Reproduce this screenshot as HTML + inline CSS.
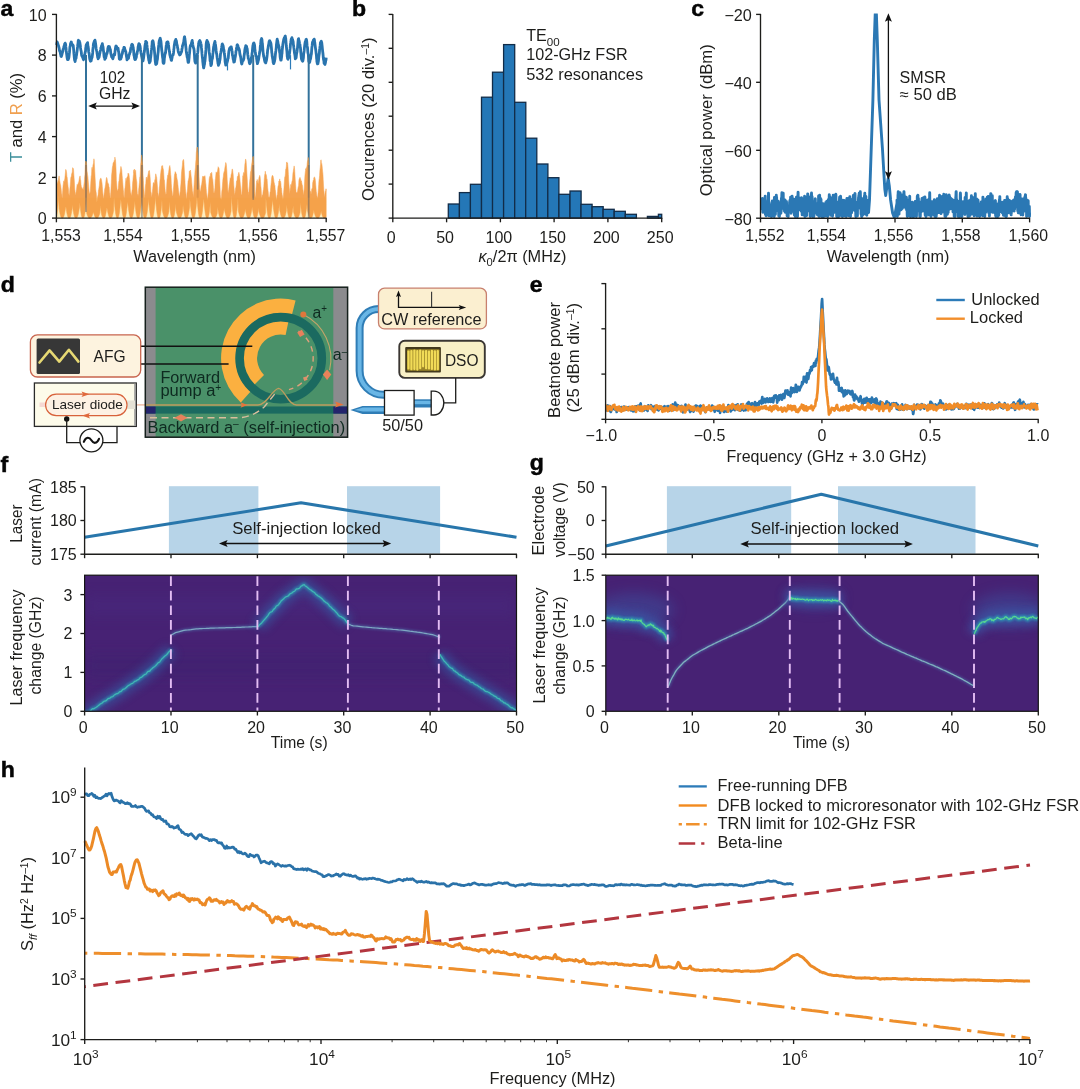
<!DOCTYPE html>
<html lang="en"><head><meta charset="utf-8"><title>Figure</title>
<style>html,body{margin:0;padding:0;background:#fff}svg{display:block}text{font-family:"Liberation Sans", sans-serif}</style></head>
<body>
<svg width="1080" height="1089" viewBox="0 0 1080 1089">
<rect width="1080" height="1089" fill="#ffffff"/>
<g>
<defs><filter id="gl1" filterUnits="userSpaceOnUse" x="0" y="540" width="1080" height="200"><feGaussianBlur stdDeviation="4.2"/></filter><filter id="gl2" filterUnits="userSpaceOnUse" x="0" y="540" width="1080" height="200"><feGaussianBlur stdDeviation="1.3"/></filter><filter id="gl3" filterUnits="userSpaceOnUse" x="0" y="540" width="1080" height="200"><feGaussianBlur stdDeviation="7"/></filter><filter id="gl0" filterUnits="userSpaceOnUse" x="0" y="540" width="1080" height="200"><feGaussianBlur stdDeviation="0.6"/></filter></defs>
</g>
<g>
<polyline points="56.4,44.9 56.6,44.1 56.8,43.2 57,43.1 57.2,42 57.4,43.5 57.6,43.3 57.7,43.2 57.9,44.6 58.1,44.5 58.3,45.6 58.5,45.8 58.7,46.2 58.9,47.6 59.1,47.7 59.3,49.1 59.5,50.7 59.7,50.9 59.9,51.8 60.1,51.2 60.3,52.4 60.4,53.6 60.6,54.4 60.8,55.2 61,56.3 61.2,56.5 61.4,56.4 61.6,55.3 61.8,55.1 62,54.4 62.2,52.7 62.4,52.9 62.6,51.6 62.8,51.7 63,49.6 63.1,49.3 63.3,49.1 63.5,48.4 63.7,48.2 63.9,46.4 64.1,46.8 64.3,45.9 64.5,44.8 64.7,43.8 64.9,43.5 65.1,43.1 65.3,43.7 65.5,43.8 65.7,44.8 65.8,46.9 66,47.9 66.2,50.7 66.4,52 66.6,53.8 66.8,55.3 67,57 67.2,58.3 67.4,59.2 67.6,59.6 67.8,59 68,59.4 68.2,59.5 68.4,59 68.5,58.2 68.7,58.3 68.9,57.3 69.1,55.6 69.3,53.5 69.5,52.2 69.7,49.5 69.9,47 70.1,46.3 70.3,45.6 70.5,43.9 70.7,43 70.9,42.9 71.1,42.5 71.2,42 71.4,42.1 71.6,43.6 71.8,43.6 72,44.9 72.2,44.4 72.4,44.4 72.6,44.7 72.8,45.1 73,45.8 73.2,45.5 73.4,47.4 73.6,49.3 73.8,51.6 73.9,53.4 74.1,55.3 74.3,57.6 74.5,59.4 74.7,60.5 74.9,60.1 75.1,61.6 75.3,60.4 75.5,58.9 75.7,58.6 75.9,58.6 76.1,58 76.3,55.8 76.5,55.2 76.6,54.8 76.8,52.8 77,51.9 77.2,50.1 77.4,48.2 77.6,46.7 77.8,44.3 78,43.5 78.2,41 78.4,40.3 78.6,41 78.8,41.1 79,41.5 79.2,41.3 79.3,41.1 79.5,41.6 79.7,42 79.9,43 80.1,44.3 80.3,45.5 80.5,47.5 80.7,49.1 80.9,50.4 81.1,50.8 81.3,52.1 81.5,54.2 81.7,55.4 81.9,55.1 82,55.8 82.2,56.5 82.4,56.6 82.6,57.4 82.8,57.5 83,58.6 83.2,58.4 83.4,59.4 83.6,59.8 83.8,58.9 84,58.9 84.2,57.2 84.4,55.5 84.6,55.9 84.7,54.4 84.9,53.9 85.1,52.6 85.3,51.9 85.5,51.3 85.7,48.1 85.9,47.6 86.1,45.4 86.3,45 86.5,44.5 86.7,44 86.9,44.5 87.1,44 87.3,44.4 87.4,43 87.6,42.6 87.8,44.8 88,46.4 88.2,47.3 88.4,48.3 88.6,51.2 88.8,52.6 89,52.8 89.2,53.9 89.4,55.9 89.6,58.1 89.8,59.4 90,59.2 90.1,60.3 90.3,60.9 90.5,61.2 90.7,60.9 90.9,60.2 91.1,60.9 91.3,60.1 91.5,58.8 91.7,58.4 91.9,57.7 92.1,57.3 92.3,55.7 92.5,54.4 92.7,52.9 92.8,50 93,48.4 93.2,46.7 93.4,44 93.6,43.7 93.8,42.8 94,42.2 94.2,41.6 94.4,41 94.6,41.1 94.8,40.8 95,40.2 95.2,41.3 95.4,42.3 95.5,43.3 95.7,44.5 95.9,46 96.1,48.7 96.3,49.2 96.5,50.2 96.7,51.1 96.9,51.7 97.1,54 97.3,54.2 97.5,56 97.7,57.6 97.9,57.7 98.1,58.8 98.2,58.2 98.4,58.3 98.6,57.8 98.8,57.7 99,57.6 99.2,56.6 99.4,55.5 99.6,54 99.8,53.6 100,52.2 100.2,51.5 100.4,50.5 100.6,50.2 100.8,49.2 100.9,47.7 101.1,47.6 101.3,47.1 101.5,45.9 101.7,45.5 101.9,45.9 102.1,44.9 102.3,43.6 102.5,44.6 102.7,46.1 102.9,46.2 103.1,47.4 103.3,49.5 103.5,51.4 103.6,51.3 103.8,53.4 104,55.7 104.2,57 104.4,57.2 104.6,57.8 104.8,59.4 105,58.7 105.2,57.7 105.4,57.2 105.6,58.3 105.8,57.8 106,56.1 106.2,56 106.3,55.3 106.5,54.2 106.7,53.2 106.9,53.8 107.1,53.1 107.3,52.2 107.5,51.5 107.7,49.8 107.9,48.8 108.1,47.1 108.3,47.3 108.5,46.4 108.7,46.4 108.9,47.1 109,47.9 109.2,47.7 109.4,46.7 109.6,47.5 109.8,48.4 110,48.5 110.2,49.3 110.4,49.7 110.6,51.8 110.8,53.4 111,54.1 111.2,55 111.4,55.4 111.6,56.8 111.7,56.1 111.9,55.9 112.1,56.6 112.3,57.8 112.5,58.1 112.7,57.6 112.9,58.8 113.1,57.8 113.3,57.2 113.5,55.6 113.7,55.3 113.9,55 114.1,54.3 114.3,54.5 114.4,54.8 114.6,55 114.8,53.8 115,51.6 115.2,50.2 115.4,48.6 115.6,47.3 115.8,46.3 116,46 116.2,47.2 116.4,47 116.6,46.6 116.8,47.2 117,47.5 117.1,47.7 117.3,47.9 117.5,48.9 117.7,49 117.9,48.1 118.1,48.4 118.3,50.1 118.5,51.5 118.7,51.7 118.9,53.9 119.1,56.1 119.3,58.9 119.5,58.3 119.7,58.3 119.8,59.3 120,58.7 120.2,58.9 120.4,58.3 120.6,58.6 120.8,59 121,58 121.2,57.8 121.4,57.3 121.6,55.7 121.8,55 122,53.6 122.2,53.5 122.4,53.6 122.5,51.7 122.7,52 122.9,50.2 123.1,50.3 123.3,50.5 123.5,48.9 123.7,48.4 123.9,47.5 124.1,48.5 124.3,47.3 124.5,47.7 124.7,48.5 124.9,49.7 125.1,50.3 125.2,50 125.4,51.3 125.6,51.3 125.8,51.6 126,53.1 126.2,54.5 126.4,56 126.6,57.1 126.8,57.9 127,59.9 127.2,59.1 127.4,58.4 127.6,58.5 127.8,58.8 127.9,58.7 128.1,58 128.3,57.9 128.5,58.3 128.7,56.9 128.9,56 129.1,54.7 129.3,54.5 129.5,54.2 129.7,53 129.9,53 130.1,52 130.3,52.1 130.5,50.1 130.6,49 130.8,48.6 131,47.2 131.2,47.2 131.4,46.2 131.6,45 131.8,44.4 132,44.3 132.2,44.5 132.4,44.7 132.6,44.8 132.8,45.8 133,47 133.2,47.2 133.3,48.3 133.5,50 133.7,51.7 133.9,55 134.1,56 134.3,56.1 134.5,58 134.7,59.1 134.9,59.6 135.1,58 135.3,58.1 135.5,59.4 135.7,58.2 135.9,57.1 136,57.5 136.2,57.7 136.4,56.7 136.6,54.6 136.8,53.4 137,54 137.2,52.2 137.4,51.2 137.6,51 137.8,50.4 138,48 138.2,46.3 138.4,45.9 138.6,44.8 138.7,44.3 138.9,43.7 139.1,44.6 139.3,44.3 139.5,44.2 139.7,45.3 139.9,45.6 140.1,46.3 140.3,47.9 140.5,49.5 140.7,50.8 140.9,52.3 141.1,53.4 141.3,53.9 141.4,54.3 141.6,56 141.8,56.8 142,57.7 142.2,58.9 142.4,59.7 142.6,61.1 142.8,60.5 143,60.8 143.2,60 143.4,58.7 143.6,57.9 143.8,55.9 144,54.5 144.1,52.9 144.3,52.3 144.5,51 144.7,48.7 144.9,46.5 145.1,44.9 145.3,43.9 145.5,42.8 145.7,41.3 145.9,41.3 146.1,42.6 146.3,42.3 146.5,42.4 146.7,42.2 146.8,44.4 147,45.4 147.2,47.4 147.4,48.7 147.6,50.9 147.8,53.6 148,54.5 148.2,56.1 148.4,57.3 148.6,58.8 148.8,60.3 149,60.6 149.2,61.4 149.4,62.8 149.5,61.8 149.7,62.5 149.9,61.5 150.1,61.7 150.3,60.9 150.5,58.3 150.7,57.3 150.9,55.4 151.1,53.8 151.3,50.6 151.5,49.4 151.7,47.7 151.9,45.6 152.1,44.1 152.2,41.9 152.4,41.6 152.6,40.9 152.8,40.8 153,41.1 153.2,41.8 153.4,43.2 153.6,44.7 153.8,46.9 154,47.1 154.2,48.1 154.4,50.6 154.6,52.8 154.8,54.8 154.9,56.1 155.1,59.4 155.3,61.5 155.5,62.9 155.7,64.3 155.9,64.5 156.1,63.4 156.3,63.6 156.5,63.5 156.7,63.6 156.9,62.1 157.1,60.3 157.3,59.9 157.5,58.8 157.6,57 157.8,55 158,53.3 158.2,52.1 158.4,48.9 158.6,46.1 158.8,44.7 159,42.7 159.2,41.3 159.4,40.2 159.6,40.2 159.8,39.8 160,38.6 160.2,38.2 160.3,38.4 160.5,39.7 160.7,40.3 160.9,41.1 161.1,43.1 161.3,45.3 161.5,47.7 161.7,50 161.9,51.1 162.1,52.7 162.3,55 162.5,56.7 162.7,58 162.9,58.9 163,61.7 163.2,62.9 163.4,63 163.6,63.4 163.8,62.9 164,62.8 164.2,60.7 164.4,57.9 164.6,56.9 164.8,55 165,54.4 165.2,53.3 165.4,52.3 165.6,52.9 165.7,51.2 165.9,49.2 166.1,47 166.3,45.3 166.5,44.2 166.7,42.7 166.9,42.1 167.1,42.8 167.3,42.8 167.5,41.8 167.7,42 167.9,41.9 168.1,43.4 168.3,43.1 168.4,44.7 168.6,46.1 168.8,47.2 169,49.3 169.2,49.9 169.4,51.6 169.6,52.6 169.8,54.7 170,55.5 170.2,56.1 170.4,57.3 170.6,57.6 170.8,58 171,58.7 171.1,59.8 171.3,60.3 171.5,60.4 171.7,59.6 171.9,58.3 172.1,57.7 172.3,55.9 172.5,55.6 172.7,55 172.9,54.3 173.1,55 173.3,54.1 173.5,53 173.7,50.9 173.8,49.4 174,48.7 174.2,46 174.4,44.3 174.6,43.6 174.8,42.3 175,41.2 175.2,40.8 175.4,40.6 175.6,40 175.8,39.4 176,40.2 176.2,41.4 176.4,40.9 176.5,41.7 176.7,43.2 176.9,44.8 177.1,44.8 177.3,45.7 177.5,47.4 177.7,48.2 177.9,48.9 178.1,50.5 178.3,51.7 178.5,52.4 178.7,52.8 178.9,53.1 179.1,53.7 179.2,53.6 179.4,54.1 179.6,55 179.8,54.7 180,54.8 180.2,54.7 180.4,54.3 180.6,53.7 180.8,53.7 181,52.8 181.2,52.2 181.4,51.5 181.6,51.8 181.8,50.4 181.9,48.9 182.1,48.7 182.3,47.4 182.5,45.8 182.7,45.3 182.9,44.8 183.1,44.3 183.3,43.3 183.5,42.6 183.7,42.2 183.9,40.2 184.1,38.9 184.3,37.4 184.5,36.8 184.6,36.7 184.8,38.3 185,39.3 185.2,40.9 185.4,42.9 185.6,44.7 185.8,46.8 186,48.1 186.2,50.7 186.4,52.3 186.6,53.5 186.8,54.8 187,55.7 187.2,57.2 187.3,57.2 187.5,57.7 187.7,59.3 187.9,61 188.1,62.3 188.3,62 188.5,62.4 188.7,61.7 188.9,59.3 189.1,57.8 189.3,54.7 189.5,53.7 189.7,51.3 189.9,48.7 190,47.8 190.2,46.5 190.4,45.5 190.6,45.6 190.8,45.6 191,45.9 191.2,44.4 191.4,43.2 191.6,42.6 191.8,42.1 192,40.9 192.2,40.4 192.4,42.1 192.6,42.7 192.7,44.2 192.9,45.3 193.1,46.4 193.3,47 193.5,48.1 193.7,48.1 193.9,48.9 194.1,50.2 194.3,52.8 194.5,55.6 194.7,59.1 194.9,61.2 195.1,61.8 195.3,62.8 195.4,62.4 195.6,63.1 195.8,62.2 196,62.3 196.2,62.6 196.4,61.5 196.6,60.4 196.8,59.3 197,57.3 197.2,55.7 197.4,53.9 197.6,53.1 197.8,52.2 198,50.2 198.1,48.2 198.3,46.8 198.5,45.2 198.7,44.1 198.9,42.1 199.1,41.8 199.3,41.3 199.5,41.1 199.7,41.1 199.9,40.5 200.1,42.5 200.3,41.8 200.5,42.1 200.7,42.7 200.8,43.3 201,44.3 201.2,44.8 201.4,47.4 201.6,49.3 201.8,51.1 202,53.9 202.2,55.8 202.4,57.8 202.6,59 202.8,61.8 203,63.4 203.2,65.3 203.4,66.2 203.5,67.4 203.7,67.9 203.9,66.9 204.1,65.9 204.3,64.8 204.5,64.3 204.7,61.9 204.9,61.4 205.1,59.7 205.3,57.4 205.5,54.8 205.7,51.9 205.9,49.9 206.1,46.2 206.2,44 206.4,42.7 206.6,42 206.8,41.2 207,40.4 207.2,41.7 207.4,42.6 207.6,41.6 207.8,42.1 208,42.6 208.2,43.4 208.4,44.5 208.6,44.4 208.8,46.7 208.9,47.9 209.1,51.4 209.3,53.3 209.5,54.3 209.7,55.7 209.9,57.9 210.1,60.8 210.3,60.3 210.5,61.8 210.7,63.9 210.9,65.7 211.1,65.3 211.3,64.7 211.5,64.2 211.6,63.5 211.8,60.7 212,59.8 212.2,58.4 212.4,58.5 212.6,56.6 212.8,54 213,53 213.2,50.8 213.4,49 213.6,46.8 213.8,46.7 214,45.1 214.2,43.9 214.3,43.9 214.5,42.9 214.7,42.6 214.9,41.5 215.1,42.4 215.3,43.7 215.5,44.7 215.7,46.4 215.9,47.9 216.1,50.2 216.3,51.9 216.5,53.4 216.7,54.2 216.9,55.1 217,56.6 217.2,57.9 217.4,59 217.6,60.3 217.8,61.7 218,63.6 218.2,63.6 218.4,65.3 218.6,64.7 218.8,64.1 219,64 219.2,62.7 219.4,63 219.6,61.7 219.7,60.9 219.9,60 220.1,58.8 220.3,56.7 220.5,54.1 220.7,53.1 220.9,52.3 221.1,51.4 221.3,50 221.5,48.4 221.7,47.5 221.9,46.3 222.1,44.4 222.3,44 222.4,44 222.6,44.8 222.8,45.4 223,45.3 223.2,46.3 223.4,47.5 223.6,49.3 223.8,50.5 224,50.1 224.2,52.4 224.4,54.1 224.6,55.3 224.8,57 225,59.5 225.1,61.5 225.3,62.9 225.5,63.4 225.7,65.1 225.9,64.8 226.1,64.2 226.3,64.1 226.5,63.5 226.7,63.7 226.9,62.7 227.1,62.3 227.3,60.9 227.5,61.1 227.7,60 227.8,59.2 228,58.5 228.2,58.3 228.4,56.4 228.6,53.6 228.8,51.9 229,50.6 229.2,50.2 229.4,49 229.6,48.4 229.8,48.1 230,48.3 230.2,48.3 230.4,47.5 230.5,47.3 230.7,47.1 230.9,47.9 231.1,46.9 231.3,46.9 231.5,48.4 231.7,49.2 231.9,50.3 232.1,51.2 232.3,53.8 232.5,55.6 232.7,55.4 232.9,57.2 233.1,58.6 233.2,59.3 233.4,59.5 233.6,60.6 233.8,62.2 234,61.4 234.2,61.4 234.4,61.8 234.6,60.3 234.8,59.8 235,58 235.2,57.3 235.4,56.3 235.6,54.5 235.8,53.4 235.9,51.8 236.1,50.9 236.3,49.9 236.5,48.1 236.7,47.7 236.9,46.5 237.1,45 237.3,44.7 237.5,45 237.7,45.3 237.9,45.8 238.1,47.3 238.3,47.3 238.5,48.2 238.6,47.8 238.8,49.2 239,49.3 239.2,49.2 239.4,50.7 239.6,51.4 239.8,53.3 240,54.6 240.2,55.3 240.4,56 240.6,56.7 240.8,57.9 241,59.3 241.2,61 241.3,62 241.5,62.9 241.7,64 241.9,63.8 242.1,62.7 242.3,61.9 242.5,60.7 242.7,60.3 242.9,60.7 243.1,60.5 243.3,60.5 243.5,59.4 243.7,59.2 243.9,58.4 244,56.7 244.2,55 244.4,54.1 244.6,52.3 244.8,50 245,49 245.2,47.9 245.4,47.2 245.6,46.4 245.8,45.6 246,46.7 246.2,46.9 246.4,47 246.6,46.4 246.7,47.6 246.9,49.1 247.1,48.3 247.3,49.7 247.5,51.9 247.7,54.2 247.9,55.6 248.1,56.8 248.3,58.5 248.5,58.8 248.7,58.9 248.9,60 249.1,60.6 249.3,62.6 249.4,62.9 249.6,63.5 249.8,63.7 250,63.1 250.2,63.2 250.4,62 250.6,61 250.8,61.9 251,60.2 251.2,58.9 251.4,58.1 251.6,56.7 251.8,56.6 252,53.7 252.1,53 252.3,52.1 252.5,49.5 252.7,47.3 252.9,45.6 253.1,45.1 253.3,43.8 253.5,43.9 253.7,43.1 253.9,43 254.1,44 254.3,44.1 254.5,44.8 254.7,46.4 254.8,48.3 255,49.9 255.2,51.4 255.4,52.6 255.6,54.6 255.8,55.1 256,56.4 256.2,56.3 256.4,56.5 256.6,58.8 256.8,59.8 257,61.6 257.2,62.4 257.4,63.7 257.5,63.3 257.7,62.7 257.9,62.2 258.1,61.1 258.3,60.8 258.5,59.8 258.7,58.9 258.9,57 259.1,55.8 259.3,54.8 259.5,53.3 259.7,51.7 259.9,51.3 260.1,50 260.2,47.7 260.4,45.5 260.6,44.5 260.8,42.5 261,40 261.2,40.3 261.4,39.3 261.6,38.5 261.8,39.1 262,39.8 262.2,42.5 262.4,43.3 262.6,46.1 262.8,48.4 262.9,49.9 263.1,52.6 263.3,53.5 263.5,55 263.7,56.5 263.9,57 264.1,57.9 264.3,58.6 264.5,60.1 264.7,60.9 264.9,61.8 265.1,62.3 265.3,62.3 265.5,62.7 265.6,62.9 265.8,62.7 266,61.6 266.2,61.2 266.4,60.6 266.6,59.4 266.8,58 267,56.5 267.2,54.9 267.4,52.8 267.6,50.7 267.8,49 268,48.8 268.2,47 268.3,46.3 268.5,45.1 268.7,44.8 268.9,42.9 269.1,41.6 269.3,41.4 269.5,40.8 269.7,40.7 269.9,41.4 270.1,42 270.3,41.8 270.5,42.5 270.7,42.8 270.9,43.4 271,44 271.2,46 271.4,47.7 271.6,50.1 271.8,52.9 272,53.3 272.2,56.1 272.4,56.9 272.6,58.4 272.8,59.3 273,60.5 273.2,62.5 273.4,62.7 273.6,63.7 273.7,63.6 273.9,63.2 274.1,62.6 274.3,61.8 274.5,61.4 274.7,60.1 274.9,59.4 275.1,57.3 275.3,55.4 275.5,53.5 275.7,51.8 275.9,50.7 276.1,48.8 276.3,47.2 276.4,45 276.6,43.5 276.8,42 277,40.2 277.2,39.2 277.4,40.2 277.6,40.7 277.8,41.5 278,43 278.2,44.5 278.4,44.6 278.6,45.3 278.8,46.7 279,46.7 279.1,48 279.3,49 279.5,50.9 279.7,52.9 279.9,53 280.1,56.5 280.3,58 280.5,58.8 280.7,60 280.9,58.8 281.1,60.2 281.3,59.1 281.5,57.6 281.7,56.3 281.8,54.3 282,53.6 282.2,50.3 282.4,48.6 282.6,47 282.8,44.7 283,43.5 283.2,42.2 283.4,41.4 283.6,40 283.8,39.2 284,38.6 284.2,38.4 284.4,37.7 284.5,38.3 284.7,37.6 284.9,37 285.1,36.2 285.3,36 285.5,37.9 285.7,38.1 285.9,40.7 286.1,43.3 286.3,46 286.5,47.5 286.7,49.6 286.9,51.4 287.1,54 287.2,56.2 287.4,56.8 287.6,58.5 287.8,59 288,59.3 288.2,58.2 288.4,57.2 288.6,58 288.8,56.6 289,54.9 289.2,54.7 289.4,54.1 289.6,52.9 289.8,51 289.9,50.1 290.1,48.7 290.3,46.5 290.5,43.9 290.7,43.6 290.9,42 291.1,39.6 291.3,39 291.5,39.3 291.7,38.6 291.9,37.7 292.1,38.4 292.3,39 292.5,40.6 292.6,39.5 292.8,41.2 293,41 293.2,42.1 293.4,44.8 293.6,45.5 293.8,47.5 294,48.8 294.2,50.4 294.4,52.7 294.6,53.4 294.8,54.4 295,55.7 295.2,57.5 295.3,58.9 295.5,57.9 295.7,57.3 295.9,57.8 296.1,57.8 296.3,56 296.5,54.4 296.7,53.1 296.9,52.3 297.1,51.2 297.3,49.2 297.5,48.1 297.7,45.4 297.9,43 298,41.9 298.2,39.8 298.4,39 298.6,38.6 298.8,40 299,40.5 299.2,41.1 299.4,42.4 299.6,43.6 299.8,44.2 300,44.8 300.2,46.9 300.4,47.4 300.6,49.4 300.7,51.6 300.9,53.4 301.1,55.3 301.3,57.5 301.5,59.2 301.7,59.6 301.9,59.7 302.1,60.7 302.3,59.9 302.5,60.6 302.7,61.2 302.9,60.7 303.1,59.5 303.3,58.5 303.4,57.8 303.6,54.7 303.8,52.8 304,52.1 304.2,50.4 304.4,48 304.6,46.1 304.8,44.6 305,43.2 305.2,42 305.4,42.1 305.6,41.3 305.8,40.3 306,39.6 306.1,39.5 306.3,39.3 306.5,39.8 306.7,41 306.9,43 307.1,45.7 307.3,46.9 307.5,47.5 307.7,50.2 307.9,52.7 308.1,53.3 308.3,54.3 308.5,57 308.7,59.8 308.8,61.3 309,61.6 309.2,62.3 309.4,62.6 309.6,61.8 309.8,61.9 310,60.6 310.2,59.5 310.4,59 310.6,58.8 310.8,57.2 311,55.7 311.2,54.6 311.4,54 311.5,52.3 311.7,49.7 311.9,47.4 312.1,45.9 312.3,44 312.5,42.2 312.7,41.7 312.9,41.4 313.1,41.6 313.3,41.2 313.5,39.8 313.7,40 313.9,39.9 314.1,39.5 314.2,39.2 314.4,39.7 314.6,41.9 314.8,42.7 315,44.3 315.2,46 315.4,47.6 315.6,49 315.8,50.3 316,52 316.2,53.8 316.4,55 316.6,58.4 316.8,59.8 316.9,61.7 317.1,62.4 317.3,63.4 317.5,63.9 317.7,63.6 317.9,63.8 318.1,62.3 318.3,61.9 318.5,60.4 318.7,57.8 318.9,56 319.1,54.7 319.3,53.8 319.5,51.2 319.6,49.4 319.8,48.2 320,46.8 320.2,45.2 320.4,42.8 320.6,42.5 320.8,42.2 321,41.5 321.2,41.2 321.4,42 321.6,42.1 321.8,43.1 322,45 322.2,46.6 322.3,47.8 322.5,49.7 322.7,51.8 322.9,53 323.1,55.1 323.3,57.8 323.5,59.2 323.7,60.1 323.9,60.9 324.1,63.3 324.3,63.2 324.5,63.4 324.7,63.6 324.9,64.3 325,64.4 325.2,62.7 325.4,63 325.6,61.4 325.8,60.5 326,59.8 326.2,57.6" fill="none" stroke="#2974ae" stroke-width="2.8" stroke-linejoin="round" />
<line x1="86" y1="55.1" x2="86" y2="216.1" stroke="#33729b" stroke-width="2.0" />
<line x1="141.9" y1="55.1" x2="141.9" y2="216.1" stroke="#33729b" stroke-width="2.0" />
<line x1="197.7" y1="55.1" x2="197.7" y2="216.1" stroke="#33729b" stroke-width="2.0" />
<line x1="253.2" y1="55.1" x2="253.2" y2="216.1" stroke="#33729b" stroke-width="2.0" />
<line x1="308.7" y1="55.1" x2="308.7" y2="216.1" stroke="#33729b" stroke-width="2.0" />
<line x1="227.5" y1="55.1" x2="227.5" y2="70.4" stroke="#2c7bb8" stroke-width="1.2" />
<line x1="290.5" y1="55.1" x2="290.5" y2="69.4" stroke="#2c7bb8" stroke-width="1.2" />
<rect x="56.4" y="197.7" width="269.8" height="20.4" fill="#ffefc0" stroke="none" stroke-width="1" rx="0" />
<polygon points="56.4,187 56.7,183.1 57,182.2 57.3,183.3 57.6,183.6 57.9,180.6 58.2,181.2 58.5,179.1 58.8,177.6 59.1,175.9 59.4,178.4 59.7,180.6 60,182.2 60.3,184.3 60.6,184.7 60.9,187.3 61.2,189.5 61.5,193.5 61.8,193.9 62.1,198.5 62.4,195.5 62.7,190.4 63,186.2 63.3,183.8 63.6,181.9 63.9,180.8 64.2,182.3 64.5,180 64.8,179 65.1,175.8 65.4,172.8 65.7,169.4 66,169.8 66.3,170.7 66.6,172.8 66.9,176.4 67.2,177.4 67.5,181.2 67.8,184 68.1,186.7 68.4,188.8 68.7,193.3 69,194.4 69.3,195.7 69.6,192.4 69.9,188.3 70.2,185.7 70.5,181.7 70.8,177.6 71.1,177.1 71.4,176.1 71.7,173.6 72,173.3 72.3,171.5 72.6,167.7 72.9,168.1 73.2,168.3 73.5,169.2 73.8,174 74.1,177.9 74.4,182.1 74.7,187.9 75,191.4 75.3,192.8 75.6,194.7 75.9,194.3 76.2,190.5 76.5,189.5 76.8,186.9 77.1,184.3 77.4,184.7 77.7,185.5 78,184 78.3,182.7 78.6,183.2 78.9,181.1 79.2,179.4 79.5,177.6 79.8,176.6 80.1,175.9 80.4,179.4 80.7,180.3 81,184.5 81.3,186.3 81.6,188.4 81.9,187.4 82.2,188.6 82.5,188.7 82.8,189 83.1,189.9 83.4,188.1 83.7,186.8 84,183.9 84.3,181.8 84.6,176.9 84.9,174.9 85.2,168.3 85.5,161.5 85.8,161 86.1,161.4 86.4,161.9 86.7,165.4 87,171.1 87.3,172.5 87.6,174.9 87.9,176.7 88.2,180.6 88.5,184.1 88.8,187.4 89.1,191.1 89.4,193.1 89.7,193.8 90,192.9 90.3,191 90.6,186.1 90.9,180.5 91.2,176.3 91.5,175 91.8,168.7 92.1,167.2 92.4,170.2 92.7,168.5 93,164.4 93.3,164.4 93.6,162.3 93.9,158.8 94.2,160.2 94.5,166.2 94.8,172 95.1,177.9 95.4,182.7 95.7,188.9 96,191.6 96.3,193.2 96.6,198 96.9,202.2 97.2,199.8 97.5,197 97.8,196.1 98.1,194.5 98.4,190.1 98.7,189.5 99,187.4 99.3,185.6 99.6,181.5 99.9,180.1 100.2,178.9 100.5,178.9 100.8,177.9 101.1,178.8 101.4,179.4 101.7,181.2 102,183.1 102.3,186.3 102.6,190.1 102.9,193.8 103.2,195.5 103.5,198.6 103.8,198 104.1,193.8 104.4,191.9 104.7,188.9 105,187.9 105.3,186 105.6,184.2 105.9,181.3 106.2,179.6 106.5,177.4 106.8,177.8 107.1,178.7 107.4,181.1 107.7,183.5 108,182.8 108.3,184.3 108.6,184.1 108.9,186.6 109.2,187.2 109.5,192.2 109.8,193.2 110.1,198.3 110.4,197.8 110.7,193.9 111,188.1 111.3,182.6 111.6,175.2 111.9,172.5 112.2,168.9 112.5,166.5 112.8,165.6 113.1,163 113.4,162.6 113.7,161.9 114,161.7 114.3,160.3 114.6,162.7 114.9,157.1 115.2,159.2 115.5,159.9 115.8,164.1 116.1,170.8 116.4,180.6 116.7,183.7 117,188.7 117.3,191.2 117.6,190.4 117.9,189.4 118.2,188.7 118.5,185 118.8,181.5 119.1,180.6 119.4,177.1 119.7,174.3 120,173.1 120.3,171.1 120.6,168.3 120.9,166.4 121.2,167.3 121.5,168.7 121.8,170.5 122.1,175.1 122.4,178.5 122.7,181.8 123,186 123.3,189.8 123.6,192.3 123.9,196.3 124.2,197.9 124.5,194.8 124.8,189 125.1,187.3 125.4,183.4 125.7,180.7 126,178.1 126.3,180.7 126.6,180.2 126.9,177.4 127.2,177 127.5,176.4 127.8,175.9 128.1,173.1 128.4,174.9 128.7,173.6 129,174.7 129.3,177.2 129.6,179.4 129.9,183.6 130.2,188.4 130.5,192.3 130.8,192.8 131.1,194.8 131.4,195.8 131.7,193.3 132,190.5 132.3,189.1 132.6,183.1 132.9,180.5 133.2,177 133.5,174.4 133.8,169.9 134.1,173 134.4,169 134.7,169.7 135,171.7 135.3,173.9 135.6,170.2 135.9,174.2 136.2,178.2 136.5,180.3 136.8,182.2 137.1,189.8 137.4,193.8 137.7,195.4 138,194.3 138.3,196 138.6,190.2 138.9,187.5 139.2,184.5 139.5,182.1 139.8,177 140.1,176.4 140.4,170.5 140.7,164.4 141,162.2 141.3,159.3 141.6,154.9 141.9,156.1 142.2,159.4 142.5,163.1 142.8,168.4 143.1,175.7 143.4,180.5 143.7,186.5 144,190.2 144.3,193.9 144.6,196.8 144.9,198.2 145.2,190.3 145.5,185.3 145.8,183.4 146.1,178.1 146.4,177 146.7,178.4 147,180.2 147.3,178.1 147.6,177.1 147.9,175.3 148.2,173.9 148.5,172 148.8,170.9 149.1,171.3 149.4,170.4 149.7,173.3 150,176 150.3,180.2 150.6,186.1 150.9,191.8 151.2,192.8 151.5,196.1 151.8,197.1 152.1,194 152.4,191.3 152.7,188.6 153,185.3 153.3,182.8 153.6,182.6 153.9,182.8 154.2,184 154.5,182.5 154.8,179.8 155.1,180.2 155.4,176.9 155.7,173.8 156,174.5 156.3,176.3 156.6,176.9 156.9,180.2 157.2,183.6 157.5,187.6 157.8,192.4 158.1,193.5 158.4,195.6 158.7,196.4 159,193.9 159.3,187.2 159.6,186 159.9,181 160.2,178.8 160.5,175.1 160.8,172.4 161.1,170.1 161.4,168.6 161.7,166 162,165.7 162.3,166.2 162.6,165.6 162.9,168 163.2,168.7 163.5,170.2 163.8,174.6 164.1,179.4 164.4,180 164.7,183.9 165,188.4 165.3,192 165.6,193 165.9,194.5 166.2,193.7 166.5,188.7 166.8,183.7 167.1,179.3 167.4,177.8 167.7,175.2 168,175.7 168.3,173.5 168.6,172.4 168.9,170.1 169.2,167.7 169.5,166.3 169.8,165.5 170.1,167.1 170.4,170.5 170.7,174.4 171,177 171.3,183.6 171.6,187.4 171.9,190.3 172.2,192.6 172.5,195.8 172.8,196.3 173.1,194.2 173.4,189.7 173.7,185.7 174,181.8 174.3,176.9 174.6,174.3 174.9,173.4 175.2,171.6 175.5,172.5 175.8,172.5 176.1,173.8 176.4,174 176.7,176.9 177,178.5 177.3,180 177.6,181.5 177.9,184.6 178.2,187.5 178.5,190.3 178.8,192.4 179.1,194.8 179.4,196.1 179.7,196.2 180,192.7 180.3,191 180.6,186.9 180.9,184 181.2,178.7 181.5,173.1 181.8,170 182.1,167.4 182.4,165.2 182.7,161 183,160.3 183.3,159.6 183.6,159.6 183.9,162 184.2,167.9 184.5,173.1 184.8,177.7 185.1,183.9 185.4,188.2 185.7,191.3 186,194.5 186.3,199.3 186.6,198.3 186.9,193.5 187.2,191.9 187.5,188.7 187.8,184.7 188.1,180.6 188.4,180.5 188.7,178.6 189,177.1 189.3,171 189.6,171.7 189.9,171.6 190.2,170 190.5,170.4 190.8,172.9 191.1,176 191.5,179.1 191.8,183.2 192.1,186.3 192.4,191.2 192.7,191.6 193,194.3 193.3,197 193.6,192.9 193.9,187.6 194.2,183.3 194.5,177.7 194.8,174.4 195.1,170.4 195.4,167.8 195.7,162.7 196,159.4 196.3,152.5 196.6,150.5 196.9,147.7 197.2,148.2 197.5,147 197.8,151.2 198.1,154.8 198.4,161.1 198.7,169.1 199,176.2 199.3,182.8 199.6,188.1 199.9,190.2 200.2,191 200.5,191.7 200.8,189.1 201.1,186.3 201.4,185 201.7,184.3 202,181.7 202.3,178.7 202.6,176.3 202.9,176.4 203.2,176.1 203.5,176.6 203.8,177.1 204.1,176.8 204.4,176.5 204.7,175.9 205,175.6 205.3,179.3 205.6,182.3 205.9,184.4 206.2,188.7 206.5,192.7 206.8,194.2 207.1,197.3 207.4,200.5 207.7,198.2 208,194.9 208.3,191.5 208.6,186.9 208.9,183 209.2,178.8 209.5,177.2 209.8,176.5 210.1,177.1 210.4,174.3 210.7,173.2 211,174.2 211.3,173.4 211.6,172.3 211.9,173.1 212.2,177.2 212.5,178.8 212.8,179.8 213.1,184 213.4,187.6 213.7,192.3 214,193.2 214.3,192 214.6,190.5 214.9,187.7 215.2,180.3 215.5,178.3 215.8,175.2 216.1,171.9 216.4,172.5 216.7,173 217,172.7 217.3,171.8 217.6,170.5 217.9,168.4 218.2,166.7 218.5,167.4 218.8,167.8 219.1,168.5 219.4,174.5 219.7,180.8 220,186.9 220.3,194.2 220.6,198.2 220.9,198.6 221.2,199.8 221.5,196.2 221.8,191.2 222.1,189.5 222.4,186.1 222.7,181.4 223,178.4 223.3,176.8 223.6,173.5 223.9,172.4 224.2,171.4 224.5,170.8 224.8,168.2 225.1,166.5 225.4,164.9 225.7,162.5 226,163.1 226.3,164.2 226.6,167.7 226.9,171.6 227.2,179.4 227.5,183.6 227.8,189.5 228.1,193 228.4,191 228.7,189.9 229,187.2 229.3,184.5 229.6,182.9 229.9,180.4 230.2,177.8 230.5,178.6 230.8,177.7 231.1,174.7 231.4,173.7 231.7,173.1 232,169.5 232.3,168.9 232.6,169.7 232.9,172.2 233.2,174.5 233.5,180.4 233.8,184.9 234.1,188.3 234.4,192.4 234.7,195.1 235,193.2 235.3,190.2 235.6,187.9 235.9,187.3 236.2,185 236.5,181.1 236.8,181.1 237.1,179.7 237.4,176.2 237.7,176.7 238,176.4 238.3,174.3 238.6,173.1 238.9,172.3 239.2,173.7 239.5,175.6 239.8,178.4 240.1,181.6 240.4,185.1 240.7,187.3 241,190.2 241.3,193.9 241.6,194.8 241.9,194.7 242.2,187.6 242.5,181.5 242.8,175.8 243.1,176.4 243.4,173.5 243.7,172.4 244,173.7 244.3,172.8 244.6,168.3 244.9,164.1 245.2,162.5 245.5,159.2 245.8,159.3 246.1,160.7 246.4,165.2 246.7,169.5 247,175.7 247.3,179.7 247.6,186.9 247.9,189.4 248.2,193 248.5,192.3 248.8,194.9 249.1,188.9 249.4,184.8 249.7,181.3 250,178.4 250.3,174.6 250.6,171.6 250.9,171.8 251.2,168.1 251.5,165.6 251.8,163.6 252.1,161.7 252.4,159.7 252.7,157 253,156.9 253.3,156.3 253.6,161.6 253.9,166.9 254.2,174.8 254.5,183.7 254.8,191.5 255.1,196 255.4,198.3 255.7,194.5 256,189.5 256.3,184.7 256.6,181 256.9,180.8 257.2,179.4 257.5,180.8 257.8,182.6 258.1,184.1 258.4,182.2 258.7,180.1 259,177.4 259.3,176.8 259.6,175.5 259.9,175.6 260.2,177.5 260.5,181.4 260.8,186 261.1,188.5 261.4,193.4 261.7,197.9 262,196.3 262.3,194.8 262.6,196.6 262.9,192.9 263.2,190.6 263.5,189.6 263.8,186.5 264.1,181.9 264.4,177.5 264.7,175 265,173.4 265.3,171.2 265.6,173.7 265.9,174.8 266.2,174.6 266.5,175.8 266.8,179.3 267.1,179.1 267.4,183.4 267.7,187.5 268,190.4 268.3,192.5 268.6,197.5 268.9,196.7 269.2,197.6 269.5,196.7 269.8,195.1 270.1,191.8 270.4,191.7 270.7,187.5 271,184.6 271.3,182.1 271.6,178.3 271.9,176.4 272.2,175.8 272.5,175.2 272.8,175.8 273.1,176.2 273.4,177.9 273.7,179.3 274,182.2 274.3,183 274.6,185 274.9,185.4 275.2,189.6 275.5,191.1 275.8,194.1 276.1,198.5 276.4,200.2 276.7,197.9 277,195.3 277.3,194.9 277.6,191.5 277.9,187.6 278.2,185.6 278.5,185.8 278.8,181.2 279.1,181.6 279.4,180.8 279.7,178.9 280,180.4 280.3,182 280.6,181.4 280.9,183.4 281.2,188 281.5,188 281.8,192.1 282.1,194.4 282.4,196.1 282.7,197.8 283,199.7 283.3,196.1 283.6,192.6 283.9,189.1 284.2,184.3 284.5,179.3 284.8,176.8 285.1,176.8 285.4,173.4 285.7,169.2 286,169 286.3,166.7 286.6,162.3 286.9,161.9 287.2,163.8 287.5,162.8 287.8,165.3 288.1,169.1 288.4,174.4 288.7,180.4 289,185.1 289.3,188.3 289.6,190.9 289.9,193.8 290.2,188.6 290.5,187.6 290.8,184.4 291.1,185.7 291.4,184.3 291.7,183.1 292,181.3 292.3,180.5 292.6,178.1 292.9,173.5 293.2,171.8 293.5,169.6 293.8,168.2 294.1,165.9 294.4,167.3 294.7,170.3 295,175.8 295.3,181 295.6,184.3 295.9,189.3 296.2,193.1 296.5,192.5 296.8,192.5 297.1,192.3 297.4,192.2 297.7,190.1 298,187.9 298.3,186.6 298.6,185.6 298.9,180.6 299.2,179 299.5,178.4 299.8,177.6 300.1,177.4 300.4,178.6 300.7,179.2 301,182 301.3,180.7 301.6,182.1 301.9,183.5 302.2,184.9 302.5,185.5 302.8,189.3 303.1,190.6 303.4,194.7 303.7,193.9 304,191.2 304.3,187.5 304.6,181.1 304.9,176.1 305.2,173 305.5,170.5 305.8,168.6 306.1,170 306.4,167.7 306.7,168.1 307,165.5 307.3,162.3 307.6,160.7 307.9,159.8 308.2,157.4 308.5,158.8 308.8,164.4 309.1,170.2 309.4,176.4 309.7,184.7 310,189.7 310.3,192.9 310.6,191.3 310.9,193.5 311.2,193.5 311.5,191.3 311.8,188.8 312.1,188.6 312.4,188.1 312.7,182.8 313,181.5 313.3,180.2 313.6,181 313.9,177.7 314.2,178.5 314.5,176.8 314.8,177.8 315.1,178.6 315.4,180.9 315.7,184.3 316,188.1 316.3,191.7 316.6,193.2 316.9,195.9 317.2,196.7 317.5,198.8 317.8,196.2 318.1,192.4 318.4,188.7 318.7,184.4 319,180.2 319.3,178.5 319.6,175.4 319.9,170.4 320.2,167.9 320.5,164.8 320.8,160.2 321.1,159.8 321.4,162.9 321.7,163.4 322,165 322.3,168.1 322.6,171.2 322.9,173.8 323.2,179.6 323.5,185.2 323.8,189.8 324.1,193.1 324.4,196.5 324.7,196.2 325,193.5 325.3,191.4 325.6,192.2 325.9,188.8 326.2,188.9 326.2,216.7 325.9,217.2 325.6,217.6 325.3,217.9 325,218 324.7,218.1 324.4,218.1 324.1,218.1 323.8,218 323.5,217.8 323.2,217.5 322.9,217 322.6,216.4 322.3,215.7 322,214.8 321.7,213.7 321.4,212.5 321.1,211.3 320.8,213.1 320.5,214 320.2,214.9 319.9,215.7 319.6,216.4 319.3,217 319,217.4 318.7,217.7 318.4,217.9 318.1,218.1 317.8,218.1 317.5,218.1 317.2,218.1 316.9,218 316.6,217.9 316.3,217.6 316,217.2 315.7,216.7 315.4,216.1 315.1,215.4 314.8,214.6 314.5,213.6 314.2,212.6 313.9,210 313.6,211.6 313.3,213 313,214.3 312.7,215.4 312.4,216.3 312.1,217 311.8,217.5 311.5,217.8 311.2,218 310.9,218.1 310.6,218.1 310.3,218.1 310,218 309.7,217.7 309.4,217.3 309.1,216.7 308.8,215.9 308.5,214.9 308.2,213.7 307.9,212.4 307.6,210.9 307.3,209.2 307,204 306.7,206.8 306.4,209.3 306.1,211.5 305.8,213.4 305.5,215 305.2,216.2 304.9,217.1 304.6,217.6 304.3,218 304,218.1 303.7,218.1 303.4,218 303.1,217.8 302.8,217.4 302.5,216.7 302.2,215.6 301.9,214.3 301.6,212.5 301.3,210.5 301,208.1 300.7,205.4 300.4,202.6 300.1,212.4 299.8,213.6 299.5,214.6 299.2,215.5 298.9,216.2 298.6,216.9 298.3,217.3 298,217.7 297.7,217.9 297.4,218 297.1,218.1 296.8,218.1 296.5,218.1 296.2,218 295.9,217.8 295.6,217.5 295.3,217.1 295,216.6 294.7,215.9 294.4,215 294.1,214.1 293.8,213 293.5,211.9 293.2,205.8 292.9,208.2 292.6,210.4 292.3,212.4 292,214 291.7,215.4 291.4,216.5 291.1,217.2 290.8,217.7 290.5,218 290.2,218.1 289.9,218.1 289.6,218.1 289.3,217.9 289,217.5 288.7,216.9 288.4,215.9 288.1,214.7 287.8,213.2 287.5,211.4 287.2,209.3 286.9,207 286.6,204.5 286.3,211.2 286,212.6 285.7,213.8 285.4,214.9 285.1,215.8 284.8,216.6 284.5,217.2 284.2,217.6 283.9,217.9 283.6,218 283.3,218.1 283,218.1 282.7,218.1 282.4,218 282.1,217.8 281.8,217.4 281.5,216.9 281.2,216.2 280.9,215.3 280.6,214.3 280.3,213.1 280,211.8 279.7,210.4 279.4,203.7 279.1,206.5 278.8,209.1 278.5,211.4 278.2,213.4 277.9,214.9 277.6,216.2 277.3,217.1 277,217.7 276.7,218 276.4,218.1 276.1,218.1 275.8,218 275.5,217.8 275.2,217.4 274.9,216.6 274.6,215.5 274.3,214.1 274,212.3 273.7,210.2 273.4,207.7 273.1,205 272.8,202 272.5,200 272.2,203.6 271.9,206.8 271.6,209.7 271.3,212.2 271,214.2 270.7,215.7 270.4,216.8 270.1,217.5 269.8,217.9 269.5,218.1 269.2,218.1 268.9,218 268.6,217.7 268.3,217.2 268,216.2 267.7,214.9 267.4,213.1 267.1,210.8 266.8,208.1 266.5,205 266.2,201.6 265.9,197.9 265.6,212.8 265.3,213.8 265,214.8 264.7,215.6 264.4,216.4 264.1,216.9 263.8,217.4 263.5,217.7 263.2,217.9 262.9,218.1 262.6,218.1 262.3,218.1 262,218.1 261.7,218 261.4,217.8 261.1,217.5 260.8,217.1 260.5,216.6 260.2,215.9 259.9,215.1 259.6,214.2 259.3,213.2 259,212.1 258.7,208.1 258.4,210.1 258.1,211.9 257.8,213.5 257.5,214.8 257.2,215.9 256.9,216.8 256.6,217.4 256.3,217.8 256,218 255.7,218.1 255.4,218.1 255.1,218.1 254.8,217.9 254.5,217.6 254.2,217.1 253.9,216.3 253.6,215.3 253.3,214 253,212.6 252.7,210.8 252.4,208.9 252.1,206.9 251.8,209.9 251.5,211.5 251.2,213 250.9,214.3 250.6,215.4 250.3,216.3 250,217 249.7,217.5 249.4,217.9 249.1,218 248.8,218.1 248.5,218.1 248.2,218.1 247.9,217.9 247.6,217.7 247.3,217.2 247,216.6 246.7,215.8 246.4,214.8 246.1,213.5 245.8,212.1 245.5,210.5 245.2,208.9 244.9,211.5 244.6,212.8 244.3,214 244,215.1 243.7,215.9 243.4,216.7 243.1,217.2 242.8,217.6 242.5,217.9 242.2,218 241.9,218.1 241.6,218.1 241.3,218.1 241,218 240.7,217.7 240.4,217.4 240.1,216.9 239.8,216.2 239.5,215.4 239.2,214.4 238.9,213.3 238.6,212 238.3,210.6 238,198.2 237.7,202.1 237.4,205.7 237.1,208.9 236.8,211.6 236.5,213.8 236.2,215.5 235.9,216.7 235.6,217.5 235.3,217.9 235,218.1 234.7,218.1 234.4,218 234.1,217.7 233.8,217 233.5,216 233.2,214.4 232.9,212.4 232.6,209.9 232.3,206.9 232,203.4 231.7,199.6 231.4,195.7 231.1,211.2 230.8,212.6 230.5,213.8 230.2,214.9 229.9,215.9 229.6,216.6 229.3,217.2 229,217.6 228.7,217.9 228.4,218 228.1,218.1 227.8,218.1 227.5,218.1 227.2,218 226.9,217.7 226.6,217.4 226.3,216.8 226,216.1 225.7,215.3 225.4,214.2 225.1,213 224.8,211.7 224.5,210.3 224.2,208.2 223.9,210.2 223.6,212 223.3,213.5 223,214.9 222.7,216 222.4,216.8 222.1,217.4 221.8,217.8 221.5,218 221.2,218.1 220.9,218.1 220.6,218.1 220.3,217.9 220,217.6 219.7,217 219.4,216.3 219.1,215.2 218.8,214 218.5,212.5 218.2,210.7 217.9,208.8 217.6,206.7 217.3,213.2 217,214.2 216.7,215.1 216.4,215.9 216.1,216.5 215.8,217.1 215.5,217.5 215.2,217.8 214.9,218 214.6,218.1 214.3,218.1 214,218.1 213.7,218.1 213.4,218 213.1,217.8 212.8,217.6 212.5,217.2 212.2,216.7 211.9,216.1 211.6,215.3 211.3,214.5 211,213.5 210.7,212.5 210.4,202 210.1,205.2 209.8,208.1 209.5,210.7 209.2,212.9 208.9,214.7 208.6,216 208.3,217 208,217.6 207.7,218 207.4,218.1 207.1,218.1 206.8,218 206.5,217.8 206.2,217.2 205.9,216.3 205.6,215.1 205.3,213.4 205,211.3 204.7,208.9 204.4,206.1 204.1,202.9 203.8,199.6 203.5,200 203.2,203.6 202.9,206.9 202.6,209.8 202.3,212.2 202,214.2 201.7,215.8 201.4,216.9 201.1,217.6 200.8,218 200.5,218.1 200.2,218.1 199.9,218 199.6,217.7 199.3,217.1 199,216.1 198.7,214.7 198.4,212.8 198.1,210.4 197.8,207.7 197.5,204.5 197.2,200.9 196.9,197.1 196.6,201.7 196.3,205 196,207.9 195.7,210.6 195.4,212.8 195.1,214.6 194.8,216 194.5,217 194.2,217.6 193.9,218 193.6,218.1 193.3,218.1 193,218 192.7,217.7 192.4,217.2 192.1,216.3 191.8,215 191.5,213.3 191.1,211.1 190.8,208.6 190.5,205.7 190.2,202.5 189.9,199 189.6,207 189.3,209.2 189,211.2 188.7,213 188.4,214.5 188.1,215.7 187.8,216.7 187.5,217.4 187.2,217.8 186.9,218 186.6,218.1 186.3,218.1 186,218 185.7,217.9 185.4,217.5 185.1,216.8 184.8,216 184.5,214.8 184.2,213.4 183.9,211.6 183.6,209.7 183.3,207.5 183,205.1 182.7,211.6 182.4,212.9 182.1,214.1 181.8,215.1 181.5,216 181.2,216.7 180.9,217.3 180.6,217.7 180.3,217.9 180,218.1 179.7,218.1 179.4,218.1 179.1,218.1 178.8,218 178.5,217.7 178.2,217.4 177.9,216.8 177.6,216.2 177.3,215.3 177,214.3 176.7,213.2 176.4,211.9 176.1,210.5 175.8,204.2 175.5,207 175.2,209.5 174.9,211.7 174.6,213.6 174.3,215.2 174,216.3 173.7,217.2 173.4,217.7 173.1,218 172.8,218.1 172.5,218.1 172.2,218 171.9,217.8 171.6,217.3 171.3,216.5 171,215.4 170.7,213.9 170.4,212.1 170.1,210 169.8,207.5 169.5,204.8 169.2,201.8 168.9,211.5 168.6,212.9 168.3,214.1 168,215.1 167.7,216 167.4,216.7 167.1,217.3 166.8,217.7 166.5,217.9 166.2,218.1 165.9,218.1 165.6,218.1 165.3,218.1 165,217.9 164.7,217.7 164.4,217.3 164.1,216.8 163.8,216.1 163.5,215.3 163.2,214.2 162.9,213.1 162.6,211.8 162.3,210.4 162,199.7 161.7,203.4 161.4,206.7 161.1,209.7 160.8,212.2 160.5,214.2 160.2,215.8 159.9,216.9 159.6,217.6 159.3,218 159,218.1 158.7,218.1 158.4,218 158.1,217.7 157.8,217 157.5,216 157.2,214.5 156.9,212.5 156.6,210.1 156.3,207.2 156,203.9 155.7,200.2 155.4,196.3 155.1,201.9 154.8,205.2 154.5,208.1 154.2,210.7 153.9,212.9 153.6,214.7 153.3,216.1 153,217 152.7,217.7 152.4,218 152.1,218.1 151.8,218.1 151.5,218 151.2,217.7 150.9,217.1 150.6,216.2 150.3,214.9 150,213.2 149.7,211 149.4,208.5 149.1,205.6 148.8,202.4 148.5,198.9 148.2,203.3 147.9,206.3 147.6,209 147.3,211.4 147,213.4 146.7,215 146.4,216.2 146.1,217.1 145.8,217.7 145.5,218 145.2,218.1 144.9,218.1 144.6,218 144.3,217.7 144,217.2 143.7,216.4 143.4,215.2 143.1,213.6 142.8,211.6 142.5,209.3 142.2,206.6 141.9,203.7 141.6,200.5 141.3,203.8 141,206.7 140.7,209.3 140.4,211.6 140.1,213.5 139.8,215.1 139.5,216.3 139.2,217.2 138.9,217.7 138.6,218 138.3,218.1 138,218.1 137.7,218 137.4,217.8 137.1,217.2 136.8,216.4 136.5,215.2 136.2,213.7 135.9,211.8 135.6,209.5 135.3,207 135,204.1 134.7,201 134.4,205.6 134.1,208.1 133.8,210.4 133.5,212.4 133.2,214.1 132.9,215.5 132.6,216.5 132.3,217.3 132,217.8 131.7,218 131.4,218.1 131.1,218.1 130.8,218 130.5,217.8 130.2,217.3 129.9,216.6 129.6,215.6 129.3,214.2 129,212.6 128.7,210.6 128.4,208.3 128.1,205.8 127.8,203.1 127.5,202.6 127.2,205.8 126.9,208.6 126.6,211.1 126.3,213.2 126,214.9 125.7,216.2 125.4,217.1 125.1,217.7 124.8,218 124.5,218.1 124.2,218.1 123.9,218 123.6,217.7 123.3,217.1 123,216.2 122.7,215 122.4,213.3 122.1,211.2 121.8,208.8 121.5,206 121.2,202.9 120.9,199.5 120.6,201.1 120.3,204.5 120,207.6 119.7,210.4 119.4,212.7 119.1,214.6 118.8,216 118.5,217 118.2,217.6 117.9,218 117.6,218.1 117.3,218.1 117,218 116.7,217.7 116.4,217 116.1,216 115.8,214.6 115.5,212.8 115.2,210.5 114.9,207.8 114.6,204.7 114.3,201.3 114,197.6 113.7,210.2 113.4,211.8 113.1,213.2 112.8,214.5 112.5,215.6 112.2,216.5 111.9,217.1 111.6,217.6 111.3,217.9 111,218 110.7,218.1 110.4,218.1 110.1,218 109.8,217.9 109.5,217.6 109.2,217.1 108.9,216.5 108.6,215.6 108.3,214.6 108,213.3 107.7,211.9 107.4,210.3 107.1,208.5 106.8,207.8 106.5,209.9 106.2,211.8 105.9,213.4 105.6,214.8 105.3,216 105,216.8 104.7,217.4 104.4,217.8 104.1,218 103.8,218.1 103.5,218.1 103.2,218 102.9,217.8 102.6,217.5 102.3,216.8 102,216 101.7,214.9 101.4,213.5 101.1,211.8 100.8,209.9 100.5,207.9 100.2,205.6 99.9,212.9 99.6,214 99.3,214.9 99,215.7 98.7,216.5 98.4,217 98.1,217.5 97.8,217.8 97.5,218 97.2,218.1 96.9,218.1 96.6,218.1 96.3,218.1 96,218 95.7,217.8 95.4,217.5 95.1,217 94.8,216.5 94.5,215.7 94.2,214.9 93.9,214 93.6,212.9 93.3,212.3 93,213.3 92.7,214.3 92.4,215.2 92.1,215.9 91.8,216.6 91.5,217.1 91.2,217.5 90.9,217.8 90.6,218 90.3,218.1 90,218.1 89.7,218.1 89.4,218.1 89.1,218 88.8,217.8 88.5,217.5 88.2,217.1 87.9,216.6 87.6,215.9 87.3,215.2 87,214.3 86.7,213.3 86.4,199.4 86.1,202.7 85.8,205.9 85.5,208.7 85.2,211.2 84.9,213.2 84.6,214.9 84.3,216.2 84,217.1 83.7,217.7 83.4,218 83.1,218.1 82.8,218.1 82.5,218 82.2,217.7 81.9,217.1 81.6,216.2 81.3,214.9 81,213.2 80.7,211.1 80.4,208.6 80.1,205.8 79.8,202.6 79.5,207.3 79.2,209.2 78.9,211 78.6,212.7 78.3,214.1 78,215.3 77.7,216.3 77.4,217 77.1,217.5 76.8,217.9 76.5,218 76.2,218.1 75.9,218.1 75.6,218 75.3,217.9 75,217.5 74.7,217 74.4,216.2 74.1,215.2 73.8,214 73.5,212.6 73.2,210.9 72.9,209.1 72.6,205.1 72.3,207.4 72,209.6 71.7,211.6 71.4,213.3 71.1,214.7 70.8,215.9 70.5,216.8 70.2,217.4 69.9,217.8 69.6,218 69.3,218.1 69,218.1 68.7,218 68.4,217.8 68.1,217.4 67.8,216.8 67.5,215.8 67.2,214.6 66.9,213.2 66.6,211.4 66.3,209.5 66,207.3 65.7,206.8 65.4,208.9 65.1,210.8 64.8,212.5 64.5,213.9 64.2,215.2 63.9,216.2 63.6,217 63.3,217.5 63,217.9 62.7,218 62.4,218.1 62.1,218.1 61.8,218 61.5,217.8 61.2,217.5 60.9,216.9 60.6,216.1 60.3,215.1 60,213.8 59.7,212.3 59.4,210.6 59.1,208.7 58.8,195.9 58.5,199.9 58.2,203.7 57.9,207 57.6,209.9 57.3,212.4 57,214.4 56.7,215.9 56.4,217" fill="#f59a3e" stroke="#f59a3e" stroke-width="0.5" stroke-linejoin="round" opacity="0.9"/>
<line x1="86" y1="165.1" x2="86" y2="212" stroke="#5b5f66" stroke-width="1.7" opacity="0.5"/>
<line x1="141.9" y1="165.1" x2="141.9" y2="218.1" stroke="#5b5f66" stroke-width="1.7" opacity="0.5"/>
<line x1="197.7" y1="165.1" x2="197.7" y2="189.6" stroke="#5b5f66" stroke-width="1.7" opacity="0.5"/>
<line x1="253.2" y1="165.1" x2="253.2" y2="199.8" stroke="#5b5f66" stroke-width="1.7" opacity="0.5"/>
<line x1="308.7" y1="165.1" x2="308.7" y2="218.1" stroke="#5b5f66" stroke-width="1.7" opacity="0.5"/>
<line x1="56.4" y1="13.9" x2="56.4" y2="218.6" stroke="#1d1d1b" stroke-width="1.35" />
<line x1="55.9" y1="218.1" x2="326.7" y2="218.1" stroke="#1d1d1b" stroke-width="1.35" />
<line x1="52" y1="218.1" x2="56.4" y2="218.1" stroke="#1d1d1b" stroke-width="1.35" />
<text x="46.6" y="224.4" font-size="16" text-anchor="end" fill="#1d1d1b" textLength="8.9" lengthAdjust="spacingAndGlyphs" >0</text>
<line x1="52" y1="177.4" x2="56.4" y2="177.4" stroke="#1d1d1b" stroke-width="1.35" />
<text x="46.6" y="183.7" font-size="16" text-anchor="end" fill="#1d1d1b" textLength="8.9" lengthAdjust="spacingAndGlyphs" >2</text>
<line x1="52" y1="136.6" x2="56.4" y2="136.6" stroke="#1d1d1b" stroke-width="1.35" />
<text x="46.6" y="142.9" font-size="16" text-anchor="end" fill="#1d1d1b" textLength="8.9" lengthAdjust="spacingAndGlyphs" >4</text>
<line x1="52" y1="95.9" x2="56.4" y2="95.9" stroke="#1d1d1b" stroke-width="1.35" />
<text x="46.6" y="102.2" font-size="16" text-anchor="end" fill="#1d1d1b" textLength="8.9" lengthAdjust="spacingAndGlyphs" >6</text>
<line x1="52" y1="55.1" x2="56.4" y2="55.1" stroke="#1d1d1b" stroke-width="1.35" />
<text x="46.6" y="61.4" font-size="16" text-anchor="end" fill="#1d1d1b" textLength="8.9" lengthAdjust="spacingAndGlyphs" >8</text>
<line x1="52" y1="14.4" x2="56.4" y2="14.4" stroke="#1d1d1b" stroke-width="1.35" />
<text x="46.6" y="20.7" font-size="16" text-anchor="end" fill="#1d1d1b" textLength="17.8" lengthAdjust="spacingAndGlyphs" >10</text>
<line x1="56.4" y1="218.1" x2="56.4" y2="222.3" stroke="#1d1d1b" stroke-width="1.35" />
<text x="61" y="240.7" font-size="16" text-anchor="middle" fill="#1d1d1b" textLength="39.5" lengthAdjust="spacingAndGlyphs" >1,553</text>
<line x1="123.8" y1="218.1" x2="123.8" y2="222.3" stroke="#1d1d1b" stroke-width="1.35" />
<text x="123.1" y="240.7" font-size="16" text-anchor="middle" fill="#1d1d1b" textLength="39.5" lengthAdjust="spacingAndGlyphs" >1,554</text>
<line x1="191.3" y1="218.1" x2="191.3" y2="222.3" stroke="#1d1d1b" stroke-width="1.35" />
<text x="190.6" y="240.7" font-size="16" text-anchor="middle" fill="#1d1d1b" textLength="39.5" lengthAdjust="spacingAndGlyphs" >1,555</text>
<line x1="258.8" y1="218.1" x2="258.8" y2="222.3" stroke="#1d1d1b" stroke-width="1.35" />
<text x="258.1" y="240.7" font-size="16" text-anchor="middle" fill="#1d1d1b" textLength="39.5" lengthAdjust="spacingAndGlyphs" >1,556</text>
<line x1="326.2" y1="218.1" x2="326.2" y2="222.3" stroke="#1d1d1b" stroke-width="1.35" />
<text x="325.5" y="240.7" font-size="16" text-anchor="middle" fill="#1d1d1b" textLength="39.5" lengthAdjust="spacingAndGlyphs" >1,557</text>
<text x="194.6" y="261.7" font-size="16" text-anchor="middle" fill="#1d1d1b" textLength="122.7" lengthAdjust="spacingAndGlyphs" >Wavelength (nm)</text>
<text transform="translate(22.2 117.4) rotate(-90)" font-size="16" text-anchor="middle" fill="#1d1d1b" textLength="89" lengthAdjust="spacingAndGlyphs" ><tspan fill="#3d8f9b">T</tspan> and <tspan fill="#f0a050">R</tspan> (%)</text>
<text x="112.6" y="82.8" font-size="16" text-anchor="middle" fill="#1d1d1b" textLength="25.5" lengthAdjust="spacingAndGlyphs" >102</text>
<text x="114.7" y="98.6" font-size="16" text-anchor="middle" fill="#1d1d1b" textLength="31.5" lengthAdjust="spacingAndGlyphs" >GHz</text>
<line x1="91" y1="106.1" x2="138" y2="106.1" stroke="#111" stroke-width="1.3" />
<polygon points="88.2,106.1 96.8,102.6 95.1,106.1 96.8,109.6" fill="#111"/>
<polygon points="140,106.1 131.4,109.6 133.1,106.1 131.4,102.6" fill="#111"/>
<text x="0.6" y="15.7" font-size="21.3" text-anchor="start" fill="#050505" font-weight="bold" textLength="12.8" lengthAdjust="spacingAndGlyphs" stroke="#050505" stroke-width="0.45">a</text>
</g>
<g>
<rect x="448.3" y="204" width="11.1" height="14.1" fill="#2477b7" stroke="#122c48" stroke-width="1.3" rx="0" />
<rect x="459.4" y="192.6" width="11.1" height="25.5" fill="#2477b7" stroke="#122c48" stroke-width="1.3" rx="0" />
<rect x="470.4" y="184.3" width="11.1" height="33.8" fill="#2477b7" stroke="#122c48" stroke-width="1.3" rx="0" />
<rect x="481.5" y="97.2" width="11.1" height="120.9" fill="#2477b7" stroke="#122c48" stroke-width="1.3" rx="0" />
<rect x="492.5" y="72.2" width="11.1" height="145.9" fill="#2477b7" stroke="#122c48" stroke-width="1.3" rx="0" />
<rect x="503.6" y="44.6" width="11.1" height="173.5" fill="#2477b7" stroke="#122c48" stroke-width="1.3" rx="0" />
<rect x="514.7" y="102.3" width="11.1" height="115.8" fill="#2477b7" stroke="#122c48" stroke-width="1.3" rx="0" />
<rect x="525.7" y="138.2" width="11.1" height="79.9" fill="#2477b7" stroke="#122c48" stroke-width="1.3" rx="0" />
<rect x="536.8" y="164" width="11.1" height="54.1" fill="#2477b7" stroke="#122c48" stroke-width="1.3" rx="0" />
<rect x="547.8" y="177.7" width="11.1" height="40.4" fill="#2477b7" stroke="#122c48" stroke-width="1.3" rx="0" />
<rect x="558.9" y="194.3" width="11.1" height="23.8" fill="#2477b7" stroke="#122c48" stroke-width="1.3" rx="0" />
<rect x="570" y="191" width="11.1" height="27.1" fill="#2477b7" stroke="#122c48" stroke-width="1.3" rx="0" />
<rect x="581" y="204.3" width="11.1" height="13.8" fill="#2477b7" stroke="#122c48" stroke-width="1.3" rx="0" />
<rect x="592.1" y="206.7" width="11.1" height="11.4" fill="#2477b7" stroke="#122c48" stroke-width="1.3" rx="0" />
<rect x="603.1" y="209.3" width="11.1" height="8.8" fill="#2477b7" stroke="#122c48" stroke-width="1.3" rx="0" />
<rect x="614.2" y="211.3" width="11.1" height="6.8" fill="#2477b7" stroke="#122c48" stroke-width="1.3" rx="0" />
<rect x="625.3" y="214.3" width="11.1" height="3.8" fill="#2477b7" stroke="#122c48" stroke-width="1.3" rx="0" />
<rect x="647.4" y="216.4" width="11.1" height="1.7" fill="#2477b7" stroke="#122c48" stroke-width="1.3" rx="0" />
<rect x="658.4" y="214.3" width="3.3" height="3.8" fill="#2477b7" stroke="#122c48" stroke-width="1.3" rx="0" />
<line x1="392.8" y1="13.9" x2="392.8" y2="218.6" stroke="#1d1d1b" stroke-width="1.35" />
<line x1="392.3" y1="218.1" x2="662.2" y2="218.1" stroke="#1d1d1b" stroke-width="1.35" />
<line x1="388.6" y1="218.1" x2="392.8" y2="218.1" stroke="#1d1d1b" stroke-width="1.35" />
<line x1="388.6" y1="184.1" x2="392.8" y2="184.1" stroke="#1d1d1b" stroke-width="1.35" />
<line x1="388.6" y1="150.2" x2="392.8" y2="150.2" stroke="#1d1d1b" stroke-width="1.35" />
<line x1="388.6" y1="116.2" x2="392.8" y2="116.2" stroke="#1d1d1b" stroke-width="1.35" />
<line x1="388.6" y1="82.3" x2="392.8" y2="82.3" stroke="#1d1d1b" stroke-width="1.35" />
<line x1="388.6" y1="48.3" x2="392.8" y2="48.3" stroke="#1d1d1b" stroke-width="1.35" />
<line x1="388.6" y1="14.4" x2="392.8" y2="14.4" stroke="#1d1d1b" stroke-width="1.35" />
<line x1="392.8" y1="218.1" x2="392.8" y2="222.3" stroke="#1d1d1b" stroke-width="1.35" />
<text x="391.3" y="243" font-size="16" text-anchor="middle" fill="#1d1d1b" textLength="8.9" lengthAdjust="spacingAndGlyphs" >0</text>
<line x1="446.6" y1="218.1" x2="446.6" y2="222.3" stroke="#1d1d1b" stroke-width="1.35" />
<text x="445.1" y="243" font-size="16" text-anchor="middle" fill="#1d1d1b" textLength="17.8" lengthAdjust="spacingAndGlyphs" >50</text>
<line x1="500.4" y1="218.1" x2="500.4" y2="222.3" stroke="#1d1d1b" stroke-width="1.35" />
<text x="498.9" y="243" font-size="16" text-anchor="middle" fill="#1d1d1b" textLength="26.7" lengthAdjust="spacingAndGlyphs" >100</text>
<line x1="554.1" y1="218.1" x2="554.1" y2="222.3" stroke="#1d1d1b" stroke-width="1.35" />
<text x="552.6" y="243" font-size="16" text-anchor="middle" fill="#1d1d1b" textLength="26.7" lengthAdjust="spacingAndGlyphs" >150</text>
<line x1="607.9" y1="218.1" x2="607.9" y2="222.3" stroke="#1d1d1b" stroke-width="1.35" />
<text x="606.4" y="243" font-size="16" text-anchor="middle" fill="#1d1d1b" textLength="26.7" lengthAdjust="spacingAndGlyphs" >200</text>
<line x1="661.7" y1="218.1" x2="661.7" y2="222.3" stroke="#1d1d1b" stroke-width="1.35" />
<text x="660.2" y="243" font-size="16" text-anchor="middle" fill="#1d1d1b" textLength="26.7" lengthAdjust="spacingAndGlyphs" >250</text>
<text x="522.5" y="261.7" font-size="16" text-anchor="middle" fill="#1d1d1b" textLength="88" lengthAdjust="spacingAndGlyphs" ><tspan font-style="italic">κ</tspan><tspan font-size="11" dy="4.5">0</tspan><tspan dy="-4.5">/2π (MHz)</tspan></text>
<text transform="translate(374 119.2) rotate(-90)" font-size="16" text-anchor="middle" fill="#1d1d1b" textLength="163.5" lengthAdjust="spacingAndGlyphs" >Occurences (20 div.<tspan font-size="10" dy="-5.5">–1</tspan><tspan dy="5.5">)</tspan></text>
<text x="526.2" y="40.8" font-size="16" text-anchor="start" fill="#1d1d1b" textLength="33.5" lengthAdjust="spacingAndGlyphs" >TE<tspan font-size="11.5" dy="5">00</tspan></text>
<text x="526.2" y="60.4" font-size="16" text-anchor="start" fill="#1d1d1b" textLength="101.5" lengthAdjust="spacingAndGlyphs" >102-GHz FSR</text>
<text x="526.2" y="80.1" font-size="16" text-anchor="start" fill="#1d1d1b" textLength="117" lengthAdjust="spacingAndGlyphs" >532 resonances</text>
<text x="352" y="15.7" font-size="21.3" text-anchor="start" fill="#050505" font-weight="bold" textLength="14.1" lengthAdjust="spacingAndGlyphs" stroke="#050505" stroke-width="0.45">b</text>
</g>
<g>
<clipPath id="cc"><rect x="760.5" y="13.4" width="271.0999999999999" height="204.79999999999998"/></clipPath>
<polyline points="761.5,203.1 761.6,207.2 761.7,208.9 761.8,203.9 761.9,204 762,204.2 762.1,203.4 762.2,206.2 762.3,203.7 762.4,198.5 762.5,205.7 762.6,207.5 762.7,205.2 762.8,212.2 762.9,210.8 763,204.6 763.2,207.1 763.3,208.2 763.4,206.3 763.5,203.9 763.6,202.3 763.7,208.4 763.8,209.1 763.9,207.8 764,212.3 764.1,208.9 764.2,202.9 764.3,202.5 764.4,207 764.5,210.2 764.6,210.3 764.7,206.3 764.8,200.9 764.9,201.3 765,203.3 765.1,200.1 765.2,196.1 765.3,202.7 765.4,214.4 765.5,208.4 765.6,202.9 765.7,203 765.8,205.3 765.9,208.2 766,215.8 766.1,213.9 766.2,208.6 766.3,204.4 766.5,210.2 766.6,209.2 766.7,209.1 766.8,207.8 766.9,208.8 767,208.9 767.1,209.2 767.2,207.6 767.3,209.4 767.4,211.2 767.5,209.8 767.6,210 767.7,212.1 767.8,211.6 767.9,209.6 768,208.6 768.1,207.3 768.2,199.9 768.3,202.9 768.4,200.8 768.5,193.2 768.6,197.2 768.7,208.9 768.8,215.7 768.9,213.6 769,206.3 769.1,202.5 769.2,205.8 769.3,208.9 769.4,214.7 769.5,210.4 769.6,211.3 769.8,212.9 769.9,209.3 770,206.1 770.1,209 770.2,208.9 770.3,207.8 770.4,204.6 770.5,213.3 770.6,216.2 770.7,213 770.8,205.8 770.9,206.8 771,208.1 771.1,209.6 771.2,209.4 771.3,207.6 771.4,208.6 771.5,216.5 771.6,212.2 771.7,207 771.8,206.9 771.9,204.9 772,207.3 772.1,214.7 772.2,207.6 772.3,200.9 772.4,202.3 772.5,206.8 772.6,210.7 772.7,212.8 772.8,213.8 773,215.3 773.1,215.3 773.2,213.2 773.3,206.1 773.4,212.2 773.5,216.1 773.6,206.4 773.7,212.7 773.8,213.1 773.9,208.9 774,211.1 774.1,214.3 774.2,216.5 774.3,211.8 774.4,197.5 774.5,198.9 774.6,204.8 774.7,209.4 774.8,205.9 774.9,210.7 775,211.9 775.1,208.5 775.2,207.3 775.3,213.5 775.4,214.2 775.5,207.4 775.6,202.7 775.7,205.1 775.8,197.8 775.9,197.3 776,201.7 776.1,204.4 776.3,195.2 776.4,201.2 776.5,204.3 776.6,197.1 776.7,204.2 776.8,210.5 776.9,205.7 777,204.5 777.1,210.4 777.2,205.9 777.3,200.8 777.4,205.4 777.5,206.4 777.6,208 777.7,207.8 777.8,207.4 777.9,207.7 778,202.9 778.1,202.2 778.2,202.7 778.3,201.1 778.4,203.4 778.5,209.1 778.6,210.2 778.7,213.5 778.8,215.9 778.9,210.3 779,213.8 779.1,210.6 779.2,209.1 779.3,216.5 779.4,216.5 779.6,213.5 779.7,210.7 779.8,212.4 779.9,208.9 780,205.2 780.1,206.6 780.2,207.6 780.3,206 780.4,205.6 780.5,213.3 780.6,206.8 780.7,202.9 780.8,208.8 780.9,213.3 781,208.9 781.1,209.6 781.2,211.3 781.3,205 781.4,198.2 781.5,201.8 781.6,205.8 781.7,206 781.8,196.1 781.9,192.8 782,200.4 782.1,200.4 782.2,202.9 782.3,203.1 782.4,201.9 782.5,198.4 782.6,197.4 782.7,202.5 782.9,197.7 783,199.8 783.1,199.3 783.2,193.2 783.3,200.9 783.4,203.4 783.5,202.3 783.6,202.2 783.7,203.7 783.8,208.8 783.9,208.2 784,206.1 784.1,207.7 784.2,205.5 784.3,203.7 784.4,203.6 784.5,211.2 784.6,211.3 784.7,208.7 784.8,208.8 784.9,207.4 785,203 785.1,200 785.2,205.4 785.3,207.2 785.4,212.4 785.5,211.7 785.6,205.9 785.7,210.2 785.8,210.7 785.9,206.6 786.1,206.9 786.2,208.8 786.3,205.1 786.4,201.5 786.5,202.5 786.6,205.8 786.7,209.1 786.8,211.8 786.9,209.8 787,210.2 787.1,215.9 787.2,214.9 787.3,208 787.4,212.4 787.5,213.7 787.6,209.1 787.7,215 787.8,215.7 787.9,211.8 788,210.7 788.1,216.5 788.2,216.5 788.3,205.8 788.4,212.3 788.5,210.5 788.6,208.9 788.7,212.6 788.8,211.5 788.9,207.1 789,208.1 789.1,207.4 789.2,207.1 789.4,210.7 789.5,208 789.6,201.9 789.7,206.6 789.8,203.4 789.9,200.4 790,206.6 790.1,205.3 790.2,204.4 790.3,206.1 790.4,203.5 790.5,201.1 790.6,197.1 790.7,198.8 790.8,206.4 790.9,210.7 791,213.2 791.1,208.8 791.2,204.5 791.3,208.4 791.4,211.2 791.5,209.7 791.6,202.1 791.7,203.9 791.8,207.4 791.9,206.6 792,206.1 792.1,196.3 792.2,201.4 792.3,202.5 792.4,206.4 792.5,211.2 792.7,210.1 792.8,209.1 792.9,206.8 793,206.5 793.1,205.2 793.2,205.7 793.3,208 793.4,205.8 793.5,206.4 793.6,209.3 793.7,209.5 793.8,206.4 793.9,199.1 794,203.1 794.1,204.3 794.2,206.8 794.3,214.9 794.4,208.5 794.5,202.8 794.6,203.3 794.7,201.4 794.8,202.1 794.9,203.9 795,201.7 795.1,213.6 795.2,216.5 795.3,212.9 795.4,210.3 795.5,207 795.6,205.8 795.7,203.3 795.9,206.4 796,211.9 796.1,203.9 796.2,207 796.3,203.7 796.4,197.3 796.5,203.7 796.6,207.4 796.7,207.3 796.8,207.2 796.9,201.7 797,202.7 797.1,211.1 797.2,216.5 797.3,213.4 797.4,215 797.5,216.5 797.6,212.9 797.7,206.9 797.8,201 797.9,201.4 798,194.7 798.1,192.1 798.2,200.4 798.3,198.1 798.4,202.1 798.5,204.4 798.6,202.5 798.7,205 798.8,208.4 798.9,209.4 799,207.6 799.2,206.3 799.3,206.2 799.4,206.8 799.5,206 799.6,207.1 799.7,205 799.8,202.5 799.9,199.7 800,198.3 800.1,203.2 800.2,209.9 800.3,202.7 800.4,204.8 800.5,208.3 800.6,199.7 800.7,200.7 800.8,206.4 800.9,200.3 801,206 801.1,211.1 801.2,206.2 801.3,206.8 801.4,204.1 801.5,198.8 801.6,197.7 801.7,200.8 801.8,203 801.9,206.9 802,205.9 802.1,211 802.2,214.9 802.3,206.6 802.5,206.5 802.6,205.9 802.7,208.7 802.8,212.7 802.9,208.1 803,202.9 803.1,200.4 803.2,205.2 803.3,206.6 803.4,206.7 803.5,207.4 803.6,208.6 803.7,201.6 803.8,205.5 803.9,211.8 804,211.6 804.1,205.4 804.2,206.7 804.3,213.8 804.4,207.5 804.5,198 804.6,196.2 804.7,205.9 804.8,216.5 804.9,216.5 805,216.5 805.1,206.4 805.2,202.2 805.3,200.6 805.4,207 805.5,206.1 805.7,199.8 805.8,204.9 805.9,207.9 806,203.1 806.1,211.6 806.2,213.5 806.3,211 806.4,208 806.5,203.2 806.6,212.4 806.7,215.6 806.8,203 806.9,197.2 807,204.8 807.1,208 807.2,208.9 807.3,207.3 807.4,206.6 807.5,203.5 807.6,196.1 807.7,193.9 807.8,194.4 807.9,196.6 808,196.8 808.1,197.3 808.2,204.2 808.3,205.6 808.4,201.9 808.5,210.7 808.6,203.6 808.7,196.7 808.8,206.2 809,206.7 809.1,200.1 809.2,201.9 809.3,199.4 809.4,203.8 809.5,207.3 809.6,207 809.7,207.6 809.8,201.2 809.9,203.7 810,199.2 810.1,203.9 810.2,216.5 810.3,212.5 810.4,211.8 810.5,208.3 810.6,211.5 810.7,211.4 810.8,209.6 810.9,209.6 811,205.2 811.1,207.1 811.2,206.3 811.3,202.9 811.4,199.1 811.5,193 811.6,199.8 811.7,209.5 811.8,205.4 811.9,204.8 812,203.2 812.1,196.7 812.3,209.4 812.4,216.5 812.5,206.1 812.6,204.7 812.7,209.2 812.8,212.2 812.9,210.6 813,204.8 813.1,208.1 813.2,211.3 813.3,203.1 813.4,201.4 813.5,205.3 813.6,208.7 813.7,214.5 813.8,216.5 813.9,215.6 814,208.2 814.1,204.9 814.2,202.6 814.3,202.9 814.4,204.8 814.5,207 814.6,209.3 814.7,205.2 814.8,204.2 814.9,212.7 815,210.2 815.1,205.8 815.2,198.9 815.3,198.7 815.5,207.9 815.6,211.2 815.7,209.2 815.8,204.5 815.9,210.8 816,209.4 816.1,210.9 816.2,211.2 816.3,209.3 816.4,205.6 816.5,207.6 816.6,210.8 816.7,210.8 816.8,203.8 816.9,203.8 817,214.5 817.1,212.6 817.2,205 817.3,207.1 817.4,203.9 817.5,204 817.6,208.9 817.7,215.1 817.8,211 817.9,204.1 818,205.7 818.1,210.9 818.2,211.1 818.3,208.7 818.4,207.4 818.5,202.2 818.6,196 818.8,199.7 818.9,201.3 819,206.5 819.1,216.5 819.2,210.5 819.3,201.4 819.4,213.1 819.5,204.5 819.6,195.1 819.7,197.3 819.8,201.2 819.9,212.7 820,214.6 820.1,207.6 820.2,208.8 820.3,212.9 820.4,203.6 820.5,198.4 820.6,205.4 820.7,213.9 820.8,215.1 820.9,203.5 821,199.3 821.1,206.1 821.2,207.6 821.3,206.8 821.4,211.2 821.5,214.2 821.6,216.5 821.7,216.5 821.8,216.5 821.9,216.5 822.1,216.5 822.2,215 822.3,214.8 822.4,216.5 822.5,216.5 822.6,216.5 822.7,212.9 822.8,211.5 822.9,208.9 823,203.8 823.1,205.5 823.2,206.4 823.3,211.2 823.4,213.9 823.5,216.5 823.6,216.5 823.7,214.1 823.8,216.5 823.9,216.4 824,212.2 824.1,213.4 824.2,211.9 824.3,213.6 824.4,214.4 824.5,215.3 824.6,210.9 824.7,211.1 824.8,210.6 824.9,207.8 825,205.5 825.1,216.1 825.2,215.9 825.4,212.3 825.5,213.4 825.6,215.9 825.7,207.8 825.8,202.4 825.9,204 826,202.6 826.1,206 826.2,210.1 826.3,212.7 826.4,210.5 826.5,211.3 826.6,214.7 826.7,204.7 826.8,201.3 826.9,208.7 827,215.5 827.1,209.9 827.2,204.7 827.3,211 827.4,213.3 827.5,209.5 827.6,215.1 827.7,215.5 827.8,216.5 827.9,213.9 828,205.8 828.1,202.5 828.2,199.7 828.3,203.3 828.4,202.1 828.6,202.8 828.7,203.8 828.8,203.5 828.9,206.9 829,210.9 829.1,209.7 829.2,197 829.3,194.6 829.4,200.3 829.5,202.5 829.6,205.8 829.7,201.4 829.8,200.8 829.9,196.9 830,199.3 830.1,204.3 830.2,203.3 830.3,204.5 830.4,210.6 830.5,207.6 830.6,202.9 830.7,210.1 830.8,215.3 830.9,214.4 831,209.6 831.1,206 831.2,204.2 831.3,198.3 831.4,198 831.5,205.6 831.6,214.5 831.7,209.3 831.9,210.1 832,214.7 832.1,212.5 832.2,207.8 832.3,208 832.4,206.7 832.5,215 832.6,216.2 832.7,207.1 832.8,200.5 832.9,201.2 833,204.3 833.1,200 833.2,195.1 833.3,200.7 833.4,202.7 833.5,201.1 833.6,204.4 833.7,210.1 833.8,207.2 833.9,209.6 834,208 834.1,205.1 834.2,205.5 834.3,204.4 834.4,208.6 834.5,212.3 834.6,210.3 834.7,203.9 834.8,198.5 834.9,202 835,205.7 835.2,207.9 835.3,201.6 835.4,201.1 835.5,207.2 835.6,210.2 835.7,205.3 835.8,194.3 835.9,195 836,204.2 836.1,207.7 836.2,206.6 836.3,210 836.4,204.9 836.5,201.8 836.6,210.6 836.7,216.5 836.8,216.4 836.9,207 837,204.6 837.1,203.1 837.2,209.4 837.3,216.5 837.4,216.5 837.5,213.7 837.6,212.9 837.7,215.2 837.8,214.8 837.9,209.7 838,213.8 838.1,216.3 838.2,216.5 838.4,213.6 838.5,204.6 838.6,204.7 838.7,216.5 838.8,216.5 838.9,214.3 839,211.5 839.1,202.6 839.2,201.2 839.3,212.9 839.4,210.3 839.5,199.3 839.6,197.3 839.7,197.6 839.8,199.7 839.9,206.7 840,205.3 840.1,203.2 840.2,215.2 840.3,208.3 840.4,201.6 840.5,197.8 840.6,196.2 840.7,200.3 840.8,201.7 840.9,200.4 841,200.2 841.1,201.6 841.2,211 841.3,215.6 841.4,210.4 841.5,208.6 841.7,210.6 841.8,211.1 841.9,205.8 842,213.4 842.1,216.4 842.2,209.1 842.3,209.4 842.4,216.5 842.5,216.5 842.6,207.6 842.7,207.1 842.8,204.1 842.9,202.2 843,200.2 843.1,203.4 843.2,203.8 843.3,202.5 843.4,207.9 843.5,211.9 843.6,215.5 843.7,204.1 843.8,201.5 843.9,204.2 844,208.8 844.1,205.3 844.2,206.5 844.3,203.6 844.4,200.5 844.5,208.6 844.6,215.2 844.7,214.1 844.8,212.4 845,209.1 845.1,216.1 845.2,215.3 845.3,214.6 845.4,208.8 845.5,210.1 845.6,212.7 845.7,210.3 845.8,211.7 845.9,204.9 846,206.2 846.1,212.9 846.2,216.5 846.3,208.2 846.4,205 846.5,206.6 846.6,200.5 846.7,209.5 846.8,206.2 846.9,198.5 847,204.6 847.1,209.3 847.2,209.5 847.3,206.4 847.4,203.3 847.5,202 847.6,199.9 847.7,201.5 847.8,206.1 847.9,206.2 848,203.9 848.2,198.5 848.3,199.9 848.4,205.5 848.5,210.2 848.6,214.7 848.7,213.2 848.8,206.7 848.9,211.5 849,215.9 849.1,209.9 849.2,203.4 849.3,207.5 849.4,209.1 849.5,209.6 849.6,207.1 849.7,202.2 849.8,196.7 849.9,198.9 850,204.4 850.1,204 850.2,208.1 850.3,205.6 850.4,212.3 850.5,216.5 850.6,207.7 850.7,201.9 850.8,199.3 850.9,201.7 851,208.2 851.1,207.1 851.2,209.4 851.3,212.5 851.5,211.2 851.6,212.8 851.7,205.4 851.8,200.8 851.9,205.8 852,206 852.1,207.5 852.2,205.7 852.3,203 852.4,200.2 852.5,209 852.6,204.3 852.7,203.8 852.8,209.8 852.9,207.8 853,206.5 853.1,206.7 853.2,203.6 853.3,195.4 853.4,196.4 853.5,197.7 853.6,203.3 853.7,204.6 853.8,207.5 853.9,208.8 854,203.6 854.1,206.9 854.2,210.3 854.3,204.6 854.4,200.9 854.5,197.4 854.6,203.3 854.8,202.3 854.9,193.7 855,193.5 855.1,199.2 855.2,202.4 855.3,208.7 855.4,210.6 855.5,208.1 855.6,205.9 855.7,209.9 855.8,216 855.9,216.5 856,215 856.1,212 856.2,208.8 856.3,209.6 856.4,211.4 856.5,212.9 856.6,212.5 856.7,206.3 856.8,204.8 856.9,211.8 857,205 857.1,202.3 857.2,207.9 857.3,212.4 857.4,216 857.5,209 857.6,206 857.7,205.5 857.8,204.4 857.9,206.4 858.1,208.6 858.2,206.4 858.3,203.5 858.4,203.4 858.5,198.5 858.6,197.2 858.7,198.9 858.8,196.3 858.9,195.1 859,198.1 859.1,195 859.2,193.3 859.3,200.5 859.4,200.7 859.5,198.9 859.6,202.8 859.7,197.2 859.8,194.1 859.9,199 860,202.5 860.1,196.4 860.2,191.7 860.3,191.7 860.4,195.2 860.5,197.7 860.6,202.1 860.7,207.2 860.8,203.2 860.9,203.2 861,214 861.1,212.4 861.3,209.4 861.4,214.6 861.5,215.1 861.6,216.5 861.7,210.2 861.8,214.3 861.9,216.5 862,212.5 862.1,207.2 862.2,198.6 862.3,199 862.4,200.2 862.5,203.3 862.6,211.9 862.7,214.9 862.8,211.5 862.9,203.6 863,206.1 863.1,208.1 863.2,212.7 863.3,212.1 863.4,212.8 863.5,208.3 863.6,209.3 863.7,206.6 863.8,199.9 863.9,205 864,212.7 864.1,212.3 864.2,210.3 864.3,200.5 864.4,196 864.6,204.6 864.7,198.5 864.8,193.2 864.9,206.6 865,214.1 865.1,205 865.2,205.5 865.3,204.6 865.4,197.6 865.5,201.4 865.6,207 865.7,206.2 865.8,202.1 865.9,196.5 866,204 866.1,202.2 866.2,204.5 866.3,208.5 866.4,206.9 866.5,202.7 866.6,205.8 866.7,209.2 866.8,215.2 866.9,208.4 867,203 867.1,206.9 867.2,209.6 867.3,210.1 867.4,211.2 867.5,209.4 867.6,206.6 867.7,206.3 867.9,207.6 868,212.4 868.1,207.4 868.2,201.5 868.3,200.1 868.4,200.6 868.5,206.2 868.6,212.6 868.6,212 869.5,200 872.9,100 874.3,40 875.2,14.4 875.8,8 876.4,14.4 877.3,40 879,100 882.4,148 884.8,189 885.7,195.5 887,186 888.2,178.5 889.3,186 890.6,200 892.6,213 894.3,217.6 895.6,211 897,203 897,200.1 897.1,204.3 897.3,216.5 897.4,215.1 897.5,208.5 897.6,203 897.7,202.2 897.8,209.2 897.9,203.6 898,194.8 898.1,196.5 898.2,191.7 898.3,195.3 898.4,204.1 898.5,208.5 898.6,208.2 898.7,206.7 898.8,206.2 898.9,208.3 899,214.1 899.1,208.3 899.2,197.1 899.3,202.3 899.4,200.8 899.5,205.4 899.6,210.7 899.7,200.9 899.8,199.6 899.9,197.2 900,193.4 900.1,192.8 900.2,196.1 900.3,195 900.4,197.1 900.6,204.2 900.7,204.4 900.8,205.1 900.9,204.3 901,205.6 901.1,209.8 901.2,203.3 901.3,194.6 901.4,195.4 901.5,197.1 901.6,205 901.7,204.2 901.8,198.7 901.9,207.4 902,206.7 902.1,208 902.2,208.5 902.3,203.3 902.4,203.9 902.5,203.7 902.6,203.9 902.7,199.8 902.8,200.4 902.9,198.2 903,198.4 903.1,195.7 903.2,195.8 903.3,204.8 903.4,207.2 903.5,199.6 903.6,199.7 903.8,197.8 903.9,191.7 904,191.7 904.1,198.6 904.2,203 904.3,195.1 904.4,197.8 904.5,200.5 904.6,197.8 904.7,199 904.8,200.4 904.9,202.3 905,205 905.1,206.9 905.2,204 905.3,198.5 905.4,203.4 905.5,199 905.6,198.4 905.7,204.1 905.8,205.9 905.9,206.8 906,208.6 906.1,199.8 906.2,200 906.3,200.2 906.4,197.3 906.5,207.2 906.6,210 906.7,207.9 906.8,208.3 906.9,204 907.1,207.2 907.2,214.1 907.3,216.5 907.4,207.6 907.5,202.4 907.6,206.6 907.7,206.5 907.8,211 907.9,206.3 908,204.9 908.1,216 908.2,207.4 908.3,205.4 908.4,204.8 908.5,200.6 908.6,203.4 908.7,201.9 908.8,199.9 908.9,202.4 909,208.1 909.1,212.9 909.2,209.2 909.3,208.2 909.4,210.3 909.5,208.3 909.6,199.1 909.7,196.3 909.8,210.8 909.9,209.1 910,211 910.1,216.5 910.2,216.2 910.4,216.5 910.5,216.5 910.6,213.4 910.7,208.6 910.8,213.8 910.9,216.5 911,216 911.1,212.1 911.2,205.4 911.3,208.9 911.4,213.1 911.5,212.9 911.6,205.5 911.7,205.2 911.8,209.9 911.9,210 912,209.6 912.1,207.7 912.2,202.3 912.3,208.1 912.4,216.4 912.5,210.4 912.6,216.1 912.7,216.5 912.8,209.5 912.9,209 913,215.4 913.1,207.7 913.2,203.6 913.3,210.5 913.4,208.4 913.6,212.1 913.7,216 913.8,216.5 913.9,215.6 914,208.1 914.1,210.2 914.2,209.2 914.3,206.2 914.4,207 914.5,210.5 914.6,213.1 914.7,207.9 914.8,204.9 914.9,202.2 915,202.5 915.1,205.7 915.2,201.5 915.3,209 915.4,206.1 915.5,201.4 915.6,203.6 915.7,203.2 915.8,206.8 915.9,204.4 916,203.9 916.1,207.9 916.2,213.2 916.3,216.5 916.4,216.5 916.5,214.8 916.6,208.9 916.7,204.7 916.9,205 917,211.1 917.1,211.3 917.2,201.2 917.3,196.3 917.4,204.2 917.5,207.4 917.6,207.9 917.7,206.3 917.8,197.6 917.9,195.1 918,203.1 918.1,208.1 918.2,206.7 918.3,198.8 918.4,198.4 918.5,202.7 918.6,203.2 918.7,203.6 918.8,207.6 918.9,209.4 919,208.3 919.1,206.4 919.2,209.7 919.3,205.2 919.4,201.9 919.5,203.4 919.6,205.7 919.7,215.2 919.8,216.5 919.9,207.2 920,205.1 920.2,214.4 920.3,216.5 920.4,211.6 920.5,210.4 920.6,209.1 920.7,209.8 920.8,208.5 920.9,209.5 921,202.7 921.1,201.9 921.2,204.6 921.3,211.3 921.4,211.7 921.5,210.2 921.6,204.2 921.7,208.2 921.8,209 921.9,199.8 922,198.5 922.1,209.2 922.2,206.5 922.3,202 922.4,204.7 922.5,202.2 922.6,201.6 922.7,203.8 922.8,208.1 922.9,198.6 923,200 923.1,204.5 923.2,206 923.4,204.1 923.5,197.6 923.6,198.3 923.7,206.5 923.8,211 923.9,204.1 924,198.8 924.1,200.2 924.2,204.5 924.3,200.8 924.4,199.3 924.5,204.2 924.6,203 924.7,203.1 924.8,201.8 924.9,197 925,199.4 925.1,212.2 925.2,215.3 925.3,211 925.4,214.1 925.5,214.2 925.6,205.1 925.7,210.5 925.8,215.7 925.9,212.9 926,216.3 926.1,216.5 926.2,209 926.3,207.8 926.4,203.1 926.5,200.4 926.7,206.3 926.8,202.5 926.9,209.5 927,208.9 927.1,202.9 927.2,204.7 927.3,201.8 927.4,201.5 927.5,202.5 927.6,205.9 927.7,207.6 927.8,200 927.9,202 928,202.7 928.1,203.6 928.2,207.3 928.3,206.6 928.4,210.6 928.5,210.1 928.6,208 928.7,210.2 928.8,210.5 928.9,215 929,211.1 929.1,204.1 929.2,205.5 929.3,210.2 929.4,204.5 929.5,199.7 929.6,197.5 929.7,192.7 929.8,199.2 930,204.5 930.1,201.7 930.2,200.6 930.3,203 930.4,210.4 930.5,201.5 930.6,205.7 930.7,213.6 930.8,209.4 930.9,214.9 931,216.5 931.1,214.2 931.2,214.4 931.3,214 931.4,211 931.5,206.1 931.6,205.8 931.7,202.4 931.8,209.3 931.9,210.2 932,204.8 932.1,206.3 932.2,202.7 932.3,201.7 932.4,202.7 932.5,206.2 932.6,211.4 932.7,210.5 932.8,209.3 932.9,210.9 933,212.8 933.2,211.3 933.3,212.9 933.4,212.9 933.5,211.5 933.6,208.2 933.7,211.9 933.8,214.9 933.9,214.2 934,206.6 934.1,203.4 934.2,205 934.3,199.8 934.4,203.1 934.5,206.2 934.6,203.4 934.7,207.6 934.8,214.7 934.9,216.5 935,212.1 935.1,215.4 935.2,216.5 935.3,214 935.4,213.1 935.5,211.4 935.6,213.2 935.7,213 935.8,211.4 935.9,209.6 936,210.5 936.1,214.8 936.2,216.5 936.3,214.1 936.5,213.1 936.6,213.9 936.7,212.9 936.8,207.5 936.9,202.3 937,199.9 937.1,199.6 937.2,199.6 937.3,198.8 937.4,199.6 937.5,201.8 937.6,205.3 937.7,203.6 937.8,207.4 937.9,208.8 938,202.9 938.1,200.5 938.2,204.8 938.3,212.4 938.4,212.5 938.5,212.2 938.6,208.6 938.7,202 938.8,208.8 938.9,211.9 939,211 939.1,205.5 939.2,206.3 939.3,212.6 939.4,203.6 939.5,196 939.6,195.2 939.8,199.1 939.9,202.4 940,204.1 940.1,201.1 940.2,201.6 940.3,205.2 940.4,204.3 940.5,199.5 940.6,202.5 940.7,202.2 940.8,204.4 940.9,211.2 941,213.6 941.1,211.9 941.2,206.6 941.3,207.7 941.4,208.9 941.5,207.9 941.6,202.8 941.7,201.2 941.8,203.4 941.9,205.1 942,207.5 942.1,205.1 942.2,196.5 942.3,202.4 942.4,207.8 942.5,207.7 942.6,207 942.7,203.3 942.8,205.7 942.9,210.5 943.1,211.9 943.2,201.7 943.3,196.3 943.4,202.1 943.5,200.4 943.6,200 943.7,196 943.8,194.1 943.9,198.6 944,200.2 944.1,209.9 944.2,209.7 944.3,204.3 944.4,208.5 944.5,205.2 944.6,202.4 944.7,207 944.8,211.9 944.9,214.5 945,216.4 945.1,212.2 945.2,202.6 945.3,206.8 945.4,203.4 945.5,204.7 945.6,208.9 945.7,212.1 945.8,216.5 945.9,209.8 946,202.5 946.1,196.2 946.3,194.7 946.4,197.5 946.5,201.8 946.6,205.8 946.7,198.6 946.8,200.8 946.9,202.1 947,198.6 947.1,204.5 947.2,211.5 947.3,212.7 947.4,214.3 947.5,209.6 947.6,200.1 947.7,203.2 947.8,205.6 947.9,212 948,208.5 948.1,206.2 948.2,212.4 948.3,200.9 948.4,197.2 948.5,206.9 948.6,210.4 948.7,205.2 948.8,199.2 948.9,198.5 949,200.1 949.1,198 949.2,195 949.3,200.9 949.4,208.8 949.6,198.5 949.7,196.8 949.8,208.4 949.9,208.7 950,203.2 950.1,201.9 950.2,200.1 950.3,202.1 950.4,207.6 950.5,206.9 950.6,198.1 950.7,198.5 950.8,208.7 950.9,203.9 951,200.2 951.1,207.1 951.2,206.2 951.3,198.9 951.4,204.5 951.5,207.2 951.6,200.5 951.7,202.5 951.8,206.5 951.9,206.4 952,204.2 952.1,205.7 952.2,205 952.3,205.4 952.4,205.5 952.5,204.7 952.6,203.5 952.7,199.9 952.9,204.3 953,211.9 953.1,210.8 953.2,208.9 953.3,205.9 953.4,203.7 953.5,207.1 953.6,209.9 953.7,210.3 953.8,208 953.9,206.5 954,210 954.1,212.5 954.2,216.4 954.3,215.3 954.4,202.7 954.5,202.7 954.6,207 954.7,202.5 954.8,210 954.9,216.5 955,216.5 955.1,207.9 955.2,200.3 955.3,201.5 955.4,205.8 955.5,203.8 955.6,204.9 955.7,202.7 955.8,196.8 955.9,197.3 956.1,191.7 956.2,191.7 956.3,199.9 956.4,207.1 956.5,205.7 956.6,207.3 956.7,199.6 956.8,204.4 956.9,211.5 957,204.2 957.1,206.6 957.2,206.8 957.3,204.5 957.4,209.7 957.5,204.7 957.6,206.1 957.7,205.6 957.8,201.1 957.9,211.2 958,211.3 958.1,210.7 958.2,216.5 958.3,213.5 958.4,208.3 958.5,208.4 958.6,212.9 958.7,212.3 958.8,212.1 958.9,215 959,211.5 959.1,206.6 959.2,205.9 959.4,213.9 959.5,216.5 959.6,216.5 959.7,209.1 959.8,202.4 959.9,202.7 960,204.6 960.1,205.5 960.2,200.4 960.3,194.5 960.4,193 960.5,195.5 960.6,202.2 960.7,204.5 960.8,207.2 960.9,207.1 961,212.1 961.1,216 961.2,211.5 961.3,212 961.4,216.5 961.5,216.5 961.6,215.5 961.7,213.9 961.8,213.1 961.9,216.5 962,211.1 962.1,209.5 962.2,207.6 962.3,206.9 962.4,207.6 962.5,205.4 962.7,203 962.8,205.8 962.9,203.9 963,201.6 963.1,206.1 963.2,205.1 963.3,204.3 963.4,207.9 963.5,208.5 963.6,205.6 963.7,208.8 963.8,208.6 963.9,208.2 964,205 964.1,202.9 964.2,206.6 964.3,211.1 964.4,213.3 964.5,213.5 964.6,207.7 964.7,206.3 964.8,211.2 964.9,214.5 965,207.5 965.1,197.5 965.2,197.8 965.3,206.7 965.4,207.6 965.5,208.4 965.6,211.7 965.7,212.4 965.9,206.7 966,206.8 966.1,204.9 966.2,197.1 966.3,193 966.4,201.4 966.5,211.3 966.6,206.4 966.7,201.2 966.8,210.8 966.9,208.9 967,207.2 967.1,201.8 967.2,201.7 967.3,204.7 967.4,205.3 967.5,202.6 967.6,203 967.7,209.9 967.8,212.6 967.9,215.6 968,216.5 968.1,216.5 968.2,215 968.3,206.7 968.4,209.6 968.5,203.6 968.6,202 968.7,204.3 968.8,206.2 968.9,207.1 969,208 969.2,200.7 969.3,205.6 969.4,216.3 969.5,212.2 969.6,207.4 969.7,210.8 969.8,213.3 969.9,212.5 970,208.3 970.1,213 970.2,215.3 970.3,204.9 970.4,200.2 970.5,204.8 970.6,205.1 970.7,205.1 970.8,205.2 970.9,199.4 971,200.4 971.1,202.3 971.2,201.8 971.3,199.5 971.4,195.8 971.5,197.9 971.6,197.9 971.7,196.8 971.8,201.3 971.9,203.8 972,204 972.1,213 972.2,209.2 972.3,206 972.5,209.7 972.6,202.6 972.7,202.3 972.8,209.9 972.9,214.1 973,209.7 973.1,202.3 973.2,204.2 973.3,201.3 973.4,201.3 973.5,208.6 973.6,209.6 973.7,205.1 973.8,206.8 973.9,207.3 974,209.2 974.1,214.4 974.2,215.8 974.3,213.4 974.4,202.4 974.5,197.2 974.6,206.4 974.7,208.6 974.8,201.1 974.9,202.2 975,207 975.1,209.2 975.2,201.1 975.3,193.7 975.4,205.4 975.5,205.8 975.6,205.3 975.8,209.2 975.9,201.7 976,204.7 976.1,212.9 976.2,212.3 976.3,210.8 976.4,204.7 976.5,204.8 976.6,204 976.7,199 976.8,202.8 976.9,213 977,216.1 977.1,210.8 977.2,206.4 977.3,210 977.4,209.7 977.5,207.7 977.6,212.3 977.7,213 977.8,207.6 977.9,203.6 978,200 978.1,205.3 978.2,211.3 978.3,211 978.4,203.6 978.5,207.2 978.6,214.6 978.7,214.2 978.8,212.4 979,210.2 979.1,211.3 979.2,213.2 979.3,209.9 979.4,213.2 979.5,214.9 979.6,216.5 979.7,214.9 979.8,204.8 979.9,204.2 980,212.1 980.1,210.2 980.2,207.6 980.3,204.9 980.4,205.4 980.5,204.9 980.6,204.2 980.7,205.3 980.8,206.7 980.9,209.4 981,203.3 981.1,204.1 981.2,201.9 981.3,204.7 981.4,212.1 981.5,209.9 981.6,205.3 981.7,205.6 981.8,211.4 981.9,214 982,209.8 982.1,208.4 982.3,210.9 982.4,213.9 982.5,215.6 982.6,212.2 982.7,215.7 982.8,208.7 982.9,197.1 983,204.5 983.1,212.2 983.2,208.8 983.3,204.8 983.4,209.7 983.5,208.7 983.6,205.2 983.7,208 983.8,206.6 983.9,200.9 984,201.7 984.1,204.4 984.2,205.1 984.3,211.3 984.4,207.7 984.5,203.1 984.6,209.4 984.7,214 984.8,216.5 984.9,212.8 985,203.7 985.1,202.3 985.2,205.7 985.3,204.7 985.4,212.5 985.6,212.5 985.7,204.8 985.8,204.3 985.9,198.9 986,202.6 986.1,208.5 986.2,204.8 986.3,201 986.4,201.9 986.5,200.2 986.6,202.9 986.7,207.4 986.8,205.9 986.9,203.1 987,199.8 987.1,200.8 987.2,200.6 987.3,197.1 987.4,199.6 987.5,207.5 987.6,211 987.7,203.3 987.8,196.9 987.9,203.7 988,211 988.1,201.8 988.2,196.5 988.3,210.5 988.4,209.5 988.5,200.4 988.6,208.2 988.8,212.9 988.9,205.6 989,204.9 989.1,201.7 989.2,207.2 989.3,215 989.4,216 989.5,208.9 989.6,202 989.7,209.9 989.8,210.3 989.9,210.6 990,212.5 990.1,212.2 990.2,211.6 990.3,205 990.4,204.4 990.5,211.7 990.6,203 990.7,193.7 990.8,198.8 990.9,200.8 991,193.9 991.1,200.1 991.2,210.4 991.3,210.6 991.4,207.3 991.5,207.7 991.6,196.9 991.7,197.2 991.8,204.5 991.9,199.2 992.1,200.1 992.2,202.1 992.3,195.8 992.4,203 992.5,212.3 992.6,209.3 992.7,203.1 992.8,202.9 992.9,201.2 993,205.2 993.1,209.6 993.2,208.4 993.3,206.6 993.4,202.4 993.5,201.7 993.6,204.7 993.7,203.9 993.8,208.1 993.9,211 994,204.6 994.1,212.4 994.2,204.9 994.3,201.9 994.4,205.6 994.5,205.4 994.6,208.4 994.7,208.5 994.8,202.3 994.9,203.1 995,205.3 995.1,202.3 995.2,201.4 995.4,200.6 995.5,206.1 995.6,215.6 995.7,213.6 995.8,212.6 995.9,216.5 996,211.7 996.1,210.5 996.2,211.8 996.3,211.6 996.4,216.3 996.5,209.5 996.6,205.5 996.7,204 996.8,204.5 996.9,210.4 997,216.5 997.1,216.5 997.2,211.3 997.3,214.7 997.4,211 997.5,206.3 997.6,208.6 997.7,214.9 997.8,211 997.9,216.5 998,212 998.1,206.9 998.2,216.2 998.3,214.9 998.4,208.8 998.6,210 998.7,212.2 998.8,215 998.9,209.3 999,202.2 999.1,205.5 999.2,205 999.3,200.9 999.4,201.6 999.5,199.2 999.6,200 999.7,201.4 999.8,196.6 999.9,201.3 1000,203.1 1000.1,204.7 1000.2,208.9 1000.3,208.9 1000.4,206.6 1000.5,206 1000.6,210 1000.7,207 1000.8,209.6 1000.9,211.6 1001,208.2 1001.1,205.4 1001.2,209.2 1001.3,208.3 1001.4,203.4 1001.5,208.4 1001.6,211.5 1001.7,208.2 1001.9,209.6 1002,202.9 1002.1,207.7 1002.2,204 1002.3,202.2 1002.4,213 1002.5,212.5 1002.6,205.8 1002.7,205.4 1002.8,211.3 1002.9,209 1003,205.2 1003.1,208 1003.2,203.7 1003.3,206 1003.4,215.3 1003.5,214.3 1003.6,213.6 1003.7,208.7 1003.8,202.3 1003.9,204.3 1004,207.9 1004.1,207.5 1004.2,203.8 1004.3,206.9 1004.4,211.3 1004.5,204.9 1004.6,200.4 1004.7,203.1 1004.8,205.6 1004.9,200.5 1005,201.6 1005.2,207 1005.3,208.4 1005.4,207.3 1005.5,205.3 1005.6,213.8 1005.7,216.5 1005.8,216.5 1005.9,216 1006,206.2 1006.1,204.2 1006.2,208.8 1006.3,216.5 1006.4,216.5 1006.5,210.1 1006.6,211.7 1006.7,206.7 1006.8,207.3 1006.9,209.3 1007,206.3 1007.1,203.2 1007.2,196.8 1007.3,203.6 1007.4,206.3 1007.5,202.3 1007.6,206.4 1007.7,202.5 1007.8,198.8 1007.9,205.4 1008,209.3 1008.1,208.5 1008.2,212.9 1008.4,212 1008.5,208.2 1008.6,204.1 1008.7,204.5 1008.8,209.7 1008.9,209.2 1009,209.2 1009.1,207 1009.2,208.8 1009.3,210 1009.4,206.3 1009.5,200.8 1009.6,200.6 1009.7,203.3 1009.8,207.6 1009.9,210.5 1010,206.1 1010.1,206.6 1010.2,211.1 1010.3,205.7 1010.4,207.3 1010.5,209.8 1010.6,212.8 1010.7,212.6 1010.8,213.2 1010.9,214.1 1011,211.7 1011.1,210.1 1011.2,214.9 1011.3,211.5 1011.4,208.4 1011.5,201.7 1011.7,203.3 1011.8,207.9 1011.9,202.4 1012,205.8 1012.1,208.4 1012.2,202.8 1012.3,201.1 1012.4,202.3 1012.5,206.5 1012.6,205.9 1012.7,205.9 1012.8,209.3 1012.9,202.9 1013,203.9 1013.1,210.8 1013.2,207.4 1013.3,206.5 1013.4,210.7 1013.5,209.5 1013.6,203.8 1013.7,200.3 1013.8,201 1013.9,199.9 1014,205.6 1014.1,208.9 1014.2,211 1014.3,205.4 1014.4,202.4 1014.5,205.7 1014.6,209.1 1014.7,204.1 1014.8,204.7 1015,204.4 1015.1,205.9 1015.2,207.1 1015.3,200.8 1015.4,196.9 1015.5,198.6 1015.6,198.2 1015.7,203.3 1015.8,205.4 1015.9,204.9 1016,203.5 1016.1,194.1 1016.2,192.4 1016.3,203.7 1016.4,204.9 1016.5,195.3 1016.6,191.7 1016.7,191.7 1016.8,191.7 1016.9,196.2 1017,203.1 1017.1,201.4 1017.2,198.4 1017.3,193.1 1017.4,191.7 1017.5,193.4 1017.6,202.9 1017.7,210.1 1017.8,211 1017.9,207.2 1018,205.8 1018.1,211.3 1018.3,212.9 1018.4,207 1018.5,199.6 1018.6,195.7 1018.7,199.4 1018.8,207.5 1018.9,211.3 1019,203.8 1019.1,199.5 1019.2,200.4 1019.3,200.1 1019.4,202.1 1019.5,202.2 1019.6,200.7 1019.7,201.4 1019.8,207.3 1019.9,208.6 1020,194.5 1020.1,195.1 1020.2,205.8 1020.3,210.5 1020.4,208.9 1020.5,208.9 1020.6,212 1020.7,211 1020.8,213.9 1020.9,210.9 1021,214.2 1021.1,214.7 1021.2,213 1021.3,214.5 1021.5,207.9 1021.6,208 1021.7,202.3 1021.8,199.3 1021.9,203.5 1022,200.8 1022.1,199.1 1022.2,201.1 1022.3,204 1022.4,203.6 1022.5,199.8 1022.6,199.4 1022.7,207.2 1022.8,215 1022.9,208.3 1023,198.9 1023.1,200.4 1023.2,199.6 1023.3,199.9 1023.4,200.1 1023.5,200.9 1023.6,206.5 1023.7,211.1 1023.8,209.2 1023.9,206.4 1024,209.1 1024.1,210.9 1024.2,211 1024.3,210 1024.4,210.2 1024.5,209 1024.6,209.2 1024.8,203.7 1024.9,196.8 1025,204.5 1025.1,207.3 1025.2,208.3 1025.3,206.2 1025.4,194.8 1025.5,194.9 1025.6,207.5 1025.7,206.1 1025.8,202.2 1025.9,198.2 1026,204.4 1026.1,209.9 1026.2,206.4 1026.3,208.2 1026.4,201 1026.5,205.6 1026.6,216.5 1026.7,213.3 1026.8,216.2 1026.9,211.3 1027,208.6 1027.1,211.9 1027.2,205.1 1027.3,200.2 1027.4,205 1027.5,210.9 1027.6,208 1027.7,207.6 1027.8,208.2 1027.9,206.5 1028.1,204 1028.2,200.7 1028.3,210.1 1028.4,209.9 1028.5,208.2 1028.6,206.1 1028.7,206.5 1028.8,211.2 1028.9,213 1029,208.4 1029.1,208.9 1029.2,214 1029.3,206.4 1029.4,209.9 1029.5,216.5 1029.6,212.7" fill="none" stroke="#2b78b4" stroke-width="2.9" stroke-linejoin="round" clip-path="url(#cc)"/>
<line x1="760.5" y1="13.9" x2="760.5" y2="218.7" stroke="#1d1d1b" stroke-width="1.35" />
<line x1="760" y1="218.2" x2="1030.1" y2="218.2" stroke="#1d1d1b" stroke-width="1.35" />
<line x1="756.1" y1="14.4" x2="760.5" y2="14.4" stroke="#1d1d1b" stroke-width="1.35" />
<text x="751.9" y="20.7" font-size="16" text-anchor="end" fill="#1d1d1b" textLength="27.5" lengthAdjust="spacingAndGlyphs" >−20</text>
<line x1="756.1" y1="82.3" x2="760.5" y2="82.3" stroke="#1d1d1b" stroke-width="1.35" />
<text x="751.9" y="88.6" font-size="16" text-anchor="end" fill="#1d1d1b" textLength="27.5" lengthAdjust="spacingAndGlyphs" >−40</text>
<line x1="756.1" y1="150.3" x2="760.5" y2="150.3" stroke="#1d1d1b" stroke-width="1.35" />
<text x="751.9" y="156.6" font-size="16" text-anchor="end" fill="#1d1d1b" textLength="27.5" lengthAdjust="spacingAndGlyphs" >−60</text>
<line x1="756.1" y1="218.2" x2="760.5" y2="218.2" stroke="#1d1d1b" stroke-width="1.35" />
<text x="751.9" y="224.5" font-size="16" text-anchor="end" fill="#1d1d1b" textLength="27.5" lengthAdjust="spacingAndGlyphs" >−80</text>
<line x1="760.5" y1="218.2" x2="760.5" y2="222.4" stroke="#1d1d1b" stroke-width="1.35" />
<text x="764.9" y="240.7" font-size="16" text-anchor="middle" fill="#1d1d1b" textLength="39.5" lengthAdjust="spacingAndGlyphs" >1,552</text>
<line x1="827.8" y1="218.2" x2="827.8" y2="222.4" stroke="#1d1d1b" stroke-width="1.35" />
<text x="826.4" y="240.7" font-size="16" text-anchor="middle" fill="#1d1d1b" textLength="39.5" lengthAdjust="spacingAndGlyphs" >1,554</text>
<line x1="895" y1="218.2" x2="895" y2="222.4" stroke="#1d1d1b" stroke-width="1.35" />
<text x="893.6" y="240.7" font-size="16" text-anchor="middle" fill="#1d1d1b" textLength="39.5" lengthAdjust="spacingAndGlyphs" >1,556</text>
<line x1="962.3" y1="218.2" x2="962.3" y2="222.4" stroke="#1d1d1b" stroke-width="1.35" />
<text x="960.9" y="240.7" font-size="16" text-anchor="middle" fill="#1d1d1b" textLength="39.5" lengthAdjust="spacingAndGlyphs" >1,558</text>
<line x1="1029.6" y1="218.2" x2="1029.6" y2="222.4" stroke="#1d1d1b" stroke-width="1.35" />
<text x="1028.2" y="240.7" font-size="16" text-anchor="middle" fill="#1d1d1b" textLength="39.5" lengthAdjust="spacingAndGlyphs" >1,560</text>
<text x="888" y="261.7" font-size="16" text-anchor="middle" fill="#1d1d1b" textLength="122.7" lengthAdjust="spacingAndGlyphs" >Wavelength (nm)</text>
<text transform="translate(712.4 120.2) rotate(-90)" font-size="16" text-anchor="middle" fill="#1d1d1b" textLength="152" lengthAdjust="spacingAndGlyphs" >Optical power (dBm)</text>
<line x1="888.4" y1="19" x2="888.4" y2="173.5" stroke="#111" stroke-width="1.3" />
<polygon points="888.4,13.2 891.9,21.8 888.4,20.1 884.9,21.8" fill="#111"/>
<polygon points="888.4,179.8 884.9,171.2 888.4,172.9 891.9,171.2" fill="#111"/>
<text x="899.6" y="82.6" font-size="16" text-anchor="start" fill="#1d1d1b" textLength="46.5" lengthAdjust="spacingAndGlyphs" >SMSR</text>
<text x="899.8" y="100.2" font-size="16" text-anchor="start" fill="#1d1d1b" textLength="57" lengthAdjust="spacingAndGlyphs" >≈ 50 dB</text>
<text x="691.2" y="15.9" font-size="21.3" text-anchor="start" fill="#050505" font-weight="bold" textLength="12.8" lengthAdjust="spacingAndGlyphs" stroke="#050505" stroke-width="0.45">c</text>
</g>
<g>
<rect x="145.3" y="287.2" width="202.3" height="150" fill="#4a9169" stroke="none" stroke-width="1" rx="0" />
<rect x="145.3" y="287.2" width="10.3" height="150" fill="#8b8b8e" stroke="none" stroke-width="1" rx="0" />
<rect x="333.3" y="287.2" width="14.3" height="150" fill="#8b8b8e" stroke="none" stroke-width="1" rx="0" />
<rect x="145.3" y="406.5" width="202.3" height="7.1" fill="#1b6a60" stroke="none" stroke-width="1" rx="0" />
<rect x="145.3" y="406.5" width="10.3" height="7.1" fill="#24246c" stroke="none" stroke-width="1" rx="0" />
<rect x="333.3" y="406.5" width="14.3" height="7.1" fill="#24246c" stroke="none" stroke-width="1" rx="0" />
<path d="M295.6 300.5 A59.6 59.6 0 0 0 240.8 402.5 L250.6 391.6 A45 45 0 0 1 292 314.6 Z" fill="#fbb040"/>
<path d="M288.6 320.8 A38.2 38.2 0 0 0 253.7 385.2 L264 374.9 A23.6 23.6 0 0 1 285.6 335.1 Z" fill="#fbb040"/>
<circle cx="280.7" cy="358.2" r="41.1" fill="none" stroke="#1b6a60" stroke-width="8.6"/>
<line x1="140.7" y1="346.3" x2="252.3" y2="346.3" stroke="#111" stroke-width="1.4" />
<line x1="140.7" y1="364" x2="228.6" y2="364" stroke="#111" stroke-width="1.4" />
<path d="M127.2 404.9 H145 " stroke="#efb59a" stroke-width="1.3" fill="none"/>
<path d="M145.5 405.0 H258 C267 405 272 389.5 278.6 388.4 C285 389.5 288 405 296.5 405 H338" stroke="#bd9c5e" stroke-width="1.3" fill="none"/>
<polygon points="343.5,404.6 335,407.6 336.7,404.6 335,401.6" fill="#e8743b"/>
<polygon points="247.5,405 240.5,407.8 241.9,405 240.5,402.2" fill="#e8743b"/>
<path d="M150 417.8 H238 Q252 417.5 264.4 406.8 L277.5 390.5" stroke="#d9bd9c" stroke-width="1.4" stroke-dasharray="7 4.5" fill="none"/>
<path d="M174.5 417.8 l6.5 -3.6 l6.5 3.6 l-6.5 3.6 Z" fill="#e5825c"/>
<path d="M298.5 331 A32.5 32.5 0 0 1 289 389.6" stroke="#dfa07c" stroke-width="1.4" stroke-dasharray="5.5 4.5" fill="none"/>
<path d="M297.2 332.4 l4.6 -2.6 l2.8 4.6 l-4.6 2.6 Z" fill="#e8805c"/>
<path d="M303 377.6 l3.4 -1.2 l1.2 3.4 l-3.4 1.2 Z" fill="#e0906a"/>
<path d="M303.5 314.5 A49.5 49.5 0 0 1 329.6 370" stroke="#c4a46a" stroke-width="1.1" fill="none"/>
<circle cx="303.3" cy="314.4" r="3.0" fill="#e0763c"/>
<path d="M327.1 369.6 l4.2 4.8 l-4.2 5.6 l-4.2 -5.6 Z" fill="#e8825a"/>
<rect x="145.3" y="287.2" width="202.3" height="150" fill="none" stroke="#15201c" stroke-width="1.5" rx="0" />
<text x="160.4" y="382.5" font-size="16" text-anchor="start" fill="#0e2a20" textLength="59.6" lengthAdjust="spacingAndGlyphs" >Forward</text>
<text x="160.4" y="396" font-size="16" text-anchor="start" fill="#0e2a20" textLength="61" lengthAdjust="spacingAndGlyphs" >pump a<tspan font-size="10" dy="-5.5">+</tspan></text>
<text x="147.6" y="432.6" font-size="16" text-anchor="start" fill="#0e2a20" textLength="197.5" lengthAdjust="spacingAndGlyphs" >Backward a<tspan font-size="10" dy="-5.5">–</tspan><tspan dy="5.5"> (self-injection)</tspan></text>
<text x="312.6" y="317.6" font-size="16" text-anchor="start" fill="#0e2a20" textLength="14.5" lengthAdjust="spacingAndGlyphs" >a<tspan font-size="10" dy="-5.5">+</tspan></text>
<text x="332.8" y="360.2" font-size="16" text-anchor="start" fill="#0e2a20" textLength="14.5" lengthAdjust="spacingAndGlyphs" >a<tspan font-size="10" dy="-5.5">–</tspan></text>
<rect x="30.4" y="334.9" width="110.3" height="42.1" fill="#fdf3df" stroke="#c8644e" stroke-width="1.3" rx="7" />
<rect x="36.6" y="338.5" width="43.4" height="35.5" fill="#373737" stroke="none" stroke-width="1" rx="1.5" />
<polyline points="39.5,362.5 49.6,350.4 59.3,361.6 68.9,349.8 78.4,361.6" fill="none" stroke="#e6d873" stroke-width="2.6" stroke-linejoin="round" stroke-linecap="round"/>
<text x="93.6" y="361.6" font-size="16" text-anchor="start" fill="#1d1d1b" textLength="32" lengthAdjust="spacingAndGlyphs" >AFG</text>
<rect x="34.4" y="383" width="101.9" height="43.4" fill="#fdfbea" stroke="#2a2a2a" stroke-width="1.3" rx="0" />
<rect x="134.2" y="383.6" width="1.8" height="42.2" fill="#9a9a9a" stroke="none" stroke-width="1" rx="0" />
<rect x="39.5" y="402.5" width="6.5" height="4.5" fill="#f6d9d4" stroke="none" stroke-width="1" rx="0" />
<rect x="127" y="400.5" width="8" height="8.5" fill="#e6e2d6" stroke="none" stroke-width="1" rx="0" />
<rect x="45.6" y="394.2" width="81.4" height="21.4" fill="#fdf1e3" stroke="#d8623a" stroke-width="1.2" rx="10.7" />
<polygon points="89.5,394.2 81.5,396.9 83.1,394.2 81.5,391.4" fill="#e0693c"/>
<polygon points="82,415.6 90,412.9 88.4,415.6 90,418.4" fill="#e0693c"/>
<text x="51.9" y="408.9" font-size="13.5" text-anchor="start" fill="#1d1d1b" textLength="71" lengthAdjust="spacingAndGlyphs" >Laser diode</text>
<circle cx="66.7" cy="419" r="2.7" fill="#111"/>
<path d="M66.7 419 V442.7 H80 M102.8 442.7 H117 V426.6" stroke="#1d1d1b" stroke-width="1.3" fill="none"/>
<circle cx="91.4" cy="440.3" r="11.5" fill="#fff" stroke="#1d1d1b" stroke-width="1.3"/>
<path d="M83.8 441.8 C86 436.5 89.3 436.8 91.4 440.3 C93.5 443.8 96.8 444 99 438.8" stroke="#111" stroke-width="2.1" fill="none" stroke-linecap="round"/>
<path d="M379 309 H378.6 A19 19 0 0 0 359.6 328 V370.8 A24 24 0 0 0 383.6 394.8 H385" stroke="#2f7db6" stroke-width="8" fill="none"/>
<path d="M379 309 H378.6 A19 19 0 0 0 359.6 328 V370.8 A24 24 0 0 0 383.6 394.8 H385" stroke="#69b6e6" stroke-width="4" fill="none"/>
<path d="M350.3 410 L362.5 405.9 H385 V414.1 H362.5 Z" fill="#2f7db6"/>
<path d="M354.5 410 L363 407.6 H385 V411.6 H363 Z" fill="#69b6e6"/>
<rect x="414" y="399.3" width="18" height="8.2" fill="#2f7db6" stroke="none" stroke-width="1" rx="0" />
<rect x="414" y="400.8" width="18" height="3.4" fill="#69b6e6" stroke="none" stroke-width="1" rx="0" />
<rect x="378.5" y="288.2" width="107.9" height="40.7" fill="#fbefd0" stroke="#c8806e" stroke-width="1.3" rx="6" />
<path d="M398.5 295 V307.4 H460" stroke="#111" stroke-width="1.3" fill="none"/>
<polygon points="398.5,290.6 401,297.1 398.5,295.8 396,297.1" fill="#111"/>
<polygon points="466.2,307.4 458.7,309.9 460.2,307.4 458.7,304.9" fill="#111"/>
<line x1="431.6" y1="291.8" x2="431.6" y2="307.4" stroke="#333" stroke-width="1.1" />
<text x="381.3" y="325.2" font-size="16" text-anchor="start" fill="#1d1d1b" textLength="100.2" lengthAdjust="spacingAndGlyphs" >CW reference</text>
<rect x="399.3" y="340.8" width="85.5" height="37.1" fill="#f8f0c6" stroke="#3a3632" stroke-width="1.9" rx="5.5" />
<rect x="405.2" y="347.1" width="35.7" height="25.4" fill="#43391c" stroke="none" stroke-width="1" rx="1" />
<rect x="407" y="349.2" width="32.6" height="21.6" fill="#9c8629" stroke="none" stroke-width="1" rx="1" />
<rect x="407.4" y="350.4" width="2.2" height="19.1" fill="#f1db57" stroke="none" stroke-width="1" rx="1.1" />
<rect x="410.3" y="350" width="2.2" height="20.3" fill="#f1db57" stroke="none" stroke-width="1" rx="1.1" />
<rect x="413.3" y="349.4" width="2.2" height="20.8" fill="#f1db57" stroke="none" stroke-width="1" rx="1.1" />
<rect x="416.2" y="349.9" width="2.2" height="20.8" fill="#f1db57" stroke="none" stroke-width="1" rx="1.1" />
<rect x="419.1" y="349.4" width="2.2" height="19.9" fill="#f1db57" stroke="none" stroke-width="1" rx="1.1" />
<rect x="422" y="350.2" width="2.2" height="17.2" fill="#f1db57" stroke="none" stroke-width="1" rx="1.1" />
<rect x="425" y="349.9" width="2.2" height="19.4" fill="#f1db57" stroke="none" stroke-width="1" rx="1.1" />
<rect x="427.9" y="350.6" width="2.2" height="19" fill="#f1db57" stroke="none" stroke-width="1" rx="1.1" />
<rect x="430.8" y="349.8" width="2.2" height="20.2" fill="#f1db57" stroke="none" stroke-width="1" rx="1.1" />
<rect x="433.8" y="350.2" width="2.2" height="20.4" fill="#f1db57" stroke="none" stroke-width="1" rx="1.1" />
<rect x="436.7" y="350.1" width="2.2" height="20.2" fill="#f1db57" stroke="none" stroke-width="1" rx="1.1" />
<text x="444.9" y="365.6" font-size="16" text-anchor="start" fill="#1d1d1b" textLength="33.6" lengthAdjust="spacingAndGlyphs" >DSO</text>
<rect x="384.5" y="390.5" width="29.6" height="24.6" fill="#ffffff" stroke="#1d1d1b" stroke-width="1.3" rx="0" />
<text x="382.2" y="431.2" font-size="16" text-anchor="start" fill="#1d1d1b" textLength="40.8" lengthAdjust="spacingAndGlyphs" >50/50</text>
<path d="M431.2 391.2 H434 A9.8 11.9 0 0 1 434 415 H431.2 Z" fill="#fff" stroke="#1d1d1b" stroke-width="1.3"/>
<path d="M444 402.8 H455.7 V378" stroke="#1d1d1b" stroke-width="1.3" fill="none"/>
<text x="0.8" y="291.5" font-size="21.3" text-anchor="start" fill="#050505" font-weight="bold" textLength="14.1" lengthAdjust="spacingAndGlyphs" stroke="#050505" stroke-width="0.45">d</text>
</g>
<g>
<polyline points="606.1,409.4 606.4,409.5 606.8,410.3 607.1,408 607.4,406.7 607.8,405.5 608.1,405.8 608.4,407.7 608.8,409.1 609.1,408.9 609.4,407 609.8,406.1 610.1,409.1 610.4,411.4 610.8,411.9 611.1,411.2 611.4,408.4 611.7,407.6 612.1,409.2 612.4,408.3 612.7,406.9 613.1,407.2 613.4,408.2 613.7,408.9 614.1,408.9 614.4,409.3 614.7,407.8 615.1,407.6 615.4,408.3 615.7,408.6 616.1,407.3 616.4,409.6 616.7,412 617.1,409.9 617.4,409.3 617.7,408.4 618.1,408.3 618.4,407.9 618.7,407.7 619.1,409.7 619.4,410.1 619.7,409.6 620.1,408.4 620.4,407.9 620.7,407.4 621.1,407.7 621.4,408.4 621.7,407.1 622,407.6 622.4,408.4 622.7,410.6 623,408.2 623.4,408 623.7,408.2 624,406.5 624.4,408.4 624.7,409.3 625,408.4 625.4,408.1 625.7,409.7 626,408.5 626.4,407.5 626.7,408.5 627,409.4 627.4,408.3 627.7,407.3 628,408.2 628.4,408.6 628.7,407.2 629,407.3 629.4,409.1 629.7,409.6 630,408.1 630.4,408.2 630.7,409.6 631,410.4 631.4,409.1 631.7,408.1 632,409 632.3,408.3 632.7,409.3 633,411.3 633.3,410.8 633.7,409.7 634,409.7 634.3,411.1 634.7,410.7 635,409.1 635.3,406.4 635.7,407.2 636,408.5 636.3,406.4 636.7,407.9 637,408.8 637.3,406.9 637.7,406 638,406.9 638.3,408.4 638.7,406.8 639,405.7 639.3,407.8 639.7,410.3 640,409.2 640.3,404.3 640.7,403.5 641,406.9 641.3,409 641.7,410.5 642,410.3 642.3,408.9 642.6,409.6 643,410.4 643.3,409.2 643.6,409.5 644,410.4 644.3,409 644.6,406.8 645,407.4 645.3,407.9 645.6,406.5 646,406.8 646.3,408 646.6,409.7 647,410.1 647.3,409.7 647.6,410.9 648,408 648.3,405.4 648.6,407.1 649,407.3 649.3,407 649.6,407.3 650,406.6 650.3,406.3 650.6,406.1 651,405.2 651.3,408.4 651.6,409.1 652,408 652.3,408.3 652.6,406.8 652.9,407.2 653.3,408.4 653.6,409.4 653.9,408.8 654.3,406.4 654.6,406.1 654.9,406.3 655.3,407.4 655.6,406.8 655.9,406.4 656.3,406.8 656.6,408.5 656.9,409.1 657.3,409.6 657.6,408.7 657.9,406.6 658.3,409.1 658.6,410.4 658.9,408.3 659.3,407.4 659.6,407.7 659.9,408.4 660.3,408.8 660.6,406.8 660.9,406.8 661.3,407 661.6,407.1 661.9,407.8 662.3,407.9 662.6,408.4 662.9,409.5 663.2,409.4 663.6,410.5 663.9,409.1 664.2,406.7 664.6,406.2 664.9,407 665.2,408.3 665.6,408.1 665.9,409.4 666.2,408.2 666.6,407.6 666.9,406.7 667.2,407.4 667.6,408.3 667.9,406.2 668.2,406.1 668.6,406.6 668.9,409.8 669.2,410.8 669.6,408 669.9,406.9 670.2,409 670.6,409.9 670.9,410 671.2,409 671.6,408 671.9,408.4 672.2,405.1 672.6,404.4 672.9,405.7 673.2,407.6 673.5,410.1 673.9,407.6 674.2,406.5 674.5,407.3 674.9,405.4 675.2,402.7 675.5,403.7 675.9,406.6 676.2,406.6 676.5,404.5 676.9,404.8 677.2,406.7 677.5,405.7 677.9,405.6 678.2,405.4 678.5,406.6 678.9,408.1 679.2,407.5 679.5,408.2 679.9,409 680.2,407 680.5,406.9 680.9,407.8 681.2,406.1 681.5,406 681.9,407.9 682.2,408.1 682.5,409.8 682.9,412.3 683.2,410.9 683.5,409.3 683.8,411.5 684.2,410.8 684.5,407 684.8,406.8 685.2,405.7 685.5,404.6 685.8,406 686.2,407.3 686.5,407.5 686.8,408.7 687.2,408.5 687.5,408.6 687.8,409.1 688.2,408.2 688.5,408.5 688.8,408.9 689.2,409.4 689.5,409.4 689.8,411 690.2,411.9 690.5,409.4 690.8,407.9 691.2,408.6 691.5,409.6 691.8,410.5 692.2,410 692.5,408.5 692.8,409.8 693.2,411.1 693.5,411.6 693.8,409.6 694.1,407.3 694.5,406.8 694.8,407.4 695.1,408.7 695.5,407 695.8,405.5 696.1,406.5 696.5,408.6 696.8,408.1 697.1,406.2 697.5,408.1 697.8,408.3 698.1,409.1 698.5,408.3 698.8,407 699.1,406.6 699.5,406.9 699.8,409.9 700.1,407.2 700.5,405.6 700.8,408.6 701.1,409.2 701.5,406.4 701.8,408.5 702.1,408.3 702.5,408.8 702.8,409.4 703.1,407.7 703.5,408.4 703.8,408.8 704.1,409.9 704.4,410.5 704.8,410.6 705.1,411.1 705.4,412.1 705.8,409.8 706.1,409 706.4,408.6 706.8,407.5 707.1,408.2 707.4,408.6 707.8,408.2 708.1,409.1 708.4,408.2 708.8,407.2 709.1,408.6 709.4,407.3 709.8,407.1 710.1,409.6 710.4,408.9 710.8,409.3 711.1,408.5 711.4,407.7 711.8,407.1 712.1,405.6 712.4,406.8 712.8,406.3 713.1,408.6 713.4,409.4 713.8,410 714.1,409.7 714.4,410.4 714.7,411.8 715.1,409.2 715.4,407.9 715.7,407.7 716.1,409.2 716.4,408.7 716.7,408.6 717.1,410.1 717.4,409.4 717.7,409.7 718.1,410.7 718.4,409.8 718.7,409.5 719.1,408.3 719.4,407.7 719.7,409.9 720.1,412.9 720.4,410.8 720.7,406.9 721.1,406.7 721.4,407.7 721.7,406.8 722.1,406.7 722.4,407.2 722.7,406.9 723.1,409.3 723.4,409.7 723.7,411.6 724.1,412 724.4,411.9 724.7,409.9 725,407.9 725.4,408.5 725.7,408.4 726,409.5 726.4,408.9 726.7,410.7 727,411.7 727.4,410.9 727.7,410.2 728,407.8 728.4,405 728.7,405.6 729,409.3 729.4,409.4 729.7,407.3 730,407.5 730.4,410.2 730.7,411.4 731,409.4 731.4,408.4 731.7,408.8 732,409.9 732.4,409.9 732.7,407.2 733,406.8 733.4,406.1 733.7,405.1 734,407.4 734.4,407.5 734.7,406.9 735,410.2 735.3,409.8 735.7,408.8 736,407.5 736.3,405.2 736.7,406.9 737,406.7 737.3,405.4 737.7,404.3 738,406.1 738.3,409.8 738.7,409.1 739,408 739.3,409.5 739.7,410.6 740,410 740.3,410 740.7,410.5 741,405.6 741.3,404.5 741.7,406.9 742,407 742.3,407.6 742.7,408 743,409.5 743.3,410 743.7,410.5 744,409.9 744.3,408.3 744.7,408.4 745,407.3 745.3,409.1 745.6,410.2 746,407.7 746.3,406.6 746.6,406.5 747,403.7 747.3,403.5 747.6,404 748,403 748.3,403.2 748.6,402.1 749,404.2 749.3,405 749.6,404.5 750,404.9 750.3,404.3 750.6,403.8 751,404.2 751.3,405.3 751.6,403.6 752,403.3 752.3,405.6 752.6,407.1 753,407.3 753.3,405.9 753.6,404.1 754,403.7 754.3,405.4 754.6,404.4 755,402 755.3,403.4 755.6,405.9 755.9,406.6 756.3,404.6 756.6,404.3 756.9,405.4 757.3,403.4 757.6,405.1 757.9,405.2 758.3,404.9 758.6,405.2 758.9,403.1 759.3,401.7 759.6,402.6 759.9,402.9 760.3,401.5 760.6,400.8 760.9,401.3 761.3,403 761.6,403.5 761.9,400.1 762.3,397 762.6,400.5 762.9,403 763.3,402 763.6,400.8 763.9,401.7 764.3,402 764.6,400.4 764.9,398.9 765.3,401.8 765.6,402.3 765.9,399.6 766.2,399.4 766.6,401.2 766.9,400.6 767.2,398.4 767.6,399.1 767.9,400.9 768.2,402 768.6,400.6 768.9,399.9 769.2,401.6 769.6,400 769.9,398.4 770.2,401.3 770.6,401.8 770.9,400.2 771.2,400.6 771.6,401.7 771.9,400.6 772.2,398.1 772.6,398.1 772.9,400.6 773.2,402.3 773.6,400.3 773.9,397.7 774.2,396.2 774.6,395.7 774.9,395.7 775.2,395.7 775.6,396.3 775.9,395.4 776.2,397.8 776.5,396.7 776.9,399.5 777.2,402.6 777.5,398.8 777.9,397.6 778.2,396.4 778.5,398.5 778.9,400.1 779.2,395.3 779.5,395.4 779.9,398.5 780.2,397.2 780.5,395.8 780.9,395 781.2,396.2 781.5,397.4 781.9,399.7 782.2,398.9 782.5,397.3 782.9,397.7 783.2,394.2 783.5,393.9 783.9,396.1 784.2,398 784.5,397 784.9,394.3 785.2,393.3 785.5,390.5 785.9,390.6 786.2,393.1 786.5,391.9 786.8,390.8 787.2,390.5 787.5,390.3 787.8,394.4 788.2,394.7 788.5,392.8 788.8,394 789.2,392.4 789.5,392.7 789.8,392.6 790.2,394.4 790.5,396.4 790.8,390.6 791.2,387.6 791.5,391 791.8,393.1 792.2,391.9 792.5,389.2 792.8,388.3 793.2,388.2 793.5,388.9 793.8,389.7 794.2,391.4 794.5,392.1 794.8,388.9 795.2,389.8 795.5,388.5 795.8,384.9 796.2,386.6 796.5,390 796.8,392 797.1,391.1 797.5,387.3 797.8,386.9 798.1,386.9 798.5,387.7 798.8,387.9 799.1,387.1 799.5,390.3 799.8,389.1 800.1,388.5 800.5,387.5 800.8,386.8 801.1,386.5 801.5,385.3 801.8,384.9 802.1,382.1 802.5,384.4 802.8,383.6 803.1,381.8 803.5,381.1 803.8,376.8 804.1,379.1 804.5,381.3 804.8,378.6 805.1,376.9 805.5,376.9 805.8,378.3 806.1,381.1 806.5,382.5 806.8,377.1 807.1,373.3 807.4,375.1 807.8,379.2 808.1,379 808.4,378 808.8,374.6 809.1,372.8 809.4,373.8 809.8,372.2 810.1,370 810.4,370 810.8,370.9 811.1,367.2 811.4,368.6 811.8,370.1 812.1,366.9 812.4,366.7 812.8,366 813.1,366 813.4,366.8 813.8,364.5 814.1,363.1 814.4,364.1 814.8,364.6 815.1,366 815.4,366 815.8,360.8 816.1,363 816.4,360.6 816.8,358.9 817.1,360.2 817.4,358.5 817.7,359.6 818.1,356.1 818.4,353.4 818.7,350.5 819.1,348 819.4,345.3 819.7,340.2 820.1,334.2 820.4,328.3 820.7,322.8 821.1,316.5 821.4,310.4 821.7,303.6 822.1,299 822.4,305.2 822.7,311.9 823.1,318.9 823.4,325.4 823.7,331.5 824.1,338.2 824.4,344.9 824.7,348.6 825.1,351.7 825.4,355.2 825.7,358 826.1,358.9 826.4,359.6 826.7,362.5 827,365.5 827.4,370.4 827.7,370.3 828,366.6 828.4,366.9 828.7,367.1 829,369.1 829.4,372.1 829.7,374 830,374.8 830.4,374.1 830.7,376.9 831,379.3 831.4,377.8 831.7,376.1 832,374.5 832.4,375.4 832.7,375.9 833,373.8 833.4,377.3 833.7,379.5 834,379.6 834.4,381 834.7,382 835,382.7 835.4,381.3 835.7,380.7 836,381.2 836.4,384.4 836.7,381.9 837,377.9 837.3,381.1 837.7,384.6 838,382.8 838.3,382.1 838.7,384.9 839,390.7 839.3,390.7 839.7,388 840,390.5 840.3,389.4 840.7,389.1 841,391.1 841.3,388.8 841.7,387.9 842,392.2 842.3,392.2 842.7,390.5 843,390.3 843.3,392.7 843.7,396.3 844,395 844.3,393.4 844.7,395.5 845,393.8 845.3,390.3 845.7,391 846,391.4 846.3,392.8 846.7,394 847,393.2 847.3,391.1 847.6,390.7 848,392.1 848.3,391.3 848.6,391 849,392.3 849.3,392.3 849.6,391.1 850,392.3 850.3,394.1 850.6,393.4 851,394.3 851.3,393.8 851.6,392.4 852,392 852.3,391 852.6,392.7 853,397.1 853.3,396.7 853.6,396.7 854,400 854.3,400.4 854.6,397.3 855,394.5 855.3,396.6 855.6,397.3 856,396.1 856.3,396.4 856.6,398.5 857,397.5 857.3,397.6 857.6,399.1 857.9,399.7 858.3,399.6 858.6,400.1 858.9,401.7 859.3,399.7 859.6,399 859.9,399.7 860.3,397.6 860.6,396.2 860.9,399.4 861.3,399.2 861.6,400.8 861.9,402.9 862.3,404.8 862.6,404.6 862.9,401.1 863.3,400 863.6,399.8 863.9,400.3 864.3,398.8 864.6,401 864.9,402.7 865.3,400.6 865.6,400.8 865.9,400.3 866.3,398.7 866.6,397.8 866.9,398.7 867.3,402.6 867.6,402.5 867.9,400 868.2,399.7 868.6,400.6 868.9,399.4 869.2,400.6 869.6,403.8 869.9,402.1 870.2,399.5 870.6,399.2 870.9,400.6 871.2,402.9 871.6,400.8 871.9,397.6 872.2,398.7 872.6,400.4 872.9,401.3 873.2,400 873.6,400.2 873.9,402.2 874.2,400.2 874.6,399.4 874.9,402 875.2,403.8 875.6,402.1 875.9,399.4 876.2,398.5 876.6,399.3 876.9,400.3 877.2,403.9 877.6,404.9 877.9,403.2 878.2,404.1 878.5,405.1 878.9,406 879.2,403.8 879.5,406.3 879.9,407.2 880.2,404.9 880.5,401.6 880.9,402.3 881.2,405.4 881.5,404 881.9,402.6 882.2,402.7 882.5,404.8 882.9,403.2 883.2,403.3 883.5,407.6 883.9,408.1 884.2,407.4 884.5,407.2 884.9,405.2 885.2,405.4 885.5,405 885.9,403.9 886.2,403.2 886.5,401.7 886.9,401.4 887.2,403.6 887.5,405.1 887.9,404.8 888.2,404.4 888.5,403.6 888.8,403 889.2,404.4 889.5,405.5 889.8,405.3 890.2,406.4 890.5,407.9 890.8,408.9 891.2,408.1 891.5,404.9 891.8,403.6 892.2,404.7 892.5,405.2 892.8,405.4 893.2,403.6 893.5,403.3 893.8,405.1 894.2,404.1 894.5,403.4 894.8,404.2 895.2,404.7 895.5,405 895.8,403.6 896.2,403.2 896.5,407.1 896.8,409 897.2,406.9 897.5,406.5 897.8,404.9 898.2,406.8 898.5,409.7 898.8,409.2 899.1,409.2 899.5,408.5 899.8,409.8 900.1,408.6 900.5,409.3 900.8,408.4 901.1,406.1 901.5,405.6 901.8,405.3 902.1,404.4 902.5,406.5 902.8,409.7 903.1,409.1 903.5,409.5 903.8,409.1 904.1,409.6 904.5,406.9 904.8,406.8 905.1,406.5 905.5,405 905.8,406.1 906.1,406.5 906.5,405.8 906.8,407.4 907.1,409.1 907.5,408 907.8,405.9 908.1,406 908.5,408.1 908.8,406.4 909.1,406.7 909.4,408.3 909.8,406.8 910.1,407.9 910.4,408.6 910.8,407.1 911.1,408.6 911.4,407.9 911.8,409.2 912.1,410 912.4,407.4 912.8,409.8 913.1,414 913.4,413 913.8,408.7 914.1,404.9 914.4,406.6 914.8,408.3 915.1,406.9 915.4,406.9 915.8,406.4 916.1,407.6 916.4,407.3 916.8,406.8 917.1,404.7 917.4,404.7 917.8,405.4 918.1,405.4 918.4,407.1 918.8,405.1 919.1,405.1 919.4,406.7 919.7,407.3 920.1,409.1 920.4,409.3 920.7,406.6 921.1,405.4 921.4,404.5 921.7,404.1 922.1,405.1 922.4,405.3 922.7,406.3 923.1,407.4 923.4,407.2 923.7,405.9 924.1,408.2 924.4,408.6 924.7,406.6 925.1,405.5 925.4,405.7 925.7,407 926.1,407.1 926.4,407.2 926.7,407 927.1,407.6 927.4,408.3 927.7,408.6 928.1,407.4 928.4,407.8 928.7,405.3 929.1,405.5 929.4,406.6 929.7,406.6 930,405.7 930.4,401.8 930.7,401.9 931,401.9 931.4,403.3 931.7,404.3 932,403.3 932.4,403.9 932.7,404.8 933,406.3 933.4,407.9 933.7,407.4 934,407.3 934.4,408.5 934.7,408.6 935,405 935.4,404.3 935.7,405.8 936,407 936.4,407.7 936.7,407.7 937,405.7 937.4,405.8 937.7,407.1 938,406.5 938.4,407.5 938.7,404.6 939,403.3 939.4,403.3 939.7,405 940,403.2 940.3,400.4 940.7,400.9 941,401.7 941.3,404.2 941.7,404.3 942,405.4 942.3,405.6 942.7,403.8 943,403.6 943.3,404.5 943.7,405.9 944,407.2 944.3,407.1 944.7,408.2 945,409.2 945.3,408.3 945.7,407.2 946,409.3 946.3,408.7 946.7,409.1 947,408.1 947.3,406.8 947.7,406.1 948,405.2 948.3,407.2 948.7,406.2 949,405 949.3,405.9 949.7,407.3 950,406.1 950.3,405.4 950.6,407.5 951,408.9 951.3,409.4 951.6,408.2 952,407.3 952.3,409.1 952.6,406.8 953,406.5 953.3,408 953.6,409 954,408.4 954.3,406.9 954.6,406.5 955,405.9 955.3,406.5 955.6,406.8 956,404.9 956.3,404.6 956.6,405.1 957,404 957.3,403.8 957.6,405.3 958,406.5 958.3,406.4 958.6,407 959,408.7 959.3,407.7 959.6,406.3 960,408.5 960.3,407.1 960.6,406.2 960.9,407.2 961.3,407.2 961.6,406.3 961.9,406.1 962.3,407.1 962.6,407.2 962.9,408 963.3,406.8 963.6,406.1 963.9,408.2 964.3,407.3 964.6,406.1 964.9,407.1 965.3,406.2 965.6,407.6 965.9,408.1 966.3,403.8 966.6,405.6 966.9,407.1 967.3,406.9 967.6,407.5 967.9,405.7 968.3,406 968.6,404.8 968.9,404.7 969.3,405.1 969.6,405.6 969.9,407.6 970.3,406.4 970.6,405.9 970.9,404.5 971.2,404.6 971.6,406.3 971.9,406.2 972.2,405 972.6,406.3 972.9,408.6 973.2,407 973.6,406.4 973.9,408 974.2,409.9 974.6,407.3 974.9,406.8 975.2,407.4 975.6,407.5 975.9,407 976.2,404.9 976.6,405.8 976.9,404.6 977.2,404.6 977.6,406.7 977.9,407.6 978.2,407.2 978.6,406.2 978.9,406.4 979.2,407.8 979.6,407.8 979.9,404.7 980.2,405 980.6,406 980.9,405.3 981.2,406.6 981.5,405.3 981.9,405 982.2,407.1 982.5,408.1 982.9,406 983.2,404 983.5,404.5 983.9,404.4 984.2,403.4 984.5,403.4 984.9,404.4 985.2,407.6 985.5,408 985.9,406.9 986.2,406.7 986.5,405 986.9,405.7 987.2,407 987.5,406.6 987.9,404.7 988.2,404.2 988.5,405.9 988.9,405.5 989.2,407 989.5,407.8 989.9,405.7 990.2,408.1 990.5,408 990.9,406.7 991.2,406.3 991.5,404.8 991.8,403.2 992.2,403.4 992.5,405.3 992.8,406.5 993.2,409.1 993.5,408 993.8,408.3 994.2,408.6 994.5,406.7 994.8,407.3 995.2,406.4 995.5,407.2 995.8,407.2 996.2,405.1 996.5,405.6 996.8,405.6 997.2,404.3 997.5,404.8 997.8,405.7 998.2,405.9 998.5,405.5 998.8,405 999.2,402.7 999.5,403.6 999.8,406 1000.2,406.3 1000.5,405.8 1000.8,406.1 1001.2,406.6 1001.5,407.6 1001.8,407.1 1002.1,405.6 1002.5,406.7 1002.8,407.2 1003.1,408.4 1003.5,408.1 1003.8,405.3 1004.1,405.4 1004.5,404.4 1004.8,403.2 1005.1,406.5 1005.5,405.3 1005.8,404.8 1006.1,406.9 1006.5,406.8 1006.8,407.3 1007.1,407.8 1007.5,406.8 1007.8,407.3 1008.1,408.1 1008.5,408.1 1008.8,407.5 1009.1,406.4 1009.5,406.9 1009.8,406.7 1010.1,407.1 1010.5,407.4 1010.8,407.2 1011.1,406.6 1011.5,407.3 1011.8,406.4 1012.1,404.7 1012.4,406.4 1012.8,407.4 1013.1,405.1 1013.4,402.8 1013.8,402.4 1014.1,405.1 1014.4,407.1 1014.8,408.6 1015.1,409.8 1015.4,406.9 1015.8,405.1 1016.1,405 1016.4,404.1 1016.8,404.2 1017.1,404.8 1017.4,404.5 1017.8,404.1 1018.1,401.6 1018.4,402.7 1018.8,403.9 1019.1,402.8 1019.4,400.6 1019.8,399.7 1020.1,401.2 1020.4,403.6 1020.8,406 1021.1,406.9 1021.4,406.8 1021.8,403.3 1022.1,403.2 1022.4,404.9 1022.7,404.5 1023.1,403.5 1023.4,401.9 1023.7,404.7 1024.1,407.3 1024.4,406.1 1024.7,404.8 1025.1,404.3 1025.4,406.2 1025.7,407.2 1026.1,406.6 1026.4,406.4 1026.7,406.5 1027.1,406.3 1027.4,406.5 1027.7,406.1 1028.1,405 1028.4,406.4 1028.7,407.4 1029.1,404.9 1029.4,405.8 1029.7,408.5 1030.1,406.9 1030.4,406 1030.7,405.5 1031.1,404.1 1031.4,405.1 1031.7,407.1 1032.1,407.6 1032.4,407.6 1032.7,408.1 1033,407.7 1033.4,408.5 1033.7,409.3 1034,409.3 1034.4,408 1034.7,405.8 1035,406.1 1035.4,405.9 1035.7,406.2 1036,405.9 1036.4,404.4 1036.7,404.3 1037,404.3 1037.4,404.3 1037.7,404.6" fill="none" stroke="#2a76b0" stroke-width="2.7" stroke-linejoin="round" />
<polyline points="606.1,406.4 606.4,405.7 606.8,407.5 607.1,406.8 607.4,408.9 607.8,410.8 608.1,409.6 608.4,408.6 608.8,407.6 609.1,407.4 609.4,406.2 609.8,407 610.1,409 610.4,409.2 610.8,408.8 611.1,409.7 611.4,410 611.7,408.3 612.1,408 612.4,407.4 612.7,405.7 613.1,405.5 613.4,406.1 613.7,406.3 614.1,406.1 614.4,404.9 614.7,406.1 615.1,407.5 615.4,409.4 615.7,409.2 616.1,408.3 616.4,409.1 616.7,408 617.1,407.1 617.4,409.7 617.7,410.4 618.1,408.1 618.4,408.8 618.7,408 619.1,406.6 619.4,407.7 619.7,408.1 620.1,408.3 620.4,410.9 620.7,409.6 621.1,409.1 621.4,411.6 621.7,410 622,409.6 622.4,410.5 622.7,408.5 623,407 623.4,409.3 623.7,410.3 624,408.9 624.4,409 624.7,410.3 625,409.6 625.4,408 625.7,406.8 626,407.6 626.4,408 626.7,408.2 627,408.4 627.4,407.6 627.7,409.3 628,410.1 628.4,409 628.7,410.3 629,409.5 629.4,408.5 629.7,409.3 630,406.9 630.4,407.1 630.7,408.6 631,407.4 631.4,409 631.7,409.3 632,406.5 632.3,407.2 632.7,406.4 633,407.5 633.3,409.7 633.7,408.7 634,407.9 634.3,409 634.7,408.6 635,406.7 635.3,407.2 635.7,408.2 636,411.9 636.3,410.9 636.7,409 637,408.1 637.3,408.2 637.7,407.8 638,406.3 638.3,407.3 638.7,407 639,407.8 639.3,409.8 639.7,410.2 640,407.6 640.3,406.6 640.7,407.8 641,410.8 641.3,409.1 641.7,406.7 642,410.1 642.3,411 642.6,410.6 643,409.8 643.3,409.3 643.6,409.4 644,409 644.3,406.3 644.6,406.2 645,409 645.3,408.2 645.6,407.1 646,407.5 646.3,406.8 646.6,407.9 647,408.5 647.3,406.6 647.6,406.4 648,408.7 648.3,409.2 648.6,406.9 649,407.2 649.3,407.6 649.6,408 650,407.9 650.3,406 650.6,406.2 651,407.1 651.3,407.7 651.6,408.3 652,408.4 652.3,408.4 652.6,409.3 652.9,411 653.3,409.3 653.6,410.1 653.9,412 654.3,412.2 654.6,410.8 654.9,408.4 655.3,410 655.6,408.2 655.9,405.7 656.3,406.6 656.6,406.1 656.9,405.5 657.3,406.4 657.6,406.4 657.9,407.7 658.3,407 658.6,406.9 658.9,408.8 659.3,408.5 659.6,407 659.9,406.2 660.3,407.3 660.6,407.7 660.9,406.9 661.3,406.6 661.6,407.9 661.9,408.2 662.3,411.5 662.6,411.8 662.9,409.1 663.2,409 663.6,408.6 663.9,408.5 664.2,409.7 664.6,411.2 664.9,410.7 665.2,409 665.6,408.9 665.9,408.6 666.2,407.8 666.6,408.9 666.9,410.4 667.2,410 667.6,410.4 667.9,411.3 668.2,408.5 668.6,408.7 668.9,410.4 669.2,409.9 669.6,408.2 669.9,407.4 670.2,409.2 670.6,407.8 670.9,405.4 671.2,406.8 671.6,409.8 671.9,410.8 672.2,407.1 672.6,407.2 672.9,407.7 673.2,406.2 673.5,406.6 673.9,407.8 674.2,409.6 674.5,408.6 674.9,408.3 675.2,408 675.5,407.5 675.9,410 676.2,410 676.5,409.1 676.9,410.3 677.2,410.2 677.5,409.4 677.9,409.3 678.2,409.3 678.5,407.8 678.9,406.5 679.2,407 679.5,407 679.9,406.7 680.2,407.2 680.5,408.8 680.9,410.4 681.2,411.4 681.5,408.5 681.9,406.6 682.2,408.2 682.5,409.4 682.9,407.6 683.2,406.9 683.5,407.4 683.8,407.2 684.2,406.9 684.5,407.8 684.8,412.3 685.2,412.3 685.5,411.7 685.8,409.5 686.2,408 686.5,407.9 686.8,408.7 687.2,409.8 687.5,407.1 687.8,405.8 688.2,405.5 688.5,405.9 688.8,405 689.2,407 689.5,407.8 689.8,406.7 690.2,406.1 690.5,406.7 690.8,409.4 691.2,409.8 691.5,408.5 691.8,407.5 692.2,407 692.5,407.4 692.8,409.4 693.2,410.4 693.5,410.1 693.8,407.9 694.1,406.9 694.5,408.3 694.8,408.4 695.1,409 695.5,409.1 695.8,409.3 696.1,409.6 696.5,410.4 696.8,409.7 697.1,408.7 697.5,408.8 697.8,407.5 698.1,409.6 698.5,409.8 698.8,411.1 699.1,410.7 699.5,408.9 699.8,411 700.1,412.1 700.5,413.5 700.8,410.3 701.1,409.1 701.5,408.7 701.8,408.1 702.1,409.2 702.5,408.4 702.8,410.2 703.1,406.7 703.5,405.2 703.8,408.1 704.1,410 704.4,409.7 704.8,408.3 705.1,409.1 705.4,411.7 705.8,411.9 706.1,408.2 706.4,407.4 706.8,409.3 707.1,408.8 707.4,408.8 707.8,409.8 708.1,408.8 708.4,408.1 708.8,406 709.1,405.5 709.4,406.7 709.8,407 710.1,407.8 710.4,408.7 710.8,411 711.1,409 711.4,408.5 711.8,410.2 712.1,408.7 712.4,407.7 712.8,407.3 713.1,407.2 713.4,407.7 713.8,408.3 714.1,407.3 714.4,408.4 714.7,406.9 715.1,407.2 715.4,408.5 715.7,407.3 716.1,408.3 716.4,408.7 716.7,407.3 717.1,407 717.4,407 717.7,406 718.1,406.3 718.4,408.6 718.7,408.3 719.1,407.3 719.4,405.3 719.7,406.2 720.1,407.8 720.4,405.7 720.7,407.5 721.1,410.3 721.4,410.3 721.7,410.2 722.1,410.7 722.4,408.7 722.7,409.7 723.1,407.5 723.4,404.7 723.7,405.9 724.1,407.2 724.4,409 724.7,407.7 725,407.8 725.4,409 725.7,408.5 726,408.5 726.4,408.7 726.7,408.5 727,407.3 727.4,408.4 727.7,410.2 728,411.7 728.4,410 728.7,406.3 729,408.1 729.4,407.4 729.7,406.7 730,407.1 730.4,405.8 730.7,406.4 731,405.7 731.4,406.9 731.7,408.7 732,405 732.4,404.1 732.7,404.8 733,404.7 733.4,406.9 733.7,406.3 734,405.7 734.4,406.5 734.7,407.6 735,408.3 735.3,406.8 735.7,407.5 736,409.3 736.3,407.2 736.7,406.4 737,406.8 737.3,407.2 737.7,405.6 738,405.3 738.3,409.3 738.7,408.5 739,406.7 739.3,409.9 739.7,410.5 740,409.2 740.3,408.9 740.7,406.6 741,405.9 741.3,407 741.7,407 742,406.2 742.3,406.8 742.7,405.6 743,404.1 743.3,407.1 743.7,408.7 744,406.2 744.3,406.8 744.7,407 745,406.5 745.3,406.2 745.6,407 746,406.6 746.3,405.6 746.6,407.3 747,407.8 747.3,407 747.6,406.3 748,408.3 748.3,410.4 748.6,408.6 749,406.1 749.3,406.6 749.6,407.6 750,408.4 750.3,408.5 750.6,407.1 751,408.7 751.3,409.4 751.6,407.4 752,407.5 752.3,408.2 752.6,407.3 753,406.6 753.3,409.5 753.6,411.3 754,410.5 754.3,409.9 754.6,411.4 755,409.6 755.3,407.5 755.6,409.4 755.9,408 756.3,407.8 756.6,407.6 756.9,407.8 757.3,408.9 757.6,409.3 757.9,410.4 758.3,410.2 758.6,407.7 758.9,407.2 759.3,409.8 759.6,409.4 759.9,408 760.3,408.4 760.6,408.5 760.9,407.3 761.3,406.6 761.6,407.6 761.9,407 762.3,406.9 762.6,408.4 762.9,408.3 763.3,407.9 763.6,407.5 763.9,406.9 764.3,406.5 764.6,407.3 764.9,408 765.3,407.5 765.6,406.1 765.9,406.1 766.2,408.9 766.6,408.9 766.9,407.8 767.2,408.7 767.6,408.3 767.9,408.4 768.2,407.9 768.6,408.2 768.9,409.9 769.2,408.5 769.6,408.2 769.9,407.4 770.2,406.4 770.6,409.1 770.9,409.1 771.2,409.4 771.6,411.3 771.9,410.4 772.2,408.8 772.6,408.3 772.9,406.5 773.2,406.3 773.6,408.2 773.9,409.3 774.2,408.2 774.6,405.9 774.9,406.1 775.2,406.5 775.6,407.2 775.9,407.7 776.2,405.7 776.5,406.3 776.9,409 777.2,406.3 777.5,406.8 777.9,409.1 778.2,410 778.5,409.5 778.9,408.6 779.2,409 779.5,408.8 779.9,409.4 780.2,408.4 780.5,408.8 780.9,407.7 781.2,407.4 781.5,408.4 781.9,410.5 782.2,411.2 782.5,411.7 782.9,411 783.2,408.5 783.5,408.7 783.9,409.6 784.2,410.3 784.5,407.7 784.9,408 785.2,409.2 785.5,408.6 785.9,410.5 786.2,411.3 786.5,409.6 786.8,410.1 787.2,410.1 787.5,409.1 787.8,406.3 788.2,405.4 788.5,407.8 788.8,408.2 789.2,408.3 789.5,408.9 789.8,408.4 790.2,407.9 790.5,406.8 790.8,405.7 791.2,406.6 791.5,408.9 791.8,410.3 792.2,408 792.5,407.5 792.8,406.3 793.2,406.2 793.5,408.3 793.8,408.8 794.2,409.6 794.5,408.4 794.8,406.2 795.2,406.9 795.5,409.2 795.8,410.2 796.2,411.7 796.5,411.1 796.8,409.8 797.1,411 797.5,411.1 797.8,411.2 798.1,412 798.5,411.2 798.8,408.8 799.1,409.5 799.5,410.1 799.8,408.3 800.1,407.4 800.5,407 800.8,406.7 801.1,407.5 801.5,406.1 801.8,404.7 802.1,406.3 802.5,408.5 802.8,408.8 803.1,406.3 803.5,405.3 803.8,409.9 804.1,410.1 804.5,406.3 804.8,407.4 805.1,409.2 805.5,410.1 805.8,407.7 806.1,406.3 806.5,407.8 806.8,409.5 807.1,410.5 807.4,408.2 807.8,407.6 808.1,409.2 808.4,408 808.8,408.2 809.1,407.3 809.4,407.1 809.8,407.4 810.1,407.7 810.4,408.3 810.8,407.8 811.1,407.2 811.4,405.5 811.8,407.4 812.1,407.8 812.4,407.5 812.8,410.2 813.1,408.8 813.4,408.1 813.8,408.1 814.1,407.1 814.4,406.3 814.8,405.8 815.1,406.2 815.4,404.2 815.8,400.7 816.1,399.5 816.4,400.8 816.8,398.5 817.1,394.7 817.4,393 817.7,388.8 818.1,382.1 818.4,375 818.7,368.6 819.1,362 819.4,354 819.7,346.4 820.1,340.7 820.4,335.5 820.7,330.1 821.1,324.5 821.4,318.8 821.7,313.2 822.1,309.5 822.4,314.7 822.7,320.5 823.1,326.6 823.4,332.1 823.7,336.8 824.1,342.3 824.4,349.8 824.7,357.3 825.1,365.2 825.4,372.1 825.7,378.6 826.1,386.7 826.4,390.1 826.7,392.5 827,395.2 827.4,397.8 827.7,401 828,404.4 828.4,406.5 828.7,411.5 829,414.5 829.4,413.2 829.7,413.1 830,413 830.4,412.7 830.7,411.1 831,410.4 831.4,408.8 831.7,407.9 832,408.7 832.4,408.8 832.7,408.2 833,408.3 833.4,409.7 833.7,409 834,408.3 834.4,410.7 834.7,410.3 835,408.2 835.4,408 835.7,408.7 836,408.5 836.4,406 836.7,405.2 837,404.9 837.3,406.7 837.7,407.9 838,409 838.3,409.9 838.7,409.3 839,409.8 839.3,410 839.7,410.3 840,410.1 840.3,409.6 840.7,410 841,409.2 841.3,407.6 841.7,407.5 842,407.7 842.3,409.9 842.7,410.1 843,407 843.3,406.7 843.7,409.3 844,409.4 844.3,407.4 844.7,407.7 845,407.9 845.3,407.2 845.7,408.3 846,406.8 846.3,405.5 846.7,407.5 847,409 847.3,410.5 847.6,409.9 848,406.3 848.3,407.4 848.6,410.7 849,409.6 849.3,407.4 849.6,406.1 850,405.6 850.3,406.1 850.6,405.2 851,406.2 851.3,408.5 851.6,408.7 852,407.5 852.3,407 852.6,407.9 853,406.8 853.3,406.1 853.6,404.9 854,404.1 854.3,405.7 854.6,406.4 855,407.4 855.3,407.2 855.6,405.6 856,406.3 856.3,406.8 856.6,407.2 857,406.5 857.3,407.5 857.6,407.2 857.9,407.1 858.3,408.7 858.6,408.5 858.9,407.8 859.3,408.4 859.6,409.4 859.9,409.3 860.3,409.3 860.6,407.6 860.9,406.7 861.3,406.5 861.6,406.8 861.9,406.5 862.3,405.3 862.6,407.1 862.9,408.7 863.3,408.4 863.6,407.5 863.9,407.7 864.3,409.6 864.6,408.4 864.9,409.1 865.3,410 865.6,407.1 865.9,408.6 866.3,407.9 866.6,406.9 866.9,406.8 867.3,406 867.6,404.8 867.9,403.3 868.2,404.1 868.6,405 868.9,407.5 869.2,407.6 869.6,404.9 869.9,406.5 870.2,407.6 870.6,406.6 870.9,408.4 871.2,409.1 871.6,408.5 871.9,408.7 872.2,409.2 872.6,407.9 872.9,405 873.2,405.9 873.6,406.6 873.9,404.8 874.2,406 874.6,407.1 874.9,405.4 875.2,405.4 875.6,406.2 875.9,405.6 876.2,407.6 876.6,408.6 876.9,407.7 877.2,407 877.6,406 877.9,407 878.2,406.7 878.5,406.5 878.9,408.2 879.2,410.8 879.5,408.6 879.9,407 880.2,408.4 880.5,408.7 880.9,408.5 881.2,406.6 881.5,407.3 881.9,406.7 882.2,404.5 882.5,402.6 882.9,406.6 883.2,411 883.5,409.5 883.9,408.8 884.2,409 884.5,407 884.9,406.4 885.2,405.8 885.5,406.1 885.9,408.2 886.2,408.1 886.5,406.9 886.9,406.3 887.2,406.4 887.5,405.2 887.9,404.4 888.2,406.6 888.5,408.4 888.8,408.8 889.2,409.9 889.5,411.1 889.8,409.6 890.2,408.7 890.5,408.6 890.8,407 891.2,407.9 891.5,408.3 891.8,407.2 892.2,406.5 892.5,406.3 892.8,404.2 893.2,404.3 893.5,405.1 893.8,404.6 894.2,404.5 894.5,404.1 894.8,405.4 895.2,405.8 895.5,405 895.8,405.6 896.2,407.4 896.5,407.1 896.8,406.9 897.2,407.4 897.5,407.2 897.8,407.6 898.2,407.4 898.5,406.7 898.8,406.8 899.1,407.7 899.5,409.6 899.8,409.1 900.1,408.2 900.5,407.6 900.8,405.6 901.1,405.9 901.5,406.9 901.8,407.3 902.1,408.1 902.5,409.2 902.8,407.3 903.1,407.3 903.5,409.8 903.8,409.2 904.1,409 904.5,408.3 904.8,406.2 905.1,407.4 905.5,407.4 905.8,405.8 906.1,405.2 906.5,407.9 906.8,409.1 907.1,405.3 907.5,407.1 907.8,407.7 908.1,406.1 908.5,408.3 908.8,407.7 909.1,407.8 909.4,407.4 909.8,406.6 910.1,408.6 910.4,408.6 910.8,407.9 911.1,407.3 911.4,406.4 911.8,406.5 912.1,407.8 912.4,409.3 912.8,409.6 913.1,408.8 913.4,408.7 913.8,406.3 914.1,404.9 914.4,405.9 914.8,406.5 915.1,406.7 915.4,406.8 915.8,407.9 916.1,409.3 916.4,408.1 916.8,406.6 917.1,407.8 917.4,406.7 917.8,406.3 918.1,407 918.4,405 918.8,406.8 919.1,408.7 919.4,408.1 919.7,408.1 920.1,407.3 920.4,408.1 920.7,406.6 921.1,404.9 921.4,406 921.7,407.5 922.1,407.8 922.4,406.8 922.7,406.8 923.1,406.7 923.4,406.2 923.7,404.8 924.1,404.8 924.4,406 924.7,406.8 925.1,406 925.4,406.1 925.7,407.7 926.1,407.1 926.4,407.7 926.7,408.4 927.1,409.6 927.4,410.5 927.7,410.5 928.1,408.4 928.4,404.9 928.7,405.5 929.1,407.4 929.4,408.7 929.7,409.2 930,408.7 930.4,407.3 930.7,405.2 931,406 931.4,408.5 931.7,407.8 932,405.2 932.4,406.5 932.7,407.8 933,407.7 933.4,409.5 933.7,409.8 934,406.5 934.4,405.4 934.7,407.7 935,409 935.4,407.6 935.7,407.1 936,409 936.4,410.4 936.7,408.4 937,406.8 937.4,408 937.7,407.1 938,408.5 938.4,407.5 938.7,406.5 939,406.1 939.4,405.6 939.7,407.3 940,407 940.3,406.3 940.7,405 941,406.7 941.3,407.6 941.7,407 942,406.9 942.3,405.5 942.7,405.5 943,406.9 943.3,406 943.7,406.5 944,409.6 944.3,407.9 944.7,405.7 945,406.3 945.3,408.7 945.7,408.2 946,404.1 946.3,406.2 946.7,408 947,405.6 947.3,405.7 947.7,407.7 948,406.2 948.3,405.6 948.7,408.8 949,408 949.3,404.2 949.7,404.1 950,408.3 950.3,407.2 950.6,404.9 951,406.8 951.3,407.6 951.6,408.1 952,407.2 952.3,406.6 952.6,406 953,406.7 953.3,408.3 953.6,407.8 954,405.6 954.3,403.9 954.6,405.3 955,406.6 955.3,405.9 955.6,405.6 956,405.3 956.3,405.6 956.6,404.9 957,405.4 957.3,405.5 957.6,403.7 958,406.9 958.3,407.1 958.6,404.7 959,405 959.3,405.8 959.6,407.3 960,408.1 960.3,407.9 960.6,405.7 960.9,405 961.3,404.6 961.6,404.5 961.9,405.8 962.3,404.8 962.6,405.8 962.9,408.3 963.3,408.6 963.6,407.3 963.9,407.1 964.3,408 964.6,407.8 964.9,407.5 965.3,406.1 965.6,404.4 965.9,404.6 966.3,406.4 966.6,405.1 966.9,404.4 967.3,408.4 967.6,409.5 967.9,406.4 968.3,405.6 968.6,405.6 968.9,406.8 969.3,406.4 969.6,406.5 969.9,407.2 970.3,404.9 970.6,406.7 970.9,408.3 971.2,407.1 971.6,407.6 971.9,405.8 972.2,405.6 972.6,404.1 972.9,403 973.2,405.6 973.6,405.9 973.9,406.5 974.2,407.7 974.6,407.3 974.9,404.3 975.2,404 975.6,405.9 975.9,406.7 976.2,407.1 976.6,405.4 976.9,406.2 977.2,406.7 977.6,404.5 977.9,405.9 978.2,405.6 978.6,403.2 978.9,403.5 979.2,405.6 979.6,406.6 979.9,407.9 980.2,407.7 980.6,406.6 980.9,407 981.2,405.7 981.5,407.1 981.9,407.9 982.2,408.6 982.5,406.9 982.9,403.1 983.2,403.7 983.5,405.7 983.9,407.4 984.2,407.1 984.5,406.7 984.9,404.8 985.2,404.3 985.5,405.3 985.9,405.6 986.2,408.9 986.5,409.1 986.9,408 987.2,406.9 987.5,404.7 987.9,404.7 988.2,404.8 988.5,405.4 988.9,406.7 989.2,408.3 989.5,406.2 989.9,405.2 990.2,408.6 990.5,409.5 990.9,408.9 991.2,408.4 991.5,406.6 991.8,403.9 992.2,404.1 992.5,404.9 992.8,406.1 993.2,408.1 993.5,407.7 993.8,408.8 994.2,408.4 994.5,405.5 994.8,405.2 995.2,405.8 995.5,406.8 995.8,406.3 996.2,405.4 996.5,405.5 996.8,406 997.2,407.1 997.5,408.2 997.8,406.6 998.2,404.4 998.5,406.4 998.8,406.3 999.2,405.7 999.5,404 999.8,404.8 1000.2,404.2 1000.5,404.6 1000.8,404.9 1001.2,404.9 1001.5,406.6 1001.8,404.5 1002.1,406.6 1002.5,406.9 1002.8,406.3 1003.1,407.7 1003.5,406.2 1003.8,404.7 1004.1,404.7 1004.5,404.5 1004.8,404.8 1005.1,407 1005.5,407.5 1005.8,406.9 1006.1,407.8 1006.5,406.1 1006.8,406.2 1007.1,409.9 1007.5,408.2 1007.8,404.5 1008.1,407 1008.5,409.4 1008.8,409.2 1009.1,407.5 1009.5,406.7 1009.8,406.6 1010.1,406.7 1010.5,406 1010.8,405.1 1011.1,405.2 1011.5,405.4 1011.8,404.8 1012.1,405.4 1012.4,406 1012.8,404.8 1013.1,407.2 1013.4,407.3 1013.8,404.4 1014.1,405.9 1014.4,407.3 1014.8,407.7 1015.1,408.4 1015.4,407.4 1015.8,408.2 1016.1,407.6 1016.4,405.5 1016.8,406.9 1017.1,407.8 1017.4,405.7 1017.8,403.4 1018.1,404.9 1018.4,408.3 1018.8,406.7 1019.1,406.3 1019.4,409.1 1019.8,407.4 1020.1,406.1 1020.4,406.4 1020.8,406.3 1021.1,406.1 1021.4,405.9 1021.8,406.9 1022.1,408.1 1022.4,407 1022.7,406.6 1023.1,405.9 1023.4,406.4 1023.7,405.9 1024.1,404.4 1024.4,405.9 1024.7,406 1025.1,406 1025.4,406 1025.7,406.9 1026.1,408.2 1026.4,408.4 1026.7,407.7 1027.1,406.6 1027.4,405.8 1027.7,406.1 1028.1,405.5 1028.4,405.3 1028.7,407.9 1029.1,406.3 1029.4,405.5 1029.7,407.8 1030.1,409.5 1030.4,408.6 1030.7,407.3 1031.1,406.3 1031.4,403.9 1031.7,404.7 1032.1,406.4 1032.4,405.5 1032.7,406.4 1033,407.7 1033.4,403.9 1033.7,404.5 1034,406.9 1034.4,407.1 1034.7,405.6 1035,403.9 1035.4,406.8 1035.7,407.8 1036,409.3 1036.4,408.5 1036.7,405.1 1037,406.9 1037.4,409.6 1037.7,410.4" fill="none" stroke="#f08c28" stroke-width="2.7" stroke-linejoin="round" />
<line x1="605.6" y1="283" x2="605.6" y2="419.8" stroke="#1d1d1b" stroke-width="1.35" />
<line x1="605.1" y1="419.3" x2="1038.7" y2="419.3" stroke="#1d1d1b" stroke-width="1.35" />
<line x1="601.4" y1="419.3" x2="605.6" y2="419.3" stroke="#1d1d1b" stroke-width="1.35" />
<line x1="601.4" y1="374.1" x2="605.6" y2="374.1" stroke="#1d1d1b" stroke-width="1.35" />
<line x1="601.4" y1="328.8" x2="605.6" y2="328.8" stroke="#1d1d1b" stroke-width="1.35" />
<line x1="601.4" y1="283.6" x2="605.6" y2="283.6" stroke="#1d1d1b" stroke-width="1.35" />
<line x1="605.6" y1="419.3" x2="605.6" y2="423.3" stroke="#1d1d1b" stroke-width="1.35" />
<text x="601.4" y="440.6" font-size="16" text-anchor="middle" fill="#1d1d1b" textLength="31.6" lengthAdjust="spacingAndGlyphs" >−1.0</text>
<line x1="713.8" y1="419.3" x2="713.8" y2="423.3" stroke="#1d1d1b" stroke-width="1.35" />
<text x="709.5" y="440.6" font-size="16" text-anchor="middle" fill="#1d1d1b" textLength="31.6" lengthAdjust="spacingAndGlyphs" >−0.5</text>
<line x1="821.9" y1="419.3" x2="821.9" y2="423.3" stroke="#1d1d1b" stroke-width="1.35" />
<text x="821.9" y="440.6" font-size="16" text-anchor="middle" fill="#1d1d1b" textLength="8.9" lengthAdjust="spacingAndGlyphs" >0</text>
<line x1="930.1" y1="419.3" x2="930.1" y2="423.3" stroke="#1d1d1b" stroke-width="1.35" />
<text x="930.1" y="440.6" font-size="16" text-anchor="middle" fill="#1d1d1b" textLength="22.2" lengthAdjust="spacingAndGlyphs" >0.5</text>
<line x1="1038.2" y1="419.3" x2="1038.2" y2="423.3" stroke="#1d1d1b" stroke-width="1.35" />
<text x="1038.2" y="440.6" font-size="16" text-anchor="middle" fill="#1d1d1b" textLength="22.2" lengthAdjust="spacingAndGlyphs" >1.0</text>
<text x="826.5" y="461.9" font-size="16" text-anchor="middle" fill="#1d1d1b" textLength="200" lengthAdjust="spacingAndGlyphs" >Frequency (GHz + 3.0 GHz)</text>
<text transform="translate(559.9 360) rotate(-90)" font-size="16" text-anchor="middle" fill="#1d1d1b" textLength="115.8" lengthAdjust="spacingAndGlyphs" >Beatnote power</text>
<text transform="translate(579.4 357.7) rotate(-90)" font-size="16" text-anchor="middle" fill="#1d1d1b" textLength="109.5" lengthAdjust="spacingAndGlyphs" >(25 dBm div.<tspan font-size="10" dy="-5.5">–1</tspan><tspan dy="5.5">)</tspan></text>
<line x1="936.3" y1="300" x2="964.8" y2="300" stroke="#2c7bb8" stroke-width="2.4" />
<line x1="936.3" y1="318.7" x2="964.8" y2="318.7" stroke="#f28e2b" stroke-width="2.4" />
<text x="971.3" y="305" font-size="16" text-anchor="start" fill="#1d1d1b" textLength="68.4" lengthAdjust="spacingAndGlyphs" >Unlocked</text>
<text x="969.8" y="323.4" font-size="16" text-anchor="start" fill="#1d1d1b" textLength="53.2" lengthAdjust="spacingAndGlyphs" >Locked</text>
<text x="529.8" y="292" font-size="21.3" text-anchor="start" fill="#050505" font-weight="bold" textLength="12.8" lengthAdjust="spacingAndGlyphs" stroke="#050505" stroke-width="0.45">e</text>
</g>
<g>
<rect x="168.9" y="486.2" width="89.5" height="67.5" fill="#b7d4e8" stroke="none" stroke-width="1" rx="0" />
<rect x="347" y="486.2" width="93.1" height="67.5" fill="#b7d4e8" stroke="none" stroke-width="1" rx="0" />
<polyline points="84.6,537.3 301,502.8 516.5,537.3" fill="none" stroke="#2876ab" stroke-width="3.1" stroke-linejoin="round" />
<line x1="84.6" y1="486.3" x2="84.6" y2="554.7" stroke="#1d1d1b" stroke-width="1.35" />
<line x1="84.1" y1="554.2" x2="517" y2="554.2" stroke="#1d1d1b" stroke-width="1.35" />
<line x1="80.4" y1="486.8" x2="84.6" y2="486.8" stroke="#1d1d1b" stroke-width="1.35" />
<text x="76.7" y="492.7" font-size="16" text-anchor="end" fill="#1d1d1b" textLength="26.7" lengthAdjust="spacingAndGlyphs" >185</text>
<line x1="80.4" y1="520.5" x2="84.6" y2="520.5" stroke="#1d1d1b" stroke-width="1.35" />
<text x="76.7" y="526.4" font-size="16" text-anchor="end" fill="#1d1d1b" textLength="26.7" lengthAdjust="spacingAndGlyphs" >180</text>
<line x1="80.4" y1="554.2" x2="84.6" y2="554.2" stroke="#1d1d1b" stroke-width="1.35" />
<text x="76.7" y="560.1" font-size="16" text-anchor="end" fill="#1d1d1b" textLength="26.7" lengthAdjust="spacingAndGlyphs" >175</text>
<line x1="84.6" y1="554.2" x2="84.6" y2="558.2" stroke="#1d1d1b" stroke-width="1.35" />
<line x1="171" y1="554.2" x2="171" y2="558.2" stroke="#1d1d1b" stroke-width="1.35" />
<line x1="257.4" y1="554.2" x2="257.4" y2="558.2" stroke="#1d1d1b" stroke-width="1.35" />
<line x1="343.7" y1="554.2" x2="343.7" y2="558.2" stroke="#1d1d1b" stroke-width="1.35" />
<line x1="430.1" y1="554.2" x2="430.1" y2="558.2" stroke="#1d1d1b" stroke-width="1.35" />
<line x1="516.5" y1="554.2" x2="516.5" y2="558.2" stroke="#1d1d1b" stroke-width="1.35" />
<text x="232.2" y="534.2" font-size="16" text-anchor="start" fill="#1d1d1b" textLength="148.7" lengthAdjust="spacingAndGlyphs" >Self-injection locked</text>
<line x1="224" y1="543.5" x2="386.2" y2="543.5" stroke="#111" stroke-width="1.3" />
<polygon points="219,543.5 227.6,540 225.9,543.5 227.6,547" fill="#111"/>
<polygon points="391.2,543.5 382.6,547 384.3,543.5 382.6,540" fill="#111"/>
<text transform="translate(22 523.6) rotate(-90)" font-size="16" text-anchor="middle" fill="#1d1d1b" textLength="38.2" lengthAdjust="spacingAndGlyphs" >Laser</text>
<text transform="translate(40.6 521.8) rotate(-90)" font-size="16" text-anchor="middle" fill="#1d1d1b" textLength="87.5" lengthAdjust="spacingAndGlyphs" >current (mA)</text>
<clipPath id="cf"><rect x="84.6" y="575.2" width="431.9" height="136.0999999999999"/></clipPath>
<rect x="84.6" y="575.2" width="431.9" height="136.1" fill="#472274" stroke="none" stroke-width="1" rx="0" />
<g clip-path="url(#cf)">
<rect x="84.6" y="596" width="431.9" height="20" fill="#4a2d84" stroke="none" stroke-width="1" rx="0" opacity="0.35" filter="url(#gl3)"/>
<rect x="84.6" y="655" width="431.9" height="22" fill="#3e2170" stroke="none" stroke-width="1" rx="0" opacity="0.5" filter="url(#gl3)"/>
<polyline points="84.6,713 85.6,712.3 86.6,712.3 87.5,712 88.5,712.1 89.5,711.9 90.5,711.1 91.4,709.6 92.4,708.7 93.4,708.9 94.4,708.4 95.3,707.8 96.3,707.3 97.3,706.6 98.3,705.6 99.2,704.9 100.2,704.1 101.2,703.4 102.2,703 103.1,702 104.1,701.2 105.1,701.1 106.1,700.7 107,699.8 108,698.7 109,698.3 110,698.2 110.9,697.2 111.9,696.8 112.9,696.5 113.9,695.4 114.8,694.6 115.8,694.2 116.8,693.5 117.8,693.5 118.7,692.8 119.7,691.7 120.7,691.7 121.7,690.8 122.6,689.6 123.6,689.1 124.6,688.9 125.6,688.1 126.5,687.2 127.5,686.3 128.5,685.4 129.5,685 130.4,684.3 131.4,683.7 132.4,683.5 133.4,682.6 134.3,681.6 135.3,681.1 136.3,680.8 137.3,680 138.2,679.7 139.2,678.9 140.2,677.6 141.2,677.4 142.1,676.7 143.1,675.8 144.1,674.9 145.1,674.4 146.1,674 147,672.6 148,671.4 149,671.3 150,670.9 150.9,669.5 151.9,668.8 152.9,667.8 153.9,667.1 154.8,666.4 155.8,665.5 156.8,664.3 157.8,663.1 158.7,662.5 159.7,662 160.7,660.5 161.7,659 162.6,658.3 163.6,657.2 164.6,656.3 165.6,655.6 166.5,654.8 167.5,653.8 168.5,652.2 169.5,651.3 170.4,650.6 171.4,649.3" fill="none" stroke="#3266ad" stroke-width="14" opacity="0.5" filter="url(#gl1)" stroke-linejoin="round" transform="translate(0 -0.0)"/>
<polyline points="84.6,713 85.6,712.3 86.6,712.3 87.5,712 88.5,712.1 89.5,711.9 90.5,711.1 91.4,709.6 92.4,708.7 93.4,708.9 94.4,708.4 95.3,707.8 96.3,707.3 97.3,706.6 98.3,705.6 99.2,704.9 100.2,704.1 101.2,703.4 102.2,703 103.1,702 104.1,701.2 105.1,701.1 106.1,700.7 107,699.8 108,698.7 109,698.3 110,698.2 110.9,697.2 111.9,696.8 112.9,696.5 113.9,695.4 114.8,694.6 115.8,694.2 116.8,693.5 117.8,693.5 118.7,692.8 119.7,691.7 120.7,691.7 121.7,690.8 122.6,689.6 123.6,689.1 124.6,688.9 125.6,688.1 126.5,687.2 127.5,686.3 128.5,685.4 129.5,685 130.4,684.3 131.4,683.7 132.4,683.5 133.4,682.6 134.3,681.6 135.3,681.1 136.3,680.8 137.3,680 138.2,679.7 139.2,678.9 140.2,677.6 141.2,677.4 142.1,676.7 143.1,675.8 144.1,674.9 145.1,674.4 146.1,674 147,672.6 148,671.4 149,671.3 150,670.9 150.9,669.5 151.9,668.8 152.9,667.8 153.9,667.1 154.8,666.4 155.8,665.5 156.8,664.3 157.8,663.1 158.7,662.5 159.7,662 160.7,660.5 161.7,659 162.6,658.3 163.6,657.2 164.6,656.3 165.6,655.6 166.5,654.8 167.5,653.8 168.5,652.2 169.5,651.3 170.4,650.6 171.4,649.3" fill="none" stroke="#2f93b3" stroke-width="4.2" opacity="0.7" filter="url(#gl2)" stroke-linejoin="round"/>
<polyline points="84.6,713 85.6,712.3 86.6,712.3 87.5,712 88.5,712.1 89.5,711.9 90.5,711.1 91.4,709.6 92.4,708.7 93.4,708.9 94.4,708.4 95.3,707.8 96.3,707.3 97.3,706.6 98.3,705.6 99.2,704.9 100.2,704.1 101.2,703.4 102.2,703 103.1,702 104.1,701.2 105.1,701.1 106.1,700.7 107,699.8 108,698.7 109,698.3 110,698.2 110.9,697.2 111.9,696.8 112.9,696.5 113.9,695.4 114.8,694.6 115.8,694.2 116.8,693.5 117.8,693.5 118.7,692.8 119.7,691.7 120.7,691.7 121.7,690.8 122.6,689.6 123.6,689.1 124.6,688.9 125.6,688.1 126.5,687.2 127.5,686.3 128.5,685.4 129.5,685 130.4,684.3 131.4,683.7 132.4,683.5 133.4,682.6 134.3,681.6 135.3,681.1 136.3,680.8 137.3,680 138.2,679.7 139.2,678.9 140.2,677.6 141.2,677.4 142.1,676.7 143.1,675.8 144.1,674.9 145.1,674.4 146.1,674 147,672.6 148,671.4 149,671.3 150,670.9 150.9,669.5 151.9,668.8 152.9,667.8 153.9,667.1 154.8,666.4 155.8,665.5 156.8,664.3 157.8,663.1 158.7,662.5 159.7,662 160.7,660.5 161.7,659 162.6,658.3 163.6,657.2 164.6,656.3 165.6,655.6 166.5,654.8 167.5,653.8 168.5,652.2 169.5,651.3 170.4,650.6 171.4,649.3" fill="none" stroke="#41b6b3" stroke-width="1.25" stroke-linejoin="round" filter="url(#gl0)"/>
<polyline points="171.4,635.1 173.2,634 175,632.9 176.7,632.3 178.5,631.9 180.3,631.4 182,630.9 183.8,630.4 185.6,630.2 187.4,630 189.1,629.8 190.9,629.6 192.7,629.3 194.4,629.1 196.2,628.9 198,628.8 199.8,628.7 201.5,628.6 203.3,628.5 205.1,628.5 206.8,628.4 208.6,628.3 210.4,628.2 212.2,628.1 213.9,628.1 215.7,628 217.5,628 219.2,627.9 221,627.9 222.8,627.8 224.6,627.8 226.3,627.7 228.1,627.7 229.9,627.6 231.6,627.6 233.4,627.5 235.2,627.5 237,627.4 238.7,627.3 240.5,627.3 242.3,627.2 244.1,627.1 245.8,627 247.6,627 249.4,626.9 251.1,626.8 252.9,626.7 254.7,626.7 256.5,626.6 258.2,626.5" fill="none" stroke="#4f7fb5" stroke-width="3.5" opacity="0.45" filter="url(#gl2)"/>
<polyline points="171.4,635.1 173.2,634 175,632.9 176.7,632.3 178.5,631.9 180.3,631.4 182,630.9 183.8,630.4 185.6,630.2 187.4,630 189.1,629.8 190.9,629.6 192.7,629.3 194.4,629.1 196.2,628.9 198,628.8 199.8,628.7 201.5,628.6 203.3,628.5 205.1,628.5 206.8,628.4 208.6,628.3 210.4,628.2 212.2,628.1 213.9,628.1 215.7,628 217.5,628 219.2,627.9 221,627.9 222.8,627.8 224.6,627.8 226.3,627.7 228.1,627.7 229.9,627.6 231.6,627.6 233.4,627.5 235.2,627.5 237,627.4 238.7,627.3 240.5,627.3 242.3,627.2 244.1,627.1 245.8,627 247.6,627 249.4,626.9 251.1,626.8 252.9,626.7 254.7,626.7 256.5,626.6 258.2,626.5" fill="none" stroke="#84b2c8" stroke-width="1.2" stroke-linejoin="round" filter="url(#gl0)" opacity="0.9"/>
<polyline points="258.2,626.9 259,625.4 259.9,624.4 260.7,623.8 261.5,623.2 262.3,622.2 263.1,621.2 264,620.1 264.8,619.2 265.6,618.4 266.4,617.3 267.2,616.3 268.1,615.3 268.9,613.9 269.7,612.8 270.5,612.1 271.3,612 272.2,611.5 273,610.2 273.8,609.1 274.6,608.6 275.4,607.6 276.3,606 277.1,605.7 277.9,605.3 278.7,604.4 279.5,603.3 280.4,602.1 281.2,600.8 282,600.2 282.8,599.6 283.7,598.8 284.5,597.9 285.3,597.2 286.1,596.7 286.9,596.5 287.8,596.2 288.6,595.5 289.4,594.5 290.2,593.6 291,593.4 291.9,593 292.7,592.2 293.5,591.6 294.3,591.4 295.1,590.6 296,589.3 296.8,588.9 297.6,589 298.4,588.6 299.2,588.3 300.1,587.3 300.9,586.3 301.7,585.9 302.5,585.4 303.3,584.8 304.2,584.6 305,585.6 305.8,586.4 306.6,586.7 307.4,587.4 308.3,588.2 309.1,588.9 309.9,589.5 310.7,589.8 311.5,590.5 312.4,591.4 313.2,591.8 314,592.3 314.8,592.8 315.6,594 316.5,594.9 317.3,595.2 318.1,596 318.9,596.4 319.7,596.9 320.6,597.5 321.4,598.4 322.2,598.9 323,599.8 323.8,600.9 324.7,601.4 325.5,602.2 326.3,602.7 327.1,603.1 327.9,603.8 328.8,604.8 329.6,606.1 330.4,606.8 331.2,607.3 332,608.3 332.9,609.2 333.7,609.8 334.5,610.4 335.3,611.3 336.1,612.3 337,613.1 337.8,614.3 338.6,615.2 339.4,616 340.2,616.5 341.1,616.6 341.9,617.2 342.7,617.9 343.5,618.2 344.3,618.9 345.2,620 346,621.1 346.8,622.5 347.6,623.2" fill="none" stroke="#3266ad" stroke-width="14" opacity="0.5" filter="url(#gl1)" stroke-linejoin="round" transform="translate(0 -0.0)"/>
<polyline points="258.2,626.9 259,625.4 259.9,624.4 260.7,623.8 261.5,623.2 262.3,622.2 263.1,621.2 264,620.1 264.8,619.2 265.6,618.4 266.4,617.3 267.2,616.3 268.1,615.3 268.9,613.9 269.7,612.8 270.5,612.1 271.3,612 272.2,611.5 273,610.2 273.8,609.1 274.6,608.6 275.4,607.6 276.3,606 277.1,605.7 277.9,605.3 278.7,604.4 279.5,603.3 280.4,602.1 281.2,600.8 282,600.2 282.8,599.6 283.7,598.8 284.5,597.9 285.3,597.2 286.1,596.7 286.9,596.5 287.8,596.2 288.6,595.5 289.4,594.5 290.2,593.6 291,593.4 291.9,593 292.7,592.2 293.5,591.6 294.3,591.4 295.1,590.6 296,589.3 296.8,588.9 297.6,589 298.4,588.6 299.2,588.3 300.1,587.3 300.9,586.3 301.7,585.9 302.5,585.4 303.3,584.8 304.2,584.6 305,585.6 305.8,586.4 306.6,586.7 307.4,587.4 308.3,588.2 309.1,588.9 309.9,589.5 310.7,589.8 311.5,590.5 312.4,591.4 313.2,591.8 314,592.3 314.8,592.8 315.6,594 316.5,594.9 317.3,595.2 318.1,596 318.9,596.4 319.7,596.9 320.6,597.5 321.4,598.4 322.2,598.9 323,599.8 323.8,600.9 324.7,601.4 325.5,602.2 326.3,602.7 327.1,603.1 327.9,603.8 328.8,604.8 329.6,606.1 330.4,606.8 331.2,607.3 332,608.3 332.9,609.2 333.7,609.8 334.5,610.4 335.3,611.3 336.1,612.3 337,613.1 337.8,614.3 338.6,615.2 339.4,616 340.2,616.5 341.1,616.6 341.9,617.2 342.7,617.9 343.5,618.2 344.3,618.9 345.2,620 346,621.1 346.8,622.5 347.6,623.2" fill="none" stroke="#2f93b3" stroke-width="4.2" opacity="0.7" filter="url(#gl2)" stroke-linejoin="round"/>
<polyline points="258.2,626.9 259,625.4 259.9,624.4 260.7,623.8 261.5,623.2 262.3,622.2 263.1,621.2 264,620.1 264.8,619.2 265.6,618.4 266.4,617.3 267.2,616.3 268.1,615.3 268.9,613.9 269.7,612.8 270.5,612.1 271.3,612 272.2,611.5 273,610.2 273.8,609.1 274.6,608.6 275.4,607.6 276.3,606 277.1,605.7 277.9,605.3 278.7,604.4 279.5,603.3 280.4,602.1 281.2,600.8 282,600.2 282.8,599.6 283.7,598.8 284.5,597.9 285.3,597.2 286.1,596.7 286.9,596.5 287.8,596.2 288.6,595.5 289.4,594.5 290.2,593.6 291,593.4 291.9,593 292.7,592.2 293.5,591.6 294.3,591.4 295.1,590.6 296,589.3 296.8,588.9 297.6,589 298.4,588.6 299.2,588.3 300.1,587.3 300.9,586.3 301.7,585.9 302.5,585.4 303.3,584.8 304.2,584.6 305,585.6 305.8,586.4 306.6,586.7 307.4,587.4 308.3,588.2 309.1,588.9 309.9,589.5 310.7,589.8 311.5,590.5 312.4,591.4 313.2,591.8 314,592.3 314.8,592.8 315.6,594 316.5,594.9 317.3,595.2 318.1,596 318.9,596.4 319.7,596.9 320.6,597.5 321.4,598.4 322.2,598.9 323,599.8 323.8,600.9 324.7,601.4 325.5,602.2 326.3,602.7 327.1,603.1 327.9,603.8 328.8,604.8 329.6,606.1 330.4,606.8 331.2,607.3 332,608.3 332.9,609.2 333.7,609.8 334.5,610.4 335.3,611.3 336.1,612.3 337,613.1 337.8,614.3 338.6,615.2 339.4,616 340.2,616.5 341.1,616.6 341.9,617.2 342.7,617.9 343.5,618.2 344.3,618.9 345.2,620 346,621.1 346.8,622.5 347.6,623.2" fill="none" stroke="#41b6b3" stroke-width="1.25" stroke-linejoin="round" filter="url(#gl0)"/>
<polyline points="347.6,623.8 349.5,624.5 351.4,625.3 353.3,625.8 355.2,626 357.1,626.2 358.9,626.4 360.8,626.6 362.7,626.8 364.6,627 366.5,627.1 368.4,627.3 370.3,627.5 372.1,627.7 374,627.8 375.9,628 377.8,628.1 379.7,628.3 381.6,628.4 383.5,628.6 385.4,628.7 387.2,628.9 389.1,629 391,629.2 392.9,629.4 394.8,629.5 396.7,629.7 398.6,629.9 400.4,630 402.3,630.2 404.2,630.4 406.1,630.6 408,630.9 409.9,631.2 411.8,631.4 413.6,631.7 415.5,631.9 417.4,632.2 419.3,632.4 421.2,632.7 423.1,633 425,633.3 426.8,633.7 428.7,634 430.6,634.3 432.5,634.6 434.4,635.3 436.3,636 438.2,636.7 440.1,637.4" fill="none" stroke="#4f7fb5" stroke-width="3.5" opacity="0.45" filter="url(#gl2)"/>
<polyline points="347.6,623.8 349.5,624.5 351.4,625.3 353.3,625.8 355.2,626 357.1,626.2 358.9,626.4 360.8,626.6 362.7,626.8 364.6,627 366.5,627.1 368.4,627.3 370.3,627.5 372.1,627.7 374,627.8 375.9,628 377.8,628.1 379.7,628.3 381.6,628.4 383.5,628.6 385.4,628.7 387.2,628.9 389.1,629 391,629.2 392.9,629.4 394.8,629.5 396.7,629.7 398.6,629.9 400.4,630 402.3,630.2 404.2,630.4 406.1,630.6 408,630.9 409.9,631.2 411.8,631.4 413.6,631.7 415.5,631.9 417.4,632.2 419.3,632.4 421.2,632.7 423.1,633 425,633.3 426.8,633.7 428.7,634 430.6,634.3 432.5,634.6 434.4,635.3 436.3,636 438.2,636.7 440.1,637.4" fill="none" stroke="#84b2c8" stroke-width="1.2" stroke-linejoin="round" filter="url(#gl0)" opacity="0.9"/>
<polyline points="440.1,654.3 440.9,656.1 441.8,657.4 442.7,658.8 443.6,660.3 444.4,661.3 445.3,662.1 446.2,663.1 447.1,664.1 448,665 448.8,666.2 449.7,667.1 450.6,667.7 451.5,668.3 452.4,668.4 453.2,669.8 454.1,670.8 455,671 455.9,672 456.7,672.5 457.6,673 458.5,674.2 459.4,674.9 460.3,675.1 461.1,675.6 462,676.5 462.9,676.9 463.8,677 464.6,678 465.5,678.9 466.4,679.2 467.3,679.7 468.2,679.8 469,680.2 469.9,681.4 470.8,682.2 471.7,682.5 472.6,682.3 473.4,682.9 474.3,684 475.2,684.4 476.1,685 476.9,685.1 477.8,685.7 478.7,686.7 479.6,687 480.5,687.6 481.3,688.5 482.2,688.8 483.1,689 484,690 484.8,690.7 485.7,691.4 486.6,691.6 487.5,691.7 488.4,692.2 489.2,692.6 490.1,693.2 491,694 491.9,694.5 492.8,694.9 493.6,695.6 494.5,696.1 495.4,696.4 496.3,697.1 497.1,698 498,698.5 498.9,698.5 499.8,699.3 500.7,700.4 501.5,701 502.4,701.2 503.3,702.2 504.2,703 505.1,702.8 505.9,703.7 506.8,704.2 507.7,704.5 508.6,705.6 509.4,706.2 510.3,707.1 511.2,707.8 512.1,707.6 513,708.3 513.8,708.9 514.7,709.3 515.6,710.1 516.5,710.6 517.3,712 518.2,712.8" fill="none" stroke="#3266ad" stroke-width="14" opacity="0.5" filter="url(#gl1)" stroke-linejoin="round" transform="translate(0 -0.0)"/>
<polyline points="440.1,654.3 440.9,656.1 441.8,657.4 442.7,658.8 443.6,660.3 444.4,661.3 445.3,662.1 446.2,663.1 447.1,664.1 448,665 448.8,666.2 449.7,667.1 450.6,667.7 451.5,668.3 452.4,668.4 453.2,669.8 454.1,670.8 455,671 455.9,672 456.7,672.5 457.6,673 458.5,674.2 459.4,674.9 460.3,675.1 461.1,675.6 462,676.5 462.9,676.9 463.8,677 464.6,678 465.5,678.9 466.4,679.2 467.3,679.7 468.2,679.8 469,680.2 469.9,681.4 470.8,682.2 471.7,682.5 472.6,682.3 473.4,682.9 474.3,684 475.2,684.4 476.1,685 476.9,685.1 477.8,685.7 478.7,686.7 479.6,687 480.5,687.6 481.3,688.5 482.2,688.8 483.1,689 484,690 484.8,690.7 485.7,691.4 486.6,691.6 487.5,691.7 488.4,692.2 489.2,692.6 490.1,693.2 491,694 491.9,694.5 492.8,694.9 493.6,695.6 494.5,696.1 495.4,696.4 496.3,697.1 497.1,698 498,698.5 498.9,698.5 499.8,699.3 500.7,700.4 501.5,701 502.4,701.2 503.3,702.2 504.2,703 505.1,702.8 505.9,703.7 506.8,704.2 507.7,704.5 508.6,705.6 509.4,706.2 510.3,707.1 511.2,707.8 512.1,707.6 513,708.3 513.8,708.9 514.7,709.3 515.6,710.1 516.5,710.6 517.3,712 518.2,712.8" fill="none" stroke="#2f93b3" stroke-width="4.2" opacity="0.7" filter="url(#gl2)" stroke-linejoin="round"/>
<polyline points="440.1,654.3 440.9,656.1 441.8,657.4 442.7,658.8 443.6,660.3 444.4,661.3 445.3,662.1 446.2,663.1 447.1,664.1 448,665 448.8,666.2 449.7,667.1 450.6,667.7 451.5,668.3 452.4,668.4 453.2,669.8 454.1,670.8 455,671 455.9,672 456.7,672.5 457.6,673 458.5,674.2 459.4,674.9 460.3,675.1 461.1,675.6 462,676.5 462.9,676.9 463.8,677 464.6,678 465.5,678.9 466.4,679.2 467.3,679.7 468.2,679.8 469,680.2 469.9,681.4 470.8,682.2 471.7,682.5 472.6,682.3 473.4,682.9 474.3,684 475.2,684.4 476.1,685 476.9,685.1 477.8,685.7 478.7,686.7 479.6,687 480.5,687.6 481.3,688.5 482.2,688.8 483.1,689 484,690 484.8,690.7 485.7,691.4 486.6,691.6 487.5,691.7 488.4,692.2 489.2,692.6 490.1,693.2 491,694 491.9,694.5 492.8,694.9 493.6,695.6 494.5,696.1 495.4,696.4 496.3,697.1 497.1,698 498,698.5 498.9,698.5 499.8,699.3 500.7,700.4 501.5,701 502.4,701.2 503.3,702.2 504.2,703 505.1,702.8 505.9,703.7 506.8,704.2 507.7,704.5 508.6,705.6 509.4,706.2 510.3,707.1 511.2,707.8 512.1,707.6 513,708.3 513.8,708.9 514.7,709.3 515.6,710.1 516.5,710.6 517.3,712 518.2,712.8" fill="none" stroke="#41b6b3" stroke-width="1.25" stroke-linejoin="round" filter="url(#gl0)"/>
</g>
<line x1="170.9" y1="576.2" x2="170.9" y2="711.3" stroke="#e3bdf3" stroke-width="1.9" stroke-dasharray="9.7 4.9" stroke-dashoffset="0"/>
<line x1="257.4" y1="576.2" x2="257.4" y2="711.3" stroke="#e3bdf3" stroke-width="1.9" stroke-dasharray="9.7 4.9" stroke-dashoffset="0"/>
<line x1="347.9" y1="576.2" x2="347.9" y2="711.3" stroke="#e3bdf3" stroke-width="1.9" stroke-dasharray="9.7 4.9" stroke-dashoffset="0"/>
<line x1="438.8" y1="576.2" x2="438.8" y2="711.3" stroke="#e3bdf3" stroke-width="1.9" stroke-dasharray="9.7 4.9" stroke-dashoffset="0"/>
<rect x="84.6" y="575.2" width="431.9" height="136.1" fill="none" stroke="#141414" stroke-width="1.2" rx="0" />
<line x1="80.4" y1="711.3" x2="84.6" y2="711.3" stroke="#1d1d1b" stroke-width="1.35" />
<text x="72.3" y="717.2" font-size="16" text-anchor="end" fill="#1d1d1b" textLength="8.9" lengthAdjust="spacingAndGlyphs" >0</text>
<line x1="80.4" y1="672.4" x2="84.6" y2="672.4" stroke="#1d1d1b" stroke-width="1.35" />
<text x="72.3" y="678.3" font-size="16" text-anchor="end" fill="#1d1d1b" textLength="8.9" lengthAdjust="spacingAndGlyphs" >1</text>
<line x1="80.4" y1="633.5" x2="84.6" y2="633.5" stroke="#1d1d1b" stroke-width="1.35" />
<text x="72.3" y="639.4" font-size="16" text-anchor="end" fill="#1d1d1b" textLength="8.9" lengthAdjust="spacingAndGlyphs" >2</text>
<line x1="80.4" y1="594.6" x2="84.6" y2="594.6" stroke="#1d1d1b" stroke-width="1.35" />
<text x="72.3" y="600.5" font-size="16" text-anchor="end" fill="#1d1d1b" textLength="8.9" lengthAdjust="spacingAndGlyphs" >3</text>
<line x1="84.6" y1="711.3" x2="84.6" y2="715.5" stroke="#1d1d1b" stroke-width="1.35" />
<text x="83.3" y="732.9" font-size="16" text-anchor="middle" fill="#1d1d1b" textLength="8.9" lengthAdjust="spacingAndGlyphs" >0</text>
<line x1="171" y1="711.3" x2="171" y2="715.5" stroke="#1d1d1b" stroke-width="1.35" />
<text x="169.7" y="732.9" font-size="16" text-anchor="middle" fill="#1d1d1b" textLength="17.8" lengthAdjust="spacingAndGlyphs" >10</text>
<line x1="257.4" y1="711.3" x2="257.4" y2="715.5" stroke="#1d1d1b" stroke-width="1.35" />
<text x="256.1" y="732.9" font-size="16" text-anchor="middle" fill="#1d1d1b" textLength="17.8" lengthAdjust="spacingAndGlyphs" >20</text>
<line x1="343.7" y1="711.3" x2="343.7" y2="715.5" stroke="#1d1d1b" stroke-width="1.35" />
<text x="342.4" y="732.9" font-size="16" text-anchor="middle" fill="#1d1d1b" textLength="17.8" lengthAdjust="spacingAndGlyphs" >30</text>
<line x1="430.1" y1="711.3" x2="430.1" y2="715.5" stroke="#1d1d1b" stroke-width="1.35" />
<text x="428.8" y="732.9" font-size="16" text-anchor="middle" fill="#1d1d1b" textLength="17.8" lengthAdjust="spacingAndGlyphs" >40</text>
<line x1="516.5" y1="711.3" x2="516.5" y2="715.5" stroke="#1d1d1b" stroke-width="1.35" />
<text x="515.2" y="732.9" font-size="16" text-anchor="middle" fill="#1d1d1b" textLength="17.8" lengthAdjust="spacingAndGlyphs" >50</text>
<text x="299.2" y="748.2" font-size="16" text-anchor="middle" fill="#1d1d1b" textLength="57" lengthAdjust="spacingAndGlyphs" >Time (s)</text>
<text transform="translate(22 647.5) rotate(-90)" font-size="16" text-anchor="middle" fill="#1d1d1b" textLength="116" lengthAdjust="spacingAndGlyphs" >Laser frequency</text>
<text transform="translate(41 645.5) rotate(-90)" font-size="16" text-anchor="middle" fill="#1d1d1b" textLength="98" lengthAdjust="spacingAndGlyphs" >change (GHz)</text>
<text x="0.6" y="472.2" font-size="21.3" text-anchor="start" fill="#050505" font-weight="bold" textLength="7.7" lengthAdjust="spacingAndGlyphs" stroke="#050505" stroke-width="0.45">f</text>
</g>
<g>
<rect x="666.9" y="486.2" width="124.3" height="67.5" fill="#b7d4e8" stroke="none" stroke-width="1" rx="0" />
<rect x="838" y="486.2" width="137.5" height="67.5" fill="#b7d4e8" stroke="none" stroke-width="1" rx="0" />
<polyline points="605.8,546 821.3,494.2 1038.3,546" fill="none" stroke="#2876ab" stroke-width="3.1" stroke-linejoin="round" />
<line x1="605.8" y1="486.3" x2="605.8" y2="554.7" stroke="#1d1d1b" stroke-width="1.35" />
<line x1="605.3" y1="554.2" x2="1038.8" y2="554.2" stroke="#1d1d1b" stroke-width="1.35" />
<line x1="601.6" y1="486.8" x2="605.8" y2="486.8" stroke="#1d1d1b" stroke-width="1.35" />
<text x="594.7" y="492.7" font-size="16" text-anchor="end" fill="#1d1d1b" textLength="17.8" lengthAdjust="spacingAndGlyphs" >50</text>
<line x1="601.6" y1="520.5" x2="605.8" y2="520.5" stroke="#1d1d1b" stroke-width="1.35" />
<text x="594.7" y="526.4" font-size="16" text-anchor="end" fill="#1d1d1b" textLength="8.9" lengthAdjust="spacingAndGlyphs" >0</text>
<line x1="601.6" y1="554.2" x2="605.8" y2="554.2" stroke="#1d1d1b" stroke-width="1.35" />
<text x="594.7" y="560.1" font-size="16" text-anchor="end" fill="#1d1d1b" textLength="27.1" lengthAdjust="spacingAndGlyphs" >−50</text>
<line x1="605.8" y1="554.2" x2="605.8" y2="558.2" stroke="#1d1d1b" stroke-width="1.35" />
<line x1="692.3" y1="554.2" x2="692.3" y2="558.2" stroke="#1d1d1b" stroke-width="1.35" />
<line x1="778.8" y1="554.2" x2="778.8" y2="558.2" stroke="#1d1d1b" stroke-width="1.35" />
<line x1="865.3" y1="554.2" x2="865.3" y2="558.2" stroke="#1d1d1b" stroke-width="1.35" />
<line x1="951.8" y1="554.2" x2="951.8" y2="558.2" stroke="#1d1d1b" stroke-width="1.35" />
<line x1="1038.3" y1="554.2" x2="1038.3" y2="558.2" stroke="#1d1d1b" stroke-width="1.35" />
<text x="750.5" y="534.2" font-size="16" text-anchor="start" fill="#1d1d1b" textLength="148.5" lengthAdjust="spacingAndGlyphs" >Self-injection locked</text>
<line x1="745.3" y1="544" x2="907.9" y2="544" stroke="#111" stroke-width="1.3" />
<polygon points="740.3,544 748.9,540.5 747.2,544 748.9,547.5" fill="#111"/>
<polygon points="912.9,544 904.3,547.5 906,544 904.3,540.5" fill="#111"/>
<text transform="translate(544.4 520.7) rotate(-90)" font-size="16" text-anchor="middle" fill="#1d1d1b" textLength="69.5" lengthAdjust="spacingAndGlyphs" >Electrode</text>
<text transform="translate(564.6 519.8) rotate(-90)" font-size="16" text-anchor="middle" fill="#1d1d1b" textLength="75" lengthAdjust="spacingAndGlyphs" >voltage (V)</text>
<clipPath id="cg"><rect x="605.8" y="575.2" width="432.5" height="136.0999999999999"/></clipPath>
<rect x="605.8" y="575.2" width="432.5" height="136.1" fill="#472274" stroke="none" stroke-width="1" rx="0" />
<g clip-path="url(#cg)">
<ellipse cx="634" cy="610" rx="40" ry="17" fill="#3b58a6" opacity="0.45" filter="url(#gl3)"/>
<ellipse cx="1010" cy="610" rx="38" ry="17" fill="#3b58a6" opacity="0.45" filter="url(#gl3)"/>
<ellipse cx="814" cy="598" rx="28" ry="11" fill="#3b58a6" opacity="0.35" filter="url(#gl3)"/>
<polyline points="605.8,617.7 606.4,618.9 606.9,617.6 607.5,617.4 608.1,618.4 608.6,617.9 609.2,618.1 609.8,618.5 610.3,618.8 610.9,619.5 611.5,617.7 612,618.6 612.6,617.2 613.2,618.2 613.7,618.6 614.3,619.1 614.9,618 615.4,619.1 616,618 616.6,619.2 617.1,618.9 617.7,619.9 618.3,617.8 618.9,619.1 619.4,619.3 620,618.7 620.6,619.7 621.1,618.8 621.7,619.9 622.3,619 622.8,620 623.4,620.4 624,619.8 624.5,620.3 625.1,619.2 625.7,619.6 626.2,619.3 626.8,619.6 627.4,619.9 627.9,619.7 628.5,619.2 629.1,619.9 629.6,620.3 630.2,620.4 630.8,620 631.3,620.4 631.9,619 632.5,620.7 633,620.7 633.6,620.3 634.2,619.8 634.7,620.4 635.3,620.8 635.9,620.7 636.4,620.5 637,619.8 637.6,620.9 638.1,620.5 638.7,620.8 639.3,620.3 639.8,620.3 640.4,621.4 641,619.9 641.5,621.7 642.1,622.7 642.7,623.5 643.2,623.7 643.8,624.2 644.4,624.4 645,625.4 645.5,625.7 646.1,626.8 646.7,626.1 647.2,626 647.8,625.2 648.4,624.8 648.9,625.7 649.5,624.8 650.1,624.1 650.6,623.8 651.2,625.2 651.8,624.7 652.3,625.3 652.9,626.1 653.5,625.2 654,627.4 654.6,627.4 655.2,627.4 655.7,628 656.3,628.7 656.9,628.3 657.4,628.7 658,629.3 658.6,629.6 659.1,630.6 659.7,631.5 660.3,630 660.8,632.1 661.4,630.7 662,632.3 662.5,632.4 663.1,633 663.7,632.7 664.2,634.5 664.8,634.2 665.4,636 665.9,637.3 666.5,638.8 667.1,639.3 667.6,640.6" fill="none" stroke="#3a5aa8" stroke-width="14" opacity="0.7" filter="url(#gl1)" stroke-linejoin="round" transform="translate(0 -1.0)"/>
<polyline points="605.8,617.7 606.4,618.9 606.9,617.6 607.5,617.4 608.1,618.4 608.6,617.9 609.2,618.1 609.8,618.5 610.3,618.8 610.9,619.5 611.5,617.7 612,618.6 612.6,617.2 613.2,618.2 613.7,618.6 614.3,619.1 614.9,618 615.4,619.1 616,618 616.6,619.2 617.1,618.9 617.7,619.9 618.3,617.8 618.9,619.1 619.4,619.3 620,618.7 620.6,619.7 621.1,618.8 621.7,619.9 622.3,619 622.8,620 623.4,620.4 624,619.8 624.5,620.3 625.1,619.2 625.7,619.6 626.2,619.3 626.8,619.6 627.4,619.9 627.9,619.7 628.5,619.2 629.1,619.9 629.6,620.3 630.2,620.4 630.8,620 631.3,620.4 631.9,619 632.5,620.7 633,620.7 633.6,620.3 634.2,619.8 634.7,620.4 635.3,620.8 635.9,620.7 636.4,620.5 637,619.8 637.6,620.9 638.1,620.5 638.7,620.8 639.3,620.3 639.8,620.3 640.4,621.4 641,619.9 641.5,621.7 642.1,622.7 642.7,623.5 643.2,623.7 643.8,624.2 644.4,624.4 645,625.4 645.5,625.7 646.1,626.8 646.7,626.1 647.2,626 647.8,625.2 648.4,624.8 648.9,625.7 649.5,624.8 650.1,624.1 650.6,623.8 651.2,625.2 651.8,624.7 652.3,625.3 652.9,626.1 653.5,625.2 654,627.4 654.6,627.4 655.2,627.4 655.7,628 656.3,628.7 656.9,628.3 657.4,628.7 658,629.3 658.6,629.6 659.1,630.6 659.7,631.5 660.3,630 660.8,632.1 661.4,630.7 662,632.3 662.5,632.4 663.1,633 663.7,632.7 664.2,634.5 664.8,634.2 665.4,636 665.9,637.3 666.5,638.8 667.1,639.3 667.6,640.6" fill="none" stroke="#2f93b3" stroke-width="4.2" opacity="0.8999999999999999" filter="url(#gl2)" stroke-linejoin="round"/>
<polyline points="605.8,617.7 606.4,618.9 606.9,617.6 607.5,617.4 608.1,618.4 608.6,617.9 609.2,618.1 609.8,618.5 610.3,618.8 610.9,619.5 611.5,617.7 612,618.6 612.6,617.2 613.2,618.2 613.7,618.6 614.3,619.1 614.9,618 615.4,619.1 616,618 616.6,619.2 617.1,618.9 617.7,619.9 618.3,617.8 618.9,619.1 619.4,619.3 620,618.7 620.6,619.7 621.1,618.8 621.7,619.9 622.3,619 622.8,620 623.4,620.4 624,619.8 624.5,620.3 625.1,619.2 625.7,619.6 626.2,619.3 626.8,619.6 627.4,619.9 627.9,619.7 628.5,619.2 629.1,619.9 629.6,620.3 630.2,620.4 630.8,620 631.3,620.4 631.9,619 632.5,620.7 633,620.7 633.6,620.3 634.2,619.8 634.7,620.4 635.3,620.8 635.9,620.7 636.4,620.5 637,619.8 637.6,620.9 638.1,620.5 638.7,620.8 639.3,620.3 639.8,620.3 640.4,621.4 641,619.9 641.5,621.7 642.1,622.7 642.7,623.5 643.2,623.7 643.8,624.2 644.4,624.4 645,625.4 645.5,625.7 646.1,626.8 646.7,626.1 647.2,626 647.8,625.2 648.4,624.8 648.9,625.7 649.5,624.8 650.1,624.1 650.6,623.8 651.2,625.2 651.8,624.7 652.3,625.3 652.9,626.1 653.5,625.2 654,627.4 654.6,627.4 655.2,627.4 655.7,628 656.3,628.7 656.9,628.3 657.4,628.7 658,629.3 658.6,629.6 659.1,630.6 659.7,631.5 660.3,630 660.8,632.1 661.4,630.7 662,632.3 662.5,632.4 663.1,633 663.7,632.7 664.2,634.5 664.8,634.2 665.4,636 665.9,637.3 666.5,638.8 667.1,639.3 667.6,640.6" fill="none" stroke="#58d690" stroke-width="1.15" stroke-linejoin="round" filter="url(#gl0)"/>
<polyline points="668.1,686.8 669.5,683.6 670.8,680.3 672.2,677.5 673.6,675.1 674.9,672.7 676.3,670.3 677.7,668.6 679,667.2 680.4,665.7 681.8,664.3 683.2,662.8 684.5,661.6 685.9,660.6 687.3,659.5 688.6,658.4 690,657.3 691.4,656.2 692.7,655.3 694.1,654.5 695.5,653.7 696.9,652.9 698.2,652.1 699.6,651.3 701,650.5 702.3,649.8 703.7,649.1 705.1,648.4 706.5,647.6 707.8,646.9 709.2,646.2 710.6,645.5 711.9,644.9 713.3,644.2 714.7,643.5 716,642.8 717.4,642.2 718.8,641.5 720.2,640.8 721.5,640.2 722.9,639.5 724.3,638.9 725.6,638.3 727,637.6 728.4,637 729.7,636.4 731.1,635.8 732.5,635.1 733.9,634.5 735.2,633.9 736.6,633.3 738,632.7 739.3,632 740.7,631.4 742.1,630.8 743.5,630.2 744.8,629.5 746.2,628.9 747.6,628.3 748.9,627.6 750.3,626.9 751.7,626.2 753,625.5 754.4,624.8 755.8,624 757.2,623.3 758.5,622.6 759.9,621.9 761.3,621.2 762.6,620.3 764,619.5 765.4,618.6 766.7,617.8 768.1,616.9 769.5,616 770.9,615.1 772.2,614 773.6,612.9 775,611.8 776.3,610.7 777.7,609.7 779.1,608.6 780.5,607.3 781.8,606 783.2,604.8 784.6,603.5 785.9,602.2 787.3,600.5 788.7,598.7 790,597" fill="none" stroke="#4f7fb5" stroke-width="3.5" opacity="0.45" filter="url(#gl2)"/>
<polyline points="668.1,686.8 669.5,683.6 670.8,680.3 672.2,677.5 673.6,675.1 674.9,672.7 676.3,670.3 677.7,668.6 679,667.2 680.4,665.7 681.8,664.3 683.2,662.8 684.5,661.6 685.9,660.6 687.3,659.5 688.6,658.4 690,657.3 691.4,656.2 692.7,655.3 694.1,654.5 695.5,653.7 696.9,652.9 698.2,652.1 699.6,651.3 701,650.5 702.3,649.8 703.7,649.1 705.1,648.4 706.5,647.6 707.8,646.9 709.2,646.2 710.6,645.5 711.9,644.9 713.3,644.2 714.7,643.5 716,642.8 717.4,642.2 718.8,641.5 720.2,640.8 721.5,640.2 722.9,639.5 724.3,638.9 725.6,638.3 727,637.6 728.4,637 729.7,636.4 731.1,635.8 732.5,635.1 733.9,634.5 735.2,633.9 736.6,633.3 738,632.7 739.3,632 740.7,631.4 742.1,630.8 743.5,630.2 744.8,629.5 746.2,628.9 747.6,628.3 748.9,627.6 750.3,626.9 751.7,626.2 753,625.5 754.4,624.8 755.8,624 757.2,623.3 758.5,622.6 759.9,621.9 761.3,621.2 762.6,620.3 764,619.5 765.4,618.6 766.7,617.8 768.1,616.9 769.5,616 770.9,615.1 772.2,614 773.6,612.9 775,611.8 776.3,610.7 777.7,609.7 779.1,608.6 780.5,607.3 781.8,606 783.2,604.8 784.6,603.5 785.9,602.2 787.3,600.5 788.7,598.7 790,597" fill="none" stroke="#86bcc4" stroke-width="1.3" stroke-linejoin="round" filter="url(#gl0)" opacity="0.9"/>
<polyline points="790,598.6 790.7,597.4 791.3,599.2 791.9,597.7 792.5,599.2 793.1,598.6 793.7,598.4 794.3,598.8 795,599.3 795.6,598.4 796.2,599.7 796.8,599.7 797.4,598.5 798,599.5 798.6,599.1 799.2,598.9 799.9,599.4 800.5,599.2 801.1,599.4 801.7,599.4 802.3,599 802.9,599.2 803.5,599.5 804.1,599.3 804.8,600 805.4,600.1 806,600.2 806.6,599.5 807.2,599.1 807.8,599.8 808.4,600.7 809.1,600.1 809.7,599.7 810.3,599.8 810.9,599.9 811.5,599.6 812.1,599.6 812.7,600.6 813.3,599.9 814,600.4 814.6,600 815.2,599.6 815.8,599.4 816.4,599.9 817,600.4 817.6,600.3 818.3,600 818.9,600.6 819.5,600.2 820.1,599.9 820.7,599.8 821.3,600.3 821.9,600 822.5,599.6 823.2,600.1 823.8,600.9 824.4,600.1 825,600.1 825.6,600.4 826.2,600.2 826.8,600.8 827.4,599.7 828.1,600 828.7,600.4 829.3,600.1 829.9,600.1 830.5,600.6 831.1,601.3 831.7,601.4 832.4,599.4 833,600.8 833.6,600.5 834.2,600.2 834.8,600.6 835.4,600 836,600.9 836.6,600.3 837.3,601.4 837.9,600.3 838.5,600.4" fill="none" stroke="#3a5aa8" stroke-width="14" opacity="0.7" filter="url(#gl1)" stroke-linejoin="round" transform="translate(0 -1.0)"/>
<polyline points="790,598.6 790.7,597.4 791.3,599.2 791.9,597.7 792.5,599.2 793.1,598.6 793.7,598.4 794.3,598.8 795,599.3 795.6,598.4 796.2,599.7 796.8,599.7 797.4,598.5 798,599.5 798.6,599.1 799.2,598.9 799.9,599.4 800.5,599.2 801.1,599.4 801.7,599.4 802.3,599 802.9,599.2 803.5,599.5 804.1,599.3 804.8,600 805.4,600.1 806,600.2 806.6,599.5 807.2,599.1 807.8,599.8 808.4,600.7 809.1,600.1 809.7,599.7 810.3,599.8 810.9,599.9 811.5,599.6 812.1,599.6 812.7,600.6 813.3,599.9 814,600.4 814.6,600 815.2,599.6 815.8,599.4 816.4,599.9 817,600.4 817.6,600.3 818.3,600 818.9,600.6 819.5,600.2 820.1,599.9 820.7,599.8 821.3,600.3 821.9,600 822.5,599.6 823.2,600.1 823.8,600.9 824.4,600.1 825,600.1 825.6,600.4 826.2,600.2 826.8,600.8 827.4,599.7 828.1,600 828.7,600.4 829.3,600.1 829.9,600.1 830.5,600.6 831.1,601.3 831.7,601.4 832.4,599.4 833,600.8 833.6,600.5 834.2,600.2 834.8,600.6 835.4,600 836,600.9 836.6,600.3 837.3,601.4 837.9,600.3 838.5,600.4" fill="none" stroke="#2f93b3" stroke-width="4.2" opacity="0.8999999999999999" filter="url(#gl2)" stroke-linejoin="round"/>
<polyline points="790,598.6 790.7,597.4 791.3,599.2 791.9,597.7 792.5,599.2 793.1,598.6 793.7,598.4 794.3,598.8 795,599.3 795.6,598.4 796.2,599.7 796.8,599.7 797.4,598.5 798,599.5 798.6,599.1 799.2,598.9 799.9,599.4 800.5,599.2 801.1,599.4 801.7,599.4 802.3,599 802.9,599.2 803.5,599.5 804.1,599.3 804.8,600 805.4,600.1 806,600.2 806.6,599.5 807.2,599.1 807.8,599.8 808.4,600.7 809.1,600.1 809.7,599.7 810.3,599.8 810.9,599.9 811.5,599.6 812.1,599.6 812.7,600.6 813.3,599.9 814,600.4 814.6,600 815.2,599.6 815.8,599.4 816.4,599.9 817,600.4 817.6,600.3 818.3,600 818.9,600.6 819.5,600.2 820.1,599.9 820.7,599.8 821.3,600.3 821.9,600 822.5,599.6 823.2,600.1 823.8,600.9 824.4,600.1 825,600.1 825.6,600.4 826.2,600.2 826.8,600.8 827.4,599.7 828.1,600 828.7,600.4 829.3,600.1 829.9,600.1 830.5,600.6 831.1,601.3 831.7,601.4 832.4,599.4 833,600.8 833.6,600.5 834.2,600.2 834.8,600.6 835.4,600 836,600.9 836.6,600.3 837.3,601.4 837.9,600.3 838.5,600.4" fill="none" stroke="#58d690" stroke-width="1.15" stroke-linejoin="round" filter="url(#gl0)"/>
<polyline points="838.5,600.6 840,601.9 841.5,603.2 843,604.6 844.6,606.7 846.1,608.9 847.6,611 849.1,612.9 850.7,614.8 852.2,616.6 853.7,618.5 855.2,620.3 856.7,622.1 858.3,624 859.8,625.7 861.3,627.1 862.8,628.6 864.3,630.1 865.9,631.5 867.4,632.7 868.9,633.9 870.4,635.1 871.9,636.3 873.5,637.5 875,638.5 876.5,639.4 878,640.4 879.6,641.4 881.1,642.3 882.6,643.3 884.1,644 885.6,644.7 887.2,645.3 888.7,646 890.2,646.7 891.7,647.4 893.2,648.1 894.8,648.8 896.3,649.5 897.8,650.2 899.3,650.9 900.8,651.6 902.4,652.3 903.9,652.9 905.4,653.6 906.9,654.3 908.5,655 910,655.7 911.5,656.3 913,656.9 914.5,657.6 916.1,658.2 917.6,658.9 919.1,659.5 920.6,660.1 922.1,660.8 923.7,661.4 925.2,662 926.7,662.7 928.2,663.3 929.7,664 931.3,664.6 932.8,665.2 934.3,665.9 935.8,666.6 937.4,667.2 938.9,667.9 940.4,668.6 941.9,669.3 943.4,670 945,670.7 946.5,671.4 948,672.1 949.5,672.8 951,673.6 952.6,674.3 954.1,675.1 955.6,675.8 957.1,676.6 958.6,677.3 960.2,678.1 961.7,678.9 963.2,679.8 964.7,680.7 966.3,681.5 967.8,682.4 969.3,683.3 970.8,684.2 972.3,685 973.9,685.9" fill="none" stroke="#4f7fb5" stroke-width="3.5" opacity="0.45" filter="url(#gl2)"/>
<polyline points="838.5,600.6 840,601.9 841.5,603.2 843,604.6 844.6,606.7 846.1,608.9 847.6,611 849.1,612.9 850.7,614.8 852.2,616.6 853.7,618.5 855.2,620.3 856.7,622.1 858.3,624 859.8,625.7 861.3,627.1 862.8,628.6 864.3,630.1 865.9,631.5 867.4,632.7 868.9,633.9 870.4,635.1 871.9,636.3 873.5,637.5 875,638.5 876.5,639.4 878,640.4 879.6,641.4 881.1,642.3 882.6,643.3 884.1,644 885.6,644.7 887.2,645.3 888.7,646 890.2,646.7 891.7,647.4 893.2,648.1 894.8,648.8 896.3,649.5 897.8,650.2 899.3,650.9 900.8,651.6 902.4,652.3 903.9,652.9 905.4,653.6 906.9,654.3 908.5,655 910,655.7 911.5,656.3 913,656.9 914.5,657.6 916.1,658.2 917.6,658.9 919.1,659.5 920.6,660.1 922.1,660.8 923.7,661.4 925.2,662 926.7,662.7 928.2,663.3 929.7,664 931.3,664.6 932.8,665.2 934.3,665.9 935.8,666.6 937.4,667.2 938.9,667.9 940.4,668.6 941.9,669.3 943.4,670 945,670.7 946.5,671.4 948,672.1 949.5,672.8 951,673.6 952.6,674.3 954.1,675.1 955.6,675.8 957.1,676.6 958.6,677.3 960.2,678.1 961.7,678.9 963.2,679.8 964.7,680.7 966.3,681.5 967.8,682.4 969.3,683.3 970.8,684.2 972.3,685 973.9,685.9" fill="none" stroke="#86bcc4" stroke-width="1.3" stroke-linejoin="round" filter="url(#gl0)" opacity="0.9"/>
<polyline points="974.3,634.1 974.9,632.4 975.5,630.9 976.1,630.4 976.6,628.1 977.2,628 977.8,626.6 978.4,626 979,624.8 979.6,624.3 980.2,623.1 980.7,623.1 981.3,623.1 981.9,621.9 982.5,622 983.1,621.9 983.7,621.6 984.3,622.5 984.9,621.3 985.4,622 986,620.9 986.6,620.8 987.2,620.2 987.8,619.6 988.4,619.6 989,619.8 989.6,618.8 990.1,618.7 990.7,619.1 991.3,619.1 991.9,620.7 992.5,619.9 993.1,620.1 993.7,620.9 994.3,619.6 994.8,619.2 995.4,619.5 996,618.8 996.6,618 997.2,617.5 997.8,617.4 998.4,618.3 999,618.5 999.5,618.6 1000.1,618.7 1000.7,619.3 1001.3,619.3 1001.9,618.9 1002.5,618.7 1003.1,618.7 1003.7,618.9 1004.2,618.2 1004.8,617.3 1005.4,616.9 1006,616.6 1006.6,617.6 1007.2,617.5 1007.8,618.2 1008.4,619.4 1008.9,618.9 1009.5,619.5 1010.1,618.1 1010.7,618.5 1011.3,618.9 1011.9,618.2 1012.5,617.7 1013,616.7 1013.6,616.8 1014.2,616.3 1014.8,616.8 1015.4,616.5 1016,616.7 1016.6,617.3 1017.2,618.2 1017.7,618 1018.3,618.9 1018.9,618.1 1019.5,618.8 1020.1,618.7 1020.7,617.1 1021.3,617.8 1021.9,617.2 1022.4,617.5 1023,617.3 1023.6,617.1 1024.2,617.7 1024.8,616.9 1025.4,618.2 1026,618.8 1026.6,618 1027.1,618.3 1027.7,619.7 1028.3,618.6 1028.9,617.5 1029.5,618 1030.1,617.4 1030.7,617 1031.3,617.8 1031.8,617.1 1032.4,616.5 1033,616.4 1033.6,617.5 1034.2,617.9 1034.8,617.9 1035.4,618.3 1036,618.1 1036.5,618.6 1037.1,617.9 1037.7,617.3 1038.3,616.9" fill="none" stroke="#3a5aa8" stroke-width="14" opacity="0.7" filter="url(#gl1)" stroke-linejoin="round" transform="translate(0 -1.0)"/>
<polyline points="974.3,634.1 974.9,632.4 975.5,630.9 976.1,630.4 976.6,628.1 977.2,628 977.8,626.6 978.4,626 979,624.8 979.6,624.3 980.2,623.1 980.7,623.1 981.3,623.1 981.9,621.9 982.5,622 983.1,621.9 983.7,621.6 984.3,622.5 984.9,621.3 985.4,622 986,620.9 986.6,620.8 987.2,620.2 987.8,619.6 988.4,619.6 989,619.8 989.6,618.8 990.1,618.7 990.7,619.1 991.3,619.1 991.9,620.7 992.5,619.9 993.1,620.1 993.7,620.9 994.3,619.6 994.8,619.2 995.4,619.5 996,618.8 996.6,618 997.2,617.5 997.8,617.4 998.4,618.3 999,618.5 999.5,618.6 1000.1,618.7 1000.7,619.3 1001.3,619.3 1001.9,618.9 1002.5,618.7 1003.1,618.7 1003.7,618.9 1004.2,618.2 1004.8,617.3 1005.4,616.9 1006,616.6 1006.6,617.6 1007.2,617.5 1007.8,618.2 1008.4,619.4 1008.9,618.9 1009.5,619.5 1010.1,618.1 1010.7,618.5 1011.3,618.9 1011.9,618.2 1012.5,617.7 1013,616.7 1013.6,616.8 1014.2,616.3 1014.8,616.8 1015.4,616.5 1016,616.7 1016.6,617.3 1017.2,618.2 1017.7,618 1018.3,618.9 1018.9,618.1 1019.5,618.8 1020.1,618.7 1020.7,617.1 1021.3,617.8 1021.9,617.2 1022.4,617.5 1023,617.3 1023.6,617.1 1024.2,617.7 1024.8,616.9 1025.4,618.2 1026,618.8 1026.6,618 1027.1,618.3 1027.7,619.7 1028.3,618.6 1028.9,617.5 1029.5,618 1030.1,617.4 1030.7,617 1031.3,617.8 1031.8,617.1 1032.4,616.5 1033,616.4 1033.6,617.5 1034.2,617.9 1034.8,617.9 1035.4,618.3 1036,618.1 1036.5,618.6 1037.1,617.9 1037.7,617.3 1038.3,616.9" fill="none" stroke="#2f93b3" stroke-width="4.2" opacity="0.8999999999999999" filter="url(#gl2)" stroke-linejoin="round"/>
<polyline points="974.3,634.1 974.9,632.4 975.5,630.9 976.1,630.4 976.6,628.1 977.2,628 977.8,626.6 978.4,626 979,624.8 979.6,624.3 980.2,623.1 980.7,623.1 981.3,623.1 981.9,621.9 982.5,622 983.1,621.9 983.7,621.6 984.3,622.5 984.9,621.3 985.4,622 986,620.9 986.6,620.8 987.2,620.2 987.8,619.6 988.4,619.6 989,619.8 989.6,618.8 990.1,618.7 990.7,619.1 991.3,619.1 991.9,620.7 992.5,619.9 993.1,620.1 993.7,620.9 994.3,619.6 994.8,619.2 995.4,619.5 996,618.8 996.6,618 997.2,617.5 997.8,617.4 998.4,618.3 999,618.5 999.5,618.6 1000.1,618.7 1000.7,619.3 1001.3,619.3 1001.9,618.9 1002.5,618.7 1003.1,618.7 1003.7,618.9 1004.2,618.2 1004.8,617.3 1005.4,616.9 1006,616.6 1006.6,617.6 1007.2,617.5 1007.8,618.2 1008.4,619.4 1008.9,618.9 1009.5,619.5 1010.1,618.1 1010.7,618.5 1011.3,618.9 1011.9,618.2 1012.5,617.7 1013,616.7 1013.6,616.8 1014.2,616.3 1014.8,616.8 1015.4,616.5 1016,616.7 1016.6,617.3 1017.2,618.2 1017.7,618 1018.3,618.9 1018.9,618.1 1019.5,618.8 1020.1,618.7 1020.7,617.1 1021.3,617.8 1021.9,617.2 1022.4,617.5 1023,617.3 1023.6,617.1 1024.2,617.7 1024.8,616.9 1025.4,618.2 1026,618.8 1026.6,618 1027.1,618.3 1027.7,619.7 1028.3,618.6 1028.9,617.5 1029.5,618 1030.1,617.4 1030.7,617 1031.3,617.8 1031.8,617.1 1032.4,616.5 1033,616.4 1033.6,617.5 1034.2,617.9 1034.8,617.9 1035.4,618.3 1036,618.1 1036.5,618.6 1037.1,617.9 1037.7,617.3 1038.3,616.9" fill="none" stroke="#58d690" stroke-width="1.15" stroke-linejoin="round" filter="url(#gl0)"/>
</g>
<line x1="667.7" y1="576.2" x2="667.7" y2="711.3" stroke="#e3bdf3" stroke-width="1.9" stroke-dasharray="9.7 4.9" stroke-dashoffset="0"/>
<line x1="789.8" y1="576.2" x2="789.8" y2="711.3" stroke="#e3bdf3" stroke-width="1.9" stroke-dasharray="9.7 4.9" stroke-dashoffset="0"/>
<line x1="839.6" y1="576.2" x2="839.6" y2="711.3" stroke="#e3bdf3" stroke-width="1.9" stroke-dasharray="9.7 4.9" stroke-dashoffset="0"/>
<line x1="974" y1="576.2" x2="974" y2="711.3" stroke="#e3bdf3" stroke-width="1.9" stroke-dasharray="9.7 4.9" stroke-dashoffset="0"/>
<rect x="605.8" y="575.2" width="432.5" height="136.1" fill="none" stroke="#141414" stroke-width="1.2" rx="0" />
<line x1="601.6" y1="711.3" x2="605.8" y2="711.3" stroke="#1d1d1b" stroke-width="1.35" />
<text x="594.7" y="717.2" font-size="16" text-anchor="end" fill="#1d1d1b" textLength="8.9" lengthAdjust="spacingAndGlyphs" >0</text>
<line x1="601.6" y1="665.9" x2="605.8" y2="665.9" stroke="#1d1d1b" stroke-width="1.35" />
<text x="594.7" y="671.8" font-size="16" text-anchor="end" fill="#1d1d1b" textLength="22.2" lengthAdjust="spacingAndGlyphs" >0.5</text>
<line x1="601.6" y1="620.6" x2="605.8" y2="620.6" stroke="#1d1d1b" stroke-width="1.35" />
<text x="594.7" y="626.5" font-size="16" text-anchor="end" fill="#1d1d1b" textLength="22.2" lengthAdjust="spacingAndGlyphs" >1.0</text>
<line x1="601.6" y1="575.2" x2="605.8" y2="575.2" stroke="#1d1d1b" stroke-width="1.35" />
<text x="594.7" y="581.1" font-size="16" text-anchor="end" fill="#1d1d1b" textLength="22.2" lengthAdjust="spacingAndGlyphs" >1.5</text>
<line x1="605.8" y1="711.3" x2="605.8" y2="715.5" stroke="#1d1d1b" stroke-width="1.35" />
<text x="604.5" y="732.9" font-size="16" text-anchor="middle" fill="#1d1d1b" textLength="8.9" lengthAdjust="spacingAndGlyphs" >0</text>
<line x1="692.3" y1="711.3" x2="692.3" y2="715.5" stroke="#1d1d1b" stroke-width="1.35" />
<text x="691" y="732.9" font-size="16" text-anchor="middle" fill="#1d1d1b" textLength="17.8" lengthAdjust="spacingAndGlyphs" >10</text>
<line x1="778.8" y1="711.3" x2="778.8" y2="715.5" stroke="#1d1d1b" stroke-width="1.35" />
<text x="777.5" y="732.9" font-size="16" text-anchor="middle" fill="#1d1d1b" textLength="17.8" lengthAdjust="spacingAndGlyphs" >20</text>
<line x1="865.3" y1="711.3" x2="865.3" y2="715.5" stroke="#1d1d1b" stroke-width="1.35" />
<text x="864" y="732.9" font-size="16" text-anchor="middle" fill="#1d1d1b" textLength="17.8" lengthAdjust="spacingAndGlyphs" >30</text>
<line x1="951.8" y1="711.3" x2="951.8" y2="715.5" stroke="#1d1d1b" stroke-width="1.35" />
<text x="950.5" y="732.9" font-size="16" text-anchor="middle" fill="#1d1d1b" textLength="17.8" lengthAdjust="spacingAndGlyphs" >40</text>
<line x1="1038.3" y1="711.3" x2="1038.3" y2="715.5" stroke="#1d1d1b" stroke-width="1.35" />
<text x="1037" y="732.9" font-size="16" text-anchor="middle" fill="#1d1d1b" textLength="17.8" lengthAdjust="spacingAndGlyphs" >50</text>
<text x="821.5" y="748.2" font-size="16" text-anchor="middle" fill="#1d1d1b" textLength="57" lengthAdjust="spacingAndGlyphs" >Time (s)</text>
<text transform="translate(545 645.5) rotate(-90)" font-size="16" text-anchor="middle" fill="#1d1d1b" textLength="116" lengthAdjust="spacingAndGlyphs" >Laser frequency</text>
<text transform="translate(565 645.5) rotate(-90)" font-size="16" text-anchor="middle" fill="#1d1d1b" textLength="98" lengthAdjust="spacingAndGlyphs" >change (GHz)</text>
<text x="529.8" y="469.5" font-size="21.3" text-anchor="start" fill="#050505" font-weight="bold" textLength="14.1" lengthAdjust="spacingAndGlyphs" stroke="#050505" stroke-width="0.45">g</text>
</g>
<g>
<clipPath id="ch"><rect x="84.7" y="768.0" width="946.3" height="271.5999999999999"/></clipPath>
<line x1="84.7" y1="953.2" x2="87.3" y2="953.2" stroke="#ee8f2c" stroke-width="3.0" />
<polyline points="93.8,953.3 98.1,953.3 102.3,953.4 106.6,953.4 110.9,953.5 115.2,953.5 119.4,953.6 123.7,953.6 128,953.7 132.3,953.7 136.5,953.8 140.8,953.8 145.1,953.9 149.4,953.9 153.6,954 157.9,954.1 162.2,954.1 166.5,954.2 170.7,954.3 175,954.4 179.3,954.4 183.6,954.5 187.8,954.6 192.1,954.7 196.4,954.8 200.7,954.9 204.9,955 209.2,955.1 213.5,955.2 217.8,955.3 222,955.4 226.3,955.5 230.6,955.6 234.9,955.8 239.1,955.9 243.4,956 247.7,956.2 252,956.3 256.2,956.4 260.5,956.6 264.8,956.8 269.1,956.9 273.3,957.1 277.6,957.2 281.9,957.4 286.1,957.6 290.4,957.8 294.7,958 299,958.2 303.2,958.4 307.5,958.6 311.8,958.8 316.1,959 320.3,959.2 324.6,959.4 328.9,959.7 333.2,959.9 337.4,960.1 341.7,960.4 346,960.6 350.3,960.9 354.5,961.2 358.8,961.4 363.1,961.7 367.4,962 371.6,962.3 375.9,962.6 380.2,962.9 384.5,963.2 388.7,963.5 393,963.8 397.3,964.1 401.6,964.5 405.8,964.8 410.1,965.1 414.4,965.5 418.7,965.8 422.9,966.2 427.2,966.5 431.5,966.9 435.8,967.3 440,967.6 444.3,968 448.6,968.4 452.9,968.8 457.1,969.2 461.4,969.6 465.7,970 469.9,970.4 474.2,970.8 478.5,971.2 482.8,971.6 487,972.1 491.3,972.5 495.6,972.9 499.9,973.4 504.1,973.8 508.4,974.2 512.7,974.7 517,975.1 521.2,975.6 525.5,976 529.8,976.5 534.1,977 538.3,977.4 542.6,977.9 546.9,978.4 551.2,978.8 555.4,979.3 559.7,979.8 564,980.3 568.3,980.8 572.5,981.3 576.8,981.7 581.1,982.2 585.4,982.7 589.6,983.2 593.9,983.7 598.2,984.2 602.5,984.7 606.7,985.2 611,985.7 615.3,986.2 619.6,986.7 623.8,987.2 628.1,987.7 632.4,988.3 636.7,988.8 640.9,989.3 645.2,989.8 649.5,990.3 653.8,990.8 658,991.4 662.3,991.9 666.6,992.4 670.8,992.9 675.1,993.4 679.4,994 683.7,994.5 687.9,995 692.2,995.5 696.5,996.1 700.8,996.6 705,997.1 709.3,997.7 713.6,998.2 717.9,998.7 722.1,999.3 726.4,999.8 730.7,1000.3 735,1000.9 739.2,1001.4 743.5,1001.9 747.8,1002.5 752.1,1003 756.3,1003.5 760.6,1004.1 764.9,1004.6 769.2,1005.2 773.4,1005.7 777.7,1006.2 782,1006.8 786.3,1007.3 790.5,1007.8 794.8,1008.4 799.1,1008.9 803.4,1009.5 807.6,1010 811.9,1010.6 816.2,1011.1 820.5,1011.6 824.7,1012.2 829,1012.7 833.3,1013.3 837.6,1013.8 841.8,1014.3 846.1,1014.9 850.4,1015.4 854.6,1016 858.9,1016.5 863.2,1017.1 867.5,1017.6 871.7,1018.2 876,1018.7 880.3,1019.2 884.6,1019.8 888.8,1020.3 893.1,1020.9 897.4,1021.4 901.7,1022 905.9,1022.5 910.2,1023.1 914.5,1023.6 918.8,1024.2 923,1024.7 927.3,1025.2 931.6,1025.8 935.9,1026.3 940.1,1026.9 944.4,1027.4 948.7,1028 953,1028.5 957.2,1029.1 961.5,1029.6 965.8,1030.2 970.1,1030.7 974.3,1031.3 978.6,1031.8 982.9,1032.3 987.2,1032.9 991.4,1033.4 995.7,1034 1000,1034.5 1004.3,1035.1 1008.5,1035.6 1012.8,1036.2 1017.1,1036.7 1021.4,1037.3 1025.6,1037.8 1029.9,1038.4" fill="none" stroke="#ee8f2c" stroke-width="3.0" stroke-linejoin="round" stroke-dasharray="27.3 6.5 4.4 6.2" clip-path="url(#ch)"/>
<line x1="71.1" y1="988.3" x2="1030" y2="865.0" stroke="#b3363f" stroke-width="3.0" stroke-dasharray="14.8 7.6" clip-path="url(#ch)"/>
<polyline points="84.7,794.9 85.7,793.8 86.7,793.8 87.7,795.7 88.8,795.7 89.8,794.3 90.8,794.2 91.8,793.4 92.8,794.4 93.8,796.4 94.8,795.3 95.9,797.7 96.9,797 97.9,798.1 98.9,798.5 99.9,798.3 100.9,798.6 101.9,797.7 103,797 104,796.2 105,795.7 106,794.1 107,795.9 108,794.1 109,793.4 110.1,794.1 111.1,793.1 112.1,796.8 113.1,799.2 114.1,800.9 115.1,800.6 116.1,800 117.1,800.5 118.2,800.9 119.2,802.1 120.2,802.9 121.2,800.7 122.2,801.7 123.2,802.4 124.2,802.7 125.3,803.6 126.3,803.6 127.3,802.7 128.3,803.8 129.3,803.5 130.3,804 131.3,806.3 132.4,806.2 133.4,806.5 134.4,806.3 135.4,805.5 136.4,806.9 137.4,807.4 138.4,806.8 139.5,806.8 140.5,806.7 141.5,806.3 142.5,806.3 143.5,807.4 144.5,808.1 145.5,810.1 146.6,811.5 147.6,811.1 148.6,810.9 149.6,813 150.6,813.1 151.6,814.9 152.6,814.7 153.7,816.7 154.7,817.1 155.7,817.5 156.7,818.6 157.7,816.2 158.7,817.9 159.7,816.3 160.8,818.9 161.8,819.7 162.8,819.4 163.8,821.4 164.8,821.5 165.8,820.9 166.8,823.9 167.8,823.9 168.9,824.8 169.9,826.8 170.9,827 171.9,826.4 172.9,827 173.9,828.2 174.9,827.6 176,827.6 177,826.4 178,825.6 179,829 180,829.4 181,830.4 182,832.6 183.1,832.2 184.1,833.5 185.1,834.3 186.1,834.4 187.1,834.3 188.1,835.6 189.1,834.8 190.2,834.3 191.2,833.7 192.2,834.7 193.2,836.1 194.2,837 195.2,838.4 196.2,838.9 197.3,837.4 198.3,835.5 199.3,834.7 200.3,835.4 201.3,834.7 202.3,837.1 203.3,837.2 204.4,837.7 205.4,838.3 206.4,838.3 207.4,838.7 208.4,839.4 209.4,840.6 210.4,839.6 211.5,840.6 212.5,839.5 213.5,839.6 214.5,839.5 215.5,840.4 216.5,840.4 217.5,842.4 218.6,843 219.6,842.5 220.6,843.3 221.6,842.8 222.6,845 223.6,845.9 224.6,848.3 225.6,848.5 226.7,846 227.7,848.1 228.7,847.4 229.7,848 230.7,847.7 231.7,847.4 232.7,847.1 233.8,847.6 234.8,849.2 235.8,849.2 236.8,850.9 237.8,852.4 238.8,851.5 239.8,852.9 240.9,852 241.9,853.3 242.9,853.9 243.9,853.9 244.9,853.2 245.9,853.8 246.9,855.5 248,856.7 249,856.6 250,854.3 251,855 252,855.7 253,855.6 254,857 255.1,856.1 256.1,855 257.1,855 258.1,855.6 259.1,858 260.1,860.2 261.1,862.8 262.2,861.9 263.2,861.5 264.2,861.2 265.2,861.6 266.2,862.7 267.2,862.9 268.2,863.2 269.3,863.8 270.3,862 271.3,861.6 272.3,862 273.3,863.7 274.3,863.6 275.3,866.1 276.3,865 277.4,863.9 278.4,864.2 279.4,865 280.4,865.7 281.4,866.3 282.4,865.4 283.4,865.8 284.5,866.2 285.5,865.9 286.5,866.2 287.5,865.5 288.5,865.4 289.5,865.2 290.5,865.5 291.6,866.6 292.6,866.8 293.6,868.6 294.6,868.9 295.6,869.2 296.6,869.6 297.6,869.2 298.7,869.4 299.7,869.5 300.7,869.1 301.7,869.4 302.7,868.6 303.7,869.9 304.7,869.3 305.8,868.8 306.8,870.3 307.8,868.6 308.8,869.1 309.8,869.8 310.8,869.9 311.8,870.9 312.9,871.2 313.9,871.5 314.9,871.6 315.9,871.6 316.9,872 317.9,873.1 318.9,873.5 320,873.8 321,874.5 322,874.7 323,876.5 324,876.7 325,876.2 326,875.9 327.1,875.3 328.1,874.7 329.1,874.6 330.1,875.1 331.1,876.1 332.1,875.8 333.1,875.9 334.1,875.2 335.2,874.8 336.2,874 337.2,874.6 338.2,874.3 339.2,876.1 340.2,876.3 341.2,875.1 342.3,874.3 343.3,873.7 344.3,873.9 345.3,874.7 346.3,874.8 347.3,875.2 348.3,874.7 349.4,875.8 350.4,875.1 351.4,875.9 352.4,876.3 353.4,876.4 354.4,876.1 355.4,875.8 356.5,876.9 357.5,878.2 358.5,877.9 359.5,879.1 360.5,878.5 361.5,879 362.5,879.3 363.6,878.9 364.6,879 365.6,878.5 366.6,879.3 367.6,878.8 368.6,878.8 369.6,878.3 370.7,878.5 371.7,878.6 372.7,878 373.7,878.3 374.7,878.6 375.7,879 376.7,879.3 377.8,879.2 378.8,879.3 379.8,879.5 380.8,880.2 381.8,880.3 382.8,880.7 383.8,881.1 384.8,881.4 385.9,881.8 386.9,882 387.9,882.3 388.9,882.5 389.9,882.3 390.9,881.8 391.9,881.8 393,881.1 394,881 395,881 396,880.8 397,879.9 398,879.6 399,879.2 400.1,879.6 401.1,880 402.1,880.3 403.1,880.9 404.1,879.3 405.1,879.9 406.1,879.6 407.2,878.6 408.2,879.7 409.2,879.5 410.2,878.9 411.2,879.5 412.2,878.7 413.2,879.2 414.3,880.4 415.3,880.9 416.3,881.6 417.3,882.4 418.3,881.7 419.3,881.6 420.3,881.8 421.4,881.1 422.4,881.8 423.4,882.1 424.4,882.2 425.4,881.8 426.4,881.4 427.4,882.3 428.5,881.9 429.5,882.5 430.5,882.9 431.5,882.5 432.5,882.9 433.5,882.8 434.5,882.9 435.6,882.8 436.6,883.9 437.6,883.8 438.6,883.9 439.6,884.2 440.6,883.9 441.6,883.7 442.6,883.8 443.7,883.7 444.7,884.3 445.7,885.3 446.7,886.2 447.7,886.1 448.7,886.2 449.7,885.7 450.8,884.9 451.8,884.2 452.8,883.7 453.8,883.7 454.8,883.8 455.8,883.9 456.8,883.9 457.9,884.5 458.9,884.8 459.9,884.7 460.9,885.3 461.9,885.2 462.9,885.4 463.9,885.7 465,885.3 466,885 467,884.8 468,884.4 469,884.1 470,884.9 471,884.6 472.1,883.8 473.1,883.3 474.1,882.9 475.1,883.1 476.1,883.7 477.1,884.1 478.1,884.4 479.2,884.9 480.2,884.5 481.2,884.3 482.2,884.3 483.2,884.7 484.2,884.8 485.2,885.2 486.3,885.1 487.3,885 488.3,884.7 489.3,884.8 490.3,884.9 491.3,885.2 492.3,884.4 493.4,883.9 494.4,883.8 495.4,883.5 496.4,883.6 497.4,883.1 498.4,882.6 499.4,882.8 500.4,883 501.5,883.1 502.5,883.6 503.5,883.5 504.5,882.9 505.5,883.1 506.5,882.9 507.5,882.8 508.6,883.7 509.6,884.5 510.6,884.9 511.6,885.1 512.6,885.3 513.6,885.2 514.6,885.7 515.7,886.3 516.7,885.5 517.7,885.3 518.7,885.1 519.7,884.8 520.7,884.9 521.7,884.5 522.8,884.5 523.8,885 524.8,885.5 525.8,884.9 526.8,884.6 527.8,884 528.8,883.8 529.9,883.9 530.9,883.6 531.9,884.3 532.9,884.4 533.9,884.3 534.9,884.6 535.9,884.5 537,884.7 538,884.9 539,884.7 540,884.8 541,885.2 542,885.2 543,885.2 544.1,885.2 545.1,885.1 546.1,885.2 547.1,884.7 548.1,884.9 549.1,884.8 550.1,885.1 551.1,885.6 552.2,885.1 553.2,885 554.2,884.8 555.2,884.8 556.2,885.2 557.2,885.5 558.2,885.4 559.3,885.7 560.3,885.6 561.3,885.5 562.3,885.7 563.3,884.9 564.3,884.8 565.3,884.9 566.4,885 567.4,885.9 568.4,886 569.4,885.9 570.4,885.3 571.4,884.8 572.4,884.7 573.5,884.5 574.5,884.7 575.5,885 576.5,884.7 577.5,884.9 578.5,885.2 579.5,884.8 580.6,884.7 581.6,884.4 582.6,884.3 583.6,884.1 584.6,884.5 585.6,884.9 586.6,885.1 587.7,885.6 588.7,885.4 589.7,884.8 590.7,884.8 591.7,884.3 592.7,884.5 593.7,884.6 594.8,884.4 595.8,884.9 596.8,884.9 597.8,885 598.8,885.5 599.8,885.1 600.8,885.2 601.9,884.8 602.9,884.8 603.9,885.1 604.9,886 605.9,886.4 606.9,886.3 607.9,886 608.9,885.5 610,885.3 611,885.7 612,885.6 613,885.8 614,885.7 615,884.8 616,884.6 617.1,884.9 618.1,884.8 619.1,884.6 620.1,885 621.1,884.1 622.1,884.5 623.1,884.9 624.2,884.6 625.2,885.1 626.2,884.7 627.2,884.9 628.2,885 629.2,885.1 630.2,885.1 631.3,884.4 632.3,884.4 633.3,884.8 634.3,884.9 635.3,885 636.3,884.8 637.3,884.5 638.4,884.8 639.4,884.9 640.4,885.4 641.4,885.1 642.4,885.7 643.4,885.7 644.4,885.7 645.5,886 646.5,885.7 647.5,885.6 648.5,885.3 649.5,885.3 650.5,885.2 651.5,885.1 652.6,885 653.6,885.2 654.6,885.3 655.6,885.4 656.6,885.5 657.6,885.4 658.6,885.4 659.6,885.3 660.7,885.4 661.7,884.5 662.7,884.3 663.7,884 664.7,883.7 665.7,884.4 666.7,884.7 667.8,885.1 668.8,885.3 669.8,885 670.8,885.1 671.8,885.1 672.8,885.8 673.8,885.9 674.9,886.2 675.9,885.9 676.9,885.1 677.9,885 678.9,884.1 679.9,884.4 680.9,884.9 682,884.7 683,885 684,884.9 685,884.9 686,885.5 687,885.3 688,885.2 689.1,885.1 690.1,885.1 691.1,885 692.1,885.6 693.1,886.1 694.1,886.3 695.1,886.4 696.2,886.6 697.2,886.4 698.2,886.1 699.2,885.9 700.2,885.6 701.2,885.1 702.2,885.5 703.3,884.9 704.3,884.7 705.3,884.9 706.3,884.9 707.3,885 708.3,884.9 709.3,884.6 710.4,884.5 711.4,884.7 712.4,884.9 713.4,884.9 714.4,885 715.4,885 716.4,884.6 717.4,884.4 718.5,884.4 719.5,884.1 720.5,884.3 721.5,884.1 722.5,884.1 723.5,884.4 724.5,884.8 725.6,884.9 726.6,884.7 727.6,885.1 728.6,884.8 729.6,884.4 730.6,884.4 731.6,884.4 732.7,884.4 733.7,885 734.7,884.8 735.7,884.7 736.7,884.9 737.7,885.1 738.7,885.6 739.8,885.7 740.8,885.8 741.8,885.6 742.8,886.1 743.8,886 744.8,885.4 745.8,885.4 746.9,885.2 747.9,885 748.9,884.8 749.9,884.4 750.9,884.4 751.9,884 752.9,884.4 754,884 755,883.4 756,883.1 757,882.7 758,882.6 759,882.7 760,882.8 761.1,882.3 762.1,882.3 763.1,882.3 764.1,882 765.1,881.9 766.1,881.3 767.1,880.9 768.1,880.7 769.2,880.9 770.2,881.5 771.2,881.4 772.2,881.4 773.2,880.8 774.2,881.1 775.2,881.1 776.3,881.5 777.3,882.3 778.3,882.8 779.3,882.5 780.3,882.8 781.3,883.1 782.3,883.5 783.4,884 784.4,884.1 785.4,884.2 786.4,884 787.4,883.5 788.4,884 789.4,883.6 790.5,883.5 791.5,884 792.5,884.3 793.5,884.6" fill="none" stroke="#2a72a9" stroke-width="2.7" stroke-linejoin="round" />
<polyline points="84.7,841 85.6,842.6 86.4,844.8 87.3,846.5 88.1,848.5 89,849.9 89.9,850 90.7,848.6 91.6,846.3 92.4,842.8 93.3,839.2 94.2,834.8 95,831.1 95.9,828.6 96.7,827.7 97.6,829.6 98.5,831.9 99.3,834.8 100.2,837.4 101,840.4 101.9,843.4 102.8,845.8 103.6,848.7 104.5,851.5 105.3,854.6 106.2,858.1 107.1,862.6 107.9,866.8 108.8,869.5 109.6,872.3 110.5,873.4 111.4,874.4 112.2,874.5 113.1,872 113.9,872 114.8,872.1 115.7,871.3 116.5,872 117.4,869.7 118.2,868.1 119.1,866.1 120,864.9 120.8,864.5 121.7,866.9 122.5,871.2 123.4,875.6 124.3,880.6 125.1,884.1 126,887.6 126.8,887.8 127.7,888.3 128.6,885.5 129.4,881.7 130.3,879.8 131.1,876 132,873.6 132.9,870.3 133.7,867.2 134.6,863.5 135.4,861.4 136.3,859.9 137.2,859.8 138,861.3 138.9,863.1 139.7,866.3 140.6,869.8 141.5,873.6 142.3,876.6 143.2,879.7 144.1,883.2 144.9,885 145.8,887.1 146.6,887.6 147.5,889.3 148.4,888.9 149.2,888.9 150.1,891 150.9,890.1 151.8,890.4 152.7,891.6 153.5,890.1 154.4,890.4 155.2,889.9 156.1,890.6 157,892.8 157.8,893.9 158.7,895.6 159.5,895.1 160.4,893.1 161.3,892 162.1,891.5 163,890.8 163.8,893.2 164.7,894.2 165.6,894.9 166.4,896.1 167.3,897.2 168.1,897.7 169,899.6 169.9,899.2 170.7,897.2 171.6,896.3 172.4,895.8 173.3,896.4 174.2,896.6 175,894.7 175.9,896 176.7,893.8 177.6,894.2 178.5,894.4 179.3,893 180.2,895 181,895.6 181.9,895.1 182.8,896.4 183.6,895.1 184.5,896.4 185.3,897.8 186.2,898 187.1,899.3 187.9,898.4 188.8,901.1 189.6,901.4 190.5,898.8 191.4,899.6 192.2,898.5 193.1,899.4 193.9,900.1 194.8,898.9 195.7,899.7 196.5,899.3 197.4,899.1 198.2,900 199.1,900.1 200,902.6 200.8,902.3 201.7,903.1 202.5,904.7 203.4,904.6 204.3,903.9 205.1,905 206,902.3 206.8,900.3 207.7,899.2 208.6,899.1 209.4,897.8 210.3,898.8 211.1,901.2 212,901 212.9,901.3 213.7,899.9 214.6,899.8 215.4,900.2 216.3,899.4 217.2,900.5 218,900.8 218.9,901.4 219.7,902.9 220.6,902.2 221.5,901.6 222.3,902.5 223.2,902 224,904.5 224.9,903.2 225.8,903 226.6,901.6 227.5,900.6 228.3,901.9 229.2,901.6 230.1,902.1 230.9,901.6 231.8,900.7 232.6,901.6 233.5,901.4 234.4,904.2 235.2,903.7 236.1,903.7 236.9,904.1 237.8,904.9 238.7,906.2 239.5,907.8 240.4,908.9 241.2,909.3 242.1,909.1 243,909.5 243.8,910.1 244.7,908.1 245.5,907.1 246.4,906.3 247.3,907.1 248.1,908 249,908.7 249.8,909.1 250.7,906.2 251.6,905.7 252.4,903.6 253.3,904.9 254.1,905.8 255,905.8 255.9,906.9 256.7,906.5 257.6,908.4 258.4,909.1 259.3,909.4 260.2,910.2 261,910.3 261.9,910.8 262.8,911.9 263.6,911.9 264.5,911.7 265.3,912.6 266.2,914 267.1,915.6 267.9,915.5 268.8,915.4 269.6,916.9 270.5,920 271.4,921.1 272.2,922.6 273.1,922 273.9,919 274.8,918.5 275.7,917.2 276.5,917.8 277.4,918.8 278.2,916.9 279.1,917.7 280,919.3 280.8,918.6 281.7,920.7 282.5,921.5 283.4,919.6 284.3,919.5 285.1,919.6 286,919.3 286.8,919.6 287.7,918.1 288.6,917.5 289.4,917.1 290.3,919 291.1,920.4 292,922.6 292.9,925.1 293.7,925.5 294.6,923.4 295.4,921.7 296.3,921.9 297.2,922.2 298,924 298.9,924.9 299.7,924.7 300.6,924.8 301.5,924 302.3,925.6 303.2,926.1 304,926.4 304.9,925.8 305.8,926.5 306.6,927.6 307.5,926.1 308.3,924.5 309.2,925.9 310.1,925.1 310.9,924.1 311.8,925.1 312.6,924.7 313.5,925.3 314.4,926.1 315.2,927.9 316.1,927.2 316.9,926.8 317.8,927.9 318.7,927.1 319.5,926.6 320.4,929 321.2,927.9 322.1,929.1 323,929.4 323.8,928.5 324.7,929.8 325.5,929.3 326.4,930 327.3,930.9 328.1,931.8 329,932.5 329.8,933.8 330.7,933.6 331.6,934 332.4,934.3 333.3,933.4 334.1,933.9 335,934 335.9,934.5 336.7,933.9 337.6,933.2 338.4,933.4 339.3,933.4 340.2,933.6 341,934 341.9,934 342.7,932.6 343.6,932 344.5,931.8 345.3,930.4 346.2,932.2 347,933.5 347.9,934.6 348.8,935.3 349.6,935.3 350.5,934.9 351.3,933.7 352.2,934.1 353.1,934.1 353.9,934.5 354.8,934.9 355.6,935.1 356.5,934.8 357.4,934.5 358.2,934.7 359.1,935.2 359.9,934.9 360.8,935.9 361.7,936.3 362.5,935.5 363.4,937 364.2,936.8 365.1,937.2 366,936.4 366.8,936.5 367.7,936.4 368.5,936.2 369.4,936.2 370.3,936.4 371.1,935.1 372,935.5 372.8,936.9 373.7,937.5 374.6,938.7 375.4,940.4 376.3,941 377.1,938.7 378,939 378.9,939.3 379.7,938.7 380.6,938.8 381.5,938.6 382.3,938.6 383.2,938.8 384,938.7 384.9,938.2 385.8,936.9 386.6,937.5 387.5,937.8 388.3,938 389.2,938.1 390.1,939.3 390.9,938.5 391.8,940.1 392.6,942 393.5,941.9 394.4,941.9 395.2,941 396.1,939.6 396.9,939.5 397.8,939.1 398.7,939.8 399.5,939.7 400.4,939.5 401.2,940.9 402.1,940.9 403,940.2 403.8,940.1 404.7,938.3 405.5,938.2 406.4,937.3 407.3,937.2 408.1,937.6 409,937.3 409.8,939 410.7,939.4 411.6,939.6 412.4,939.5 413.3,939.2 414.1,940.2 415,939.6 415.9,940.3 416.7,938.6 417.6,939.3 418.4,940.3 419.3,939.8 420.2,941.5 421,940.3 421.9,939.6 422.7,941.5 423.6,941.4 424.5,933.2 425.3,923.4 426.2,911.4 427,914.3 427.9,924.7 428.8,935.1 429.6,940.8 430.5,941.1 431.3,942 432.2,941.9 433.1,942.6 433.9,943 434.8,942.9 435.6,943.4 436.5,943.1 437.4,943.7 438.2,943.1 439.1,943.1 439.9,944.2 440.8,943.8 441.7,943.6 442.5,944.3 443.4,944.4 444.2,943.6 445.1,943.4 446,943.7 446.8,944 447.7,944.6 448.5,945.5 449.4,945.8 450.3,945.7 451.1,946.4 452,946.4 452.8,946.4 453.7,946.5 454.6,945.6 455.4,944.9 456.3,945 457.1,944.6 458,944.9 458.9,943.9 459.7,943.5 460.6,945 461.4,945.8 462.3,947.1 463.2,948.5 464,948.2 464.9,948.1 465.7,948.5 466.6,947.5 467.5,948.8 468.3,948.8 469.2,948.1 470,949.1 470.9,948.9 471.8,949.3 472.6,949.7 473.5,949.9 474.3,950.1 475.2,949.6 476.1,950.2 476.9,950.6 477.8,950.6 478.6,951.2 479.5,950.5 480.4,949.8 481.2,949.4 482.1,949.8 482.9,949.8 483.8,949.9 484.7,949.7 485.5,950 486.4,950.1 487.2,951.2 488.1,952.5 489,953.1 489.8,952.5 490.7,951.7 491.5,950.4 492.4,949.8 493.3,950.6 494.1,951.2 495,952 495.8,952 496.7,951.2 497.6,951.2 498.4,951 499.3,951.8 500.2,951.9 501,952.4 501.9,952.4 502.7,952.5 503.6,951.7 504.5,952.7 505.3,952.7 506.2,952.6 507,953.7 507.9,954 508.8,954.2 509.6,954.7 510.5,954.7 511.3,954.4 512.2,954.4 513.1,954.3 513.9,953.8 514.8,953.3 515.6,954.1 516.5,954.5 517.4,955.1 518.2,956.7 519.1,955.7 519.9,955 520.8,955.7 521.7,955.9 522.5,956.4 523.4,956.4 524.2,956.9 525.1,956.2 526,955.8 526.8,956.5 527.7,956.4 528.5,957.1 529.4,957.3 530.3,957.9 531.1,958.6 532,958.3 532.8,958.5 533.7,957.9 534.6,957.3 535.4,956.7 536.3,956.8 537.1,957.8 538,957.7 538.9,958.6 539.7,959.2 540.6,959.1 541.4,958.5 542.3,958.3 543.2,957.2 544,957.6 544.9,957.8 545.7,956.9 546.6,957.7 547.5,957.5 548.3,957.4 549.2,958.2 550,957.9 550.9,958.3 551.8,958.5 552.6,958.8 553.5,957.6 554.3,955.9 555.2,954.6 556.1,956.3 556.9,958.7 557.8,958.1 558.6,957.8 559.5,958.8 560.4,958.7 561.2,959.2 562.1,960.9 562.9,960 563.8,960 564.7,960.6 565.5,960.5 566.4,960.5 567.2,959.7 568.1,960.2 569,959.6 569.8,959.7 570.7,960 571.5,960 572.4,960.1 573.3,960.6 574.1,961 575,961 575.8,959.6 576.7,960.1 577.6,960.5 578.4,961 579.3,962 580.1,961.5 581,961.6 581.9,961.3 582.7,960.2 583.6,959.4 584.4,960.1 585.3,962.1 586.2,963.6 587,963.4 587.9,963 588.7,963.5 589.6,963.6 590.5,964 591.3,964.1 592.2,963.4 593,963.8 593.9,963.8 594.8,964 595.6,963.5 596.5,963 597.3,963.1 598.2,962.6 599.1,962.9 599.9,963.1 600.8,963.2 601.6,963.2 602.5,962.6 603.4,962.9 604.2,963.1 605.1,962.8 605.9,963.4 606.8,963.7 607.7,963.8 608.5,964.3 609.4,963.8 610.2,963.7 611.1,963.8 612,963.4 612.8,963.7 613.7,964 614.5,963.3 615.4,963.2 616.3,963.4 617.1,963.4 618,964.3 618.9,964.6 619.7,964.1 620.6,964.5 621.4,963.9 622.3,964.2 623.2,964.9 624,964.7 624.9,965.2 625.7,964.9 626.6,965.2 627.5,965.1 628.3,965 629.2,965.3 630,965.5 630.9,965.2 631.8,965.2 632.6,964.9 633.5,964.3 634.3,964.5 635.2,964.5 636.1,964.7 636.9,965.1 637.8,965.1 638.6,965.3 639.5,965.5 640.4,965.4 641.2,965.5 642.1,965.6 642.9,965.2 643.8,965.3 644.7,965.1 645.5,965.1 646.4,965.6 647.2,965.6 648.1,965.6 649,966.2 649.8,966.5 650.7,966.3 651.5,966.1 652.4,965.9 653.3,964.9 654.1,961.9 655,959 655.8,955.5 656.7,957.8 657.6,961.1 658.4,964.8 659.3,967.2 660.1,967.2 661,967.2 661.9,967.2 662.7,967.1 663.6,967.4 664.4,967.2 665.3,967.3 666.2,967.2 667,967.2 667.9,966.9 668.7,966.5 669.6,966.9 670.5,966.9 671.3,967.3 672.2,967.8 673,967.8 673.9,968.3 674.8,967.9 675.6,967.7 676.5,966.5 677.3,964.1 678.2,962.4 679.1,963 679.9,964.8 680.8,967.1 681.6,967.8 682.5,968.2 683.4,968.4 684.2,968.6 685.1,968.5 685.9,968.4 686.8,968.8 687.7,968.5 688.5,967.9 689.4,966.9 690.2,966 691.1,967.7 692,969.1 692.8,968.9 693.7,969.4 694.5,969.8 695.4,970 696.3,970 697.1,970.2 698,969.9 698.8,970.2 699.7,970.6 700.6,970.6 701.4,970.5 702.3,970.6 703.1,970.1 704,970.1 704.9,970.2 705.7,970.1 706.6,970.3 707.4,970.3 708.3,970 709.2,970 710,969.9 710.9,969.8 711.7,970 712.6,970.1 713.5,970.1 714.3,970.5 715.2,970.5 716,970.3 716.9,970.2 717.8,969.7 718.6,969.6 719.5,970.3 720.3,970.5 721.2,970.9 722.1,971.2 722.9,971 723.8,970.8 724.6,970.7 725.5,970.7 726.4,970.7 727.2,971 728.1,970.9 728.9,970.9 729.8,971.2 730.7,971.2 731.5,971.4 732.4,971.3 733.2,971.2 734.1,970.9 735,970.6 735.8,970.9 736.7,970.6 737.6,970.8 738.4,971 739.3,970.7 740.1,971.1 741,971.5 741.9,971.5 742.7,971.3 743.6,971.2 744.4,971.1 745.3,970.9 746.2,971 747,971.1 747.9,970.8 748.7,970.9 749.6,971.1 750.5,971.4 751.3,971.3 752.2,971.3 753,971.3 753.9,971.3 754.8,971.3 755.6,971.1 756.5,971.1 757.3,970.9 758.2,970.8 759.1,971.2 759.9,970.8 760.8,970.8 761.6,970.7 762.5,970.3 763.4,970.4 764.2,970.1 765.1,969.9 765.9,969.8 766.8,969.7 767.7,969.6 768.5,969.4 769.4,969.2 770.2,969.1 771.1,969.2 772,969.2 772.8,969.1 773.7,968.9 774.5,968.7 775.4,968.1 776.3,967.5 777.1,967 778,966.3 778.8,965.8 779.7,965.1 780.6,964.6 781.4,964.2 782.3,963.6 783.1,963.1 784,962.5 784.9,961.8 785.7,961.1 786.6,960.9 787.4,960.1 788.3,959.6 789.2,959.1 790,958.2 790.9,957.4 791.7,956.8 792.6,955.9 793.5,955.5 794.3,955.4 795.2,955.1 796,954.9 796.9,954.5 797.8,954.6 798.6,955 799.5,955.6 800.3,956.2 801.2,956.5 802.1,956.8 802.9,957.6 803.8,958.3 804.6,959.2 805.5,960.1 806.4,960.9 807.2,961.9 808.1,962.8 808.9,963.7 809.8,964.8 810.7,965.6 811.5,966.2 812.4,966.6 813.2,967 814.1,967.6 815,968.1 815.8,968.7 816.7,969.2 817.5,969.7 818.4,970.2 819.3,970.8 820.1,971.7 821,971.9 821.8,972.2 822.7,972.7 823.6,972.6 824.4,973 825.3,973.2 826.1,973.6 827,974 827.9,974.4 828.7,974.6 829.6,974.8 830.4,974.8 831.3,975 832.2,975.2 833,975.4 833.9,975.4 834.7,975.5 835.6,975.5 836.5,975.3 837.3,975.5 838.2,975.6 839,975.8 839.9,976 840.8,976 841.6,975.9 842.5,976.1 843.3,976.2 844.2,976.6 845.1,976.7 845.9,976.7 846.8,976.9 847.6,977 848.5,976.9 849.4,977.1 850.2,976.9 851.1,976.8 851.9,977.1 852.8,977.4 853.7,977.5 854.5,977.6 855.4,977.9 856.3,978 857.1,978 858,978 858.8,977.9 859.7,977.9 860.6,978 861.4,978.2 862.3,978 863.1,977.9 864,978 864.9,977.8 865.7,978 866.6,977.9 867.4,977.9 868.3,978.1 869.2,978 870,978.2 870.9,978.6 871.7,978.4 872.6,978.5 873.5,978.3 874.3,978.2 875.2,978.1 876,978.1 876.9,978.3 877.8,978.4 878.6,978.8 879.5,979 880.3,979.2 881.2,979 882.1,978.8 882.9,978.8 883.8,978.7 884.6,979 885.5,978.7 886.4,978.6 887.2,978.7 888.1,978.6 888.9,978.8 889.8,978.7 890.7,978.7 891.5,978.7 892.4,978.6 893.2,978.5 894.1,978.6 895,978.5 895.8,978.6 896.7,978.7 897.5,978.8 898.4,978.9 899.3,979 900.1,979 901,979 901.8,979.2 902.7,979.1 903.6,979.1 904.4,979 905.3,978.8 906.1,978.9 907,978.7 907.9,979 908.7,979.1 909.6,979.1 910.4,979.4 911.3,979.4 912.2,979.4 913,979.5 913.9,979.2 914.7,979.3 915.6,979.3 916.5,979.2 917.3,979.4 918.2,979.6 919,979.6 919.9,979.6 920.8,979.3 921.6,979.3 922.5,979.4 923.3,979.4 924.2,979.5 925.1,979.7 925.9,979.5 926.8,979.5 927.6,979.5 928.5,979.5 929.4,979.6 930.2,979.5 931.1,979.7 931.9,979.7 932.8,979.7 933.7,979.7 934.5,979.9 935.4,980 936.2,979.8 937.1,979.9 938,980 938.8,979.7 939.7,979.7 940.5,979.8 941.4,979.7 942.3,979.8 943.1,979.9 944,979.8 944.8,979.9 945.7,979.9 946.6,979.9 947.4,980 948.3,980.1 949.1,980.1 950,980 950.9,980 951.7,980.2 952.6,980.2 953.4,980.4 954.3,980.3 955.2,980 956,979.9 956.9,980 957.7,980 958.6,980 959.5,979.9 960.3,979.9 961.2,979.8 962,979.9 962.9,979.9 963.8,979.8 964.6,979.8 965.5,979.7 966.3,979.8 967.2,980.1 968.1,980 968.9,980.2 969.8,980.1 970.6,980 971.5,980 972.4,979.9 973.2,980.1 974.1,980 975,980 975.8,980.3 976.7,980.1 977.5,980.1 978.4,980.1 979.3,980 980.1,980.2 981,980.3 981.8,980.3 982.7,980.4 983.6,980.5 984.4,980.5 985.3,980.5 986.1,980.5 987,980.5 987.9,980.5 988.7,980.6 989.6,980.5 990.4,980.5 991.3,980.6 992.2,980.5 993,980.6 993.9,980.7 994.7,980.6 995.6,980.7 996.5,980.8 997.3,980.8 998.2,980.9 999,980.8 999.9,980.8 1000.8,981 1001.6,980.8 1002.5,980.7 1003.3,980.7 1004.2,980.6 1005.1,980.6 1005.9,980.6 1006.8,980.6 1007.6,980.6 1008.5,980.6 1009.4,980.6 1010.2,980.6 1011.1,980.6 1011.9,980.7 1012.8,980.8 1013.7,980.8 1014.5,980.9 1015.4,980.9 1016.2,980.8 1017.1,980.8 1018,980.9 1018.8,980.9 1019.7,981 1020.5,981 1021.4,981.1 1022.3,981.1 1023.1,981.1 1024,981.2 1024.8,981.1 1025.7,981.1 1026.6,981.1 1027.4,981 1028.3,981 1029.1,981.1 1030,981" fill="none" stroke="#ec8a26" stroke-width="3.0" stroke-linejoin="round" />
<line x1="84.7" y1="767.5" x2="84.7" y2="1040.1" stroke="#1d1d1b" stroke-width="1.35" />
<line x1="84.2" y1="1039.6" x2="1030.5" y2="1039.6" stroke="#1d1d1b" stroke-width="1.35" />
<line x1="80.5" y1="1039.6" x2="84.7" y2="1039.6" stroke="#1d1d1b" stroke-width="1.35" />
<text x="76.7" y="1045.5" font-size="16" text-anchor="end" fill="#1d1d1b" textLength="25.8" lengthAdjust="spacingAndGlyphs" >10<tspan font-size="11" dy="-7">1</tspan></text>
<line x1="80.5" y1="979" x2="84.7" y2="979" stroke="#1d1d1b" stroke-width="1.35" />
<text x="76.7" y="984.9" font-size="16" text-anchor="end" fill="#1d1d1b" textLength="25.8" lengthAdjust="spacingAndGlyphs" >10<tspan font-size="11" dy="-7">3</tspan></text>
<line x1="80.5" y1="918.4" x2="84.7" y2="918.4" stroke="#1d1d1b" stroke-width="1.35" />
<text x="76.7" y="924.3" font-size="16" text-anchor="end" fill="#1d1d1b" textLength="25.8" lengthAdjust="spacingAndGlyphs" >10<tspan font-size="11" dy="-7">5</tspan></text>
<line x1="80.5" y1="857.8" x2="84.7" y2="857.8" stroke="#1d1d1b" stroke-width="1.35" />
<text x="76.7" y="863.7" font-size="16" text-anchor="end" fill="#1d1d1b" textLength="25.8" lengthAdjust="spacingAndGlyphs" >10<tspan font-size="11" dy="-7">7</tspan></text>
<line x1="80.5" y1="797.2" x2="84.7" y2="797.2" stroke="#1d1d1b" stroke-width="1.35" />
<text x="76.7" y="803.1" font-size="16" text-anchor="end" fill="#1d1d1b" textLength="25.8" lengthAdjust="spacingAndGlyphs" >10<tspan font-size="11" dy="-7">9</tspan></text>
<line x1="84.7" y1="1039.6" x2="84.7" y2="1044" stroke="#1d1d1b" stroke-width="1.35" />
<text x="85.7" y="1065" font-size="16" text-anchor="middle" fill="#1d1d1b" textLength="25.8" lengthAdjust="spacingAndGlyphs" >10<tspan font-size="11" dy="-7">3</tspan></text>
<line x1="155.8" y1="1039.6" x2="155.8" y2="1042.2" stroke="#1d1d1b" stroke-width="0.9" />
<line x1="197.4" y1="1039.6" x2="197.4" y2="1042.2" stroke="#1d1d1b" stroke-width="0.9" />
<line x1="227" y1="1039.6" x2="227" y2="1042.2" stroke="#1d1d1b" stroke-width="0.9" />
<line x1="249.9" y1="1039.6" x2="249.9" y2="1042.2" stroke="#1d1d1b" stroke-width="0.9" />
<line x1="268.6" y1="1039.6" x2="268.6" y2="1042.2" stroke="#1d1d1b" stroke-width="0.9" />
<line x1="284.4" y1="1039.6" x2="284.4" y2="1042.2" stroke="#1d1d1b" stroke-width="0.9" />
<line x1="298.1" y1="1039.6" x2="298.1" y2="1042.2" stroke="#1d1d1b" stroke-width="0.9" />
<line x1="310.2" y1="1039.6" x2="310.2" y2="1042.2" stroke="#1d1d1b" stroke-width="0.9" />
<line x1="321" y1="1039.6" x2="321" y2="1044" stroke="#1d1d1b" stroke-width="1.35" />
<text x="322" y="1065" font-size="16" text-anchor="middle" fill="#1d1d1b" textLength="25.8" lengthAdjust="spacingAndGlyphs" >10<tspan font-size="11" dy="-7">4</tspan></text>
<line x1="392.1" y1="1039.6" x2="392.1" y2="1042.2" stroke="#1d1d1b" stroke-width="0.9" />
<line x1="433.7" y1="1039.6" x2="433.7" y2="1042.2" stroke="#1d1d1b" stroke-width="0.9" />
<line x1="463.3" y1="1039.6" x2="463.3" y2="1042.2" stroke="#1d1d1b" stroke-width="0.9" />
<line x1="486.2" y1="1039.6" x2="486.2" y2="1042.2" stroke="#1d1d1b" stroke-width="0.9" />
<line x1="504.9" y1="1039.6" x2="504.9" y2="1042.2" stroke="#1d1d1b" stroke-width="0.9" />
<line x1="520.7" y1="1039.6" x2="520.7" y2="1042.2" stroke="#1d1d1b" stroke-width="0.9" />
<line x1="534.4" y1="1039.6" x2="534.4" y2="1042.2" stroke="#1d1d1b" stroke-width="0.9" />
<line x1="546.5" y1="1039.6" x2="546.5" y2="1042.2" stroke="#1d1d1b" stroke-width="0.9" />
<line x1="557.3" y1="1039.6" x2="557.3" y2="1044" stroke="#1d1d1b" stroke-width="1.35" />
<text x="558.3" y="1065" font-size="16" text-anchor="middle" fill="#1d1d1b" textLength="25.8" lengthAdjust="spacingAndGlyphs" >10<tspan font-size="11" dy="-7">5</tspan></text>
<line x1="628.4" y1="1039.6" x2="628.4" y2="1042.2" stroke="#1d1d1b" stroke-width="0.9" />
<line x1="670" y1="1039.6" x2="670" y2="1042.2" stroke="#1d1d1b" stroke-width="0.9" />
<line x1="699.6" y1="1039.6" x2="699.6" y2="1042.2" stroke="#1d1d1b" stroke-width="0.9" />
<line x1="722.5" y1="1039.6" x2="722.5" y2="1042.2" stroke="#1d1d1b" stroke-width="0.9" />
<line x1="741.2" y1="1039.6" x2="741.2" y2="1042.2" stroke="#1d1d1b" stroke-width="0.9" />
<line x1="757" y1="1039.6" x2="757" y2="1042.2" stroke="#1d1d1b" stroke-width="0.9" />
<line x1="770.7" y1="1039.6" x2="770.7" y2="1042.2" stroke="#1d1d1b" stroke-width="0.9" />
<line x1="782.8" y1="1039.6" x2="782.8" y2="1042.2" stroke="#1d1d1b" stroke-width="0.9" />
<line x1="793.6" y1="1039.6" x2="793.6" y2="1044" stroke="#1d1d1b" stroke-width="1.35" />
<text x="794.6" y="1065" font-size="16" text-anchor="middle" fill="#1d1d1b" textLength="25.8" lengthAdjust="spacingAndGlyphs" >10<tspan font-size="11" dy="-7">6</tspan></text>
<line x1="864.7" y1="1039.6" x2="864.7" y2="1042.2" stroke="#1d1d1b" stroke-width="0.9" />
<line x1="906.3" y1="1039.6" x2="906.3" y2="1042.2" stroke="#1d1d1b" stroke-width="0.9" />
<line x1="935.9" y1="1039.6" x2="935.9" y2="1042.2" stroke="#1d1d1b" stroke-width="0.9" />
<line x1="958.8" y1="1039.6" x2="958.8" y2="1042.2" stroke="#1d1d1b" stroke-width="0.9" />
<line x1="977.5" y1="1039.6" x2="977.5" y2="1042.2" stroke="#1d1d1b" stroke-width="0.9" />
<line x1="993.3" y1="1039.6" x2="993.3" y2="1042.2" stroke="#1d1d1b" stroke-width="0.9" />
<line x1="1007" y1="1039.6" x2="1007" y2="1042.2" stroke="#1d1d1b" stroke-width="0.9" />
<line x1="1019.1" y1="1039.6" x2="1019.1" y2="1042.2" stroke="#1d1d1b" stroke-width="0.9" />
<line x1="1029.9" y1="1039.6" x2="1029.9" y2="1044" stroke="#1d1d1b" stroke-width="1.35" />
<text x="1030.9" y="1065" font-size="16" text-anchor="middle" fill="#1d1d1b" textLength="25.8" lengthAdjust="spacingAndGlyphs" >10<tspan font-size="11" dy="-7">7</tspan></text>
<text x="552.5" y="1084.3" font-size="16" text-anchor="middle" fill="#1d1d1b" textLength="126" lengthAdjust="spacingAndGlyphs" >Frequency (MHz)</text>
<text transform="translate(33.3 904) rotate(-90)" font-size="16" text-anchor="middle" fill="#1d1d1b" textLength="94" lengthAdjust="spacingAndGlyphs" ><tspan>S</tspan><tspan font-style="italic" font-size="10.5" dy="3.5">ff</tspan><tspan dy="-3.5"> (Hz</tspan><tspan font-size="10" dy="-5.5">2</tspan><tspan dy="5.5"> Hz</tspan><tspan font-size="10" dy="-5.5">–1</tspan><tspan dy="5.5">)</tspan></text>
<line x1="678.7" y1="786.4" x2="706.8" y2="786.4" stroke="#2c7bb8" stroke-width="2.3" />
<line x1="678.7" y1="805.5" x2="706.8" y2="805.5" stroke="#f28a1e" stroke-width="2.4" />
<line x1="678.7" y1="824.2" x2="706.8" y2="824.2" stroke="#f0912d" stroke-width="2.5" stroke-dasharray="3.2 4.2 13.5 4.2"/>
<line x1="678.7" y1="843.6" x2="706.8" y2="843.6" stroke="#b3363f" stroke-width="2.5" stroke-dasharray="16.5 6 3.2 6"/>
<text x="717.6" y="791.2" font-size="16" text-anchor="start" fill="#1d1d1b" textLength="130" lengthAdjust="spacingAndGlyphs" >Free-running DFB</text>
<text x="717.6" y="810.6" font-size="16" text-anchor="start" fill="#1d1d1b" textLength="361.5" lengthAdjust="spacingAndGlyphs" >DFB locked to microresonator with 102-GHz FSR</text>
<text x="717.6" y="828.9" font-size="16" text-anchor="start" fill="#1d1d1b" textLength="198.3" lengthAdjust="spacingAndGlyphs" >TRN limit for 102-GHz FSR</text>
<text x="717.6" y="847.6" font-size="16" text-anchor="start" fill="#1d1d1b" textLength="65" lengthAdjust="spacingAndGlyphs" >Beta-line</text>
<text x="0.7" y="776.7" font-size="21.3" text-anchor="start" fill="#050505" font-weight="bold" textLength="14.1" lengthAdjust="spacingAndGlyphs" stroke="#050505" stroke-width="0.45">h</text>
</g>
</svg>
</body></html>
